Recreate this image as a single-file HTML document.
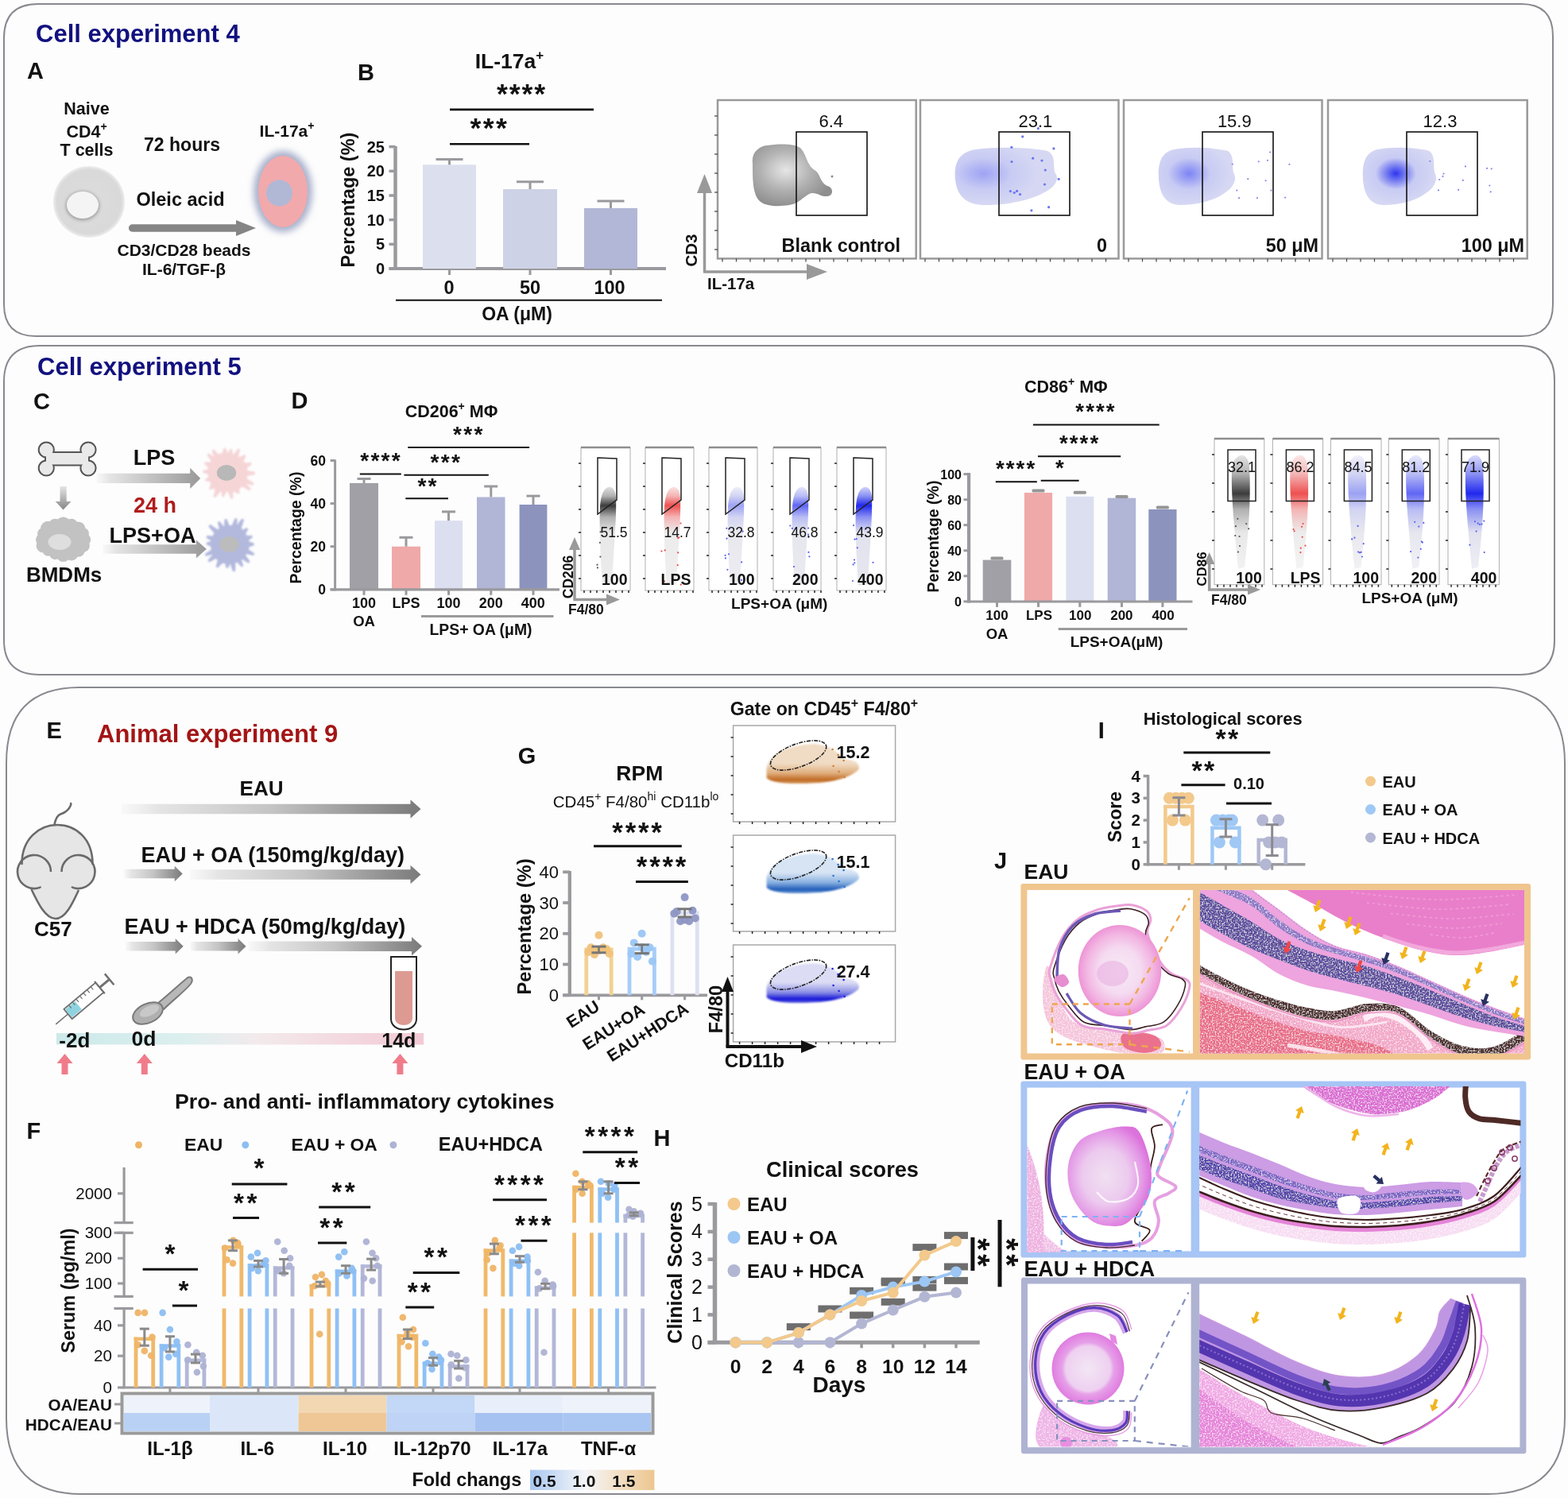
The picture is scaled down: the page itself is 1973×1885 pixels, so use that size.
<!DOCTYPE html>
<html><head><meta charset="utf-8"><title>Figure</title>
<style>
html,body{margin:0;padding:0;background:#fdfdfd;}
svg{display:block;font-family:"Liberation Sans",Arial,sans-serif;}
</style></head><body>
<svg xmlns="http://www.w3.org/2000/svg" width="1973" height="1885" viewBox="0 0 1973 1885">
<defs>
<radialGradient id="gcell" cx="0.5" cy="0.5" r="0.5"><stop offset="0" stop-color="#dddddd"/><stop offset="0.9" stop-color="#d9d9d9"/><stop offset="1" stop-color="#dadada" stop-opacity="0.45"/></radialGradient>
<filter id="blur2" x="-30%" y="-30%" width="160%" height="160%"><feGaussianBlur stdDeviation="2"/></filter>
<filter id="blur4" x="-40%" y="-40%" width="180%" height="180%"><feGaussianBlur stdDeviation="4"/></filter>
<filter id="blur1" x="-30%" y="-30%" width="160%" height="160%"><feGaussianBlur stdDeviation="1"/></filter>
<radialGradient id="fgray" cx="0.42" cy="0.42" r="0.6"><stop offset="0" stop-color="#e6e6e6"/><stop offset="0.55" stop-color="#b0b0b0"/><stop offset="1" stop-color="#8e8e8e"/></radialGradient>
<radialGradient id="fblue1" cx="0.28" cy="0.45" r="0.55"><stop offset="0" stop-color="#9ea4f4"/><stop offset="0.5" stop-color="#c8cbf3"/><stop offset="1" stop-color="#d6d8f3"/></radialGradient>
<radialGradient id="fblue2" cx="0.4" cy="0.45" r="0.55"><stop offset="0" stop-color="#7c84f4"/><stop offset="0.5" stop-color="#c8cbf3"/><stop offset="1" stop-color="#d6d8f3"/></radialGradient>
<radialGradient id="fblue3" cx="0.45" cy="0.45" r="0.55"><stop offset="0" stop-color="#2e36ee"/><stop offset="0.5" stop-color="#c8cbf3"/><stop offset="1" stop-color="#d6d8f3"/></radialGradient>
<linearGradient id="gdown" x1="0" y1="612" x2="0" y2="642" gradientUnits="userSpaceOnUse"><stop offset="0" stop-color="#e4e4e4"/><stop offset="1" stop-color="#858585"/></linearGradient>
<linearGradient id="garr1" x1="121.6" y1="0" x2="252.2" y2="0" gradientUnits="userSpaceOnUse"><stop offset="0" stop-color="#e6e6e6" stop-opacity="0.2"/><stop offset="0.12" stop-color="#e2e2e2" stop-opacity="0.9"/><stop offset="0.5" stop-color="#c4c4c4"/><stop offset="1" stop-color="#999999"/></linearGradient>
<linearGradient id="garr2" x1="129.3" y1="0" x2="259.9" y2="0" gradientUnits="userSpaceOnUse"><stop offset="0" stop-color="#e6e6e6" stop-opacity="0.2"/><stop offset="0.12" stop-color="#e2e2e2" stop-opacity="0.9"/><stop offset="0.5" stop-color="#c4c4c4"/><stop offset="1" stop-color="#999999"/></linearGradient>
<linearGradient id="g206_0" x1="0" y1="611" x2="0" y2="743" gradientUnits="userSpaceOnUse"><stop offset="0" stop-color="#b0b0b0" stop-opacity="0.3"/><stop offset="0.1" stop-color="#b0b0b0"/><stop offset="0.19" stop-color="#3c3c3c"/><stop offset="0.3" stop-color="#b0b0b0"/><stop offset="0.45" stop-color="#e8e8e8"/><stop offset="1" stop-color="#e8e8e8" stop-opacity="0.8"/></linearGradient>
<linearGradient id="g206_1" x1="0" y1="611" x2="0" y2="743" gradientUnits="userSpaceOnUse"><stop offset="0" stop-color="#f4b4b4" stop-opacity="0.3"/><stop offset="0.1" stop-color="#f4b4b4"/><stop offset="0.19" stop-color="#ee5050"/><stop offset="0.3" stop-color="#f4b4b4"/><stop offset="0.45" stop-color="#ececec"/><stop offset="1" stop-color="#ececec" stop-opacity="0.8"/></linearGradient>
<linearGradient id="g206_2" x1="0" y1="611" x2="0" y2="743" gradientUnits="userSpaceOnUse"><stop offset="0" stop-color="#d2d4f2" stop-opacity="0.3"/><stop offset="0.1" stop-color="#d2d4f2"/><stop offset="0.19" stop-color="#9ca2f4"/><stop offset="0.3" stop-color="#d2d4f2"/><stop offset="0.45" stop-color="#e8e8ee"/><stop offset="1" stop-color="#e8e8ee" stop-opacity="0.8"/></linearGradient>
<linearGradient id="g206_3" x1="0" y1="611" x2="0" y2="743" gradientUnits="userSpaceOnUse"><stop offset="0" stop-color="#b8bcf4" stop-opacity="0.3"/><stop offset="0.1" stop-color="#b8bcf4"/><stop offset="0.19" stop-color="#6066f4"/><stop offset="0.3" stop-color="#b8bcf4"/><stop offset="0.45" stop-color="#e6e6ee"/><stop offset="1" stop-color="#e6e6ee" stop-opacity="0.8"/></linearGradient>
<linearGradient id="g206_4" x1="0" y1="611" x2="0" y2="743" gradientUnits="userSpaceOnUse"><stop offset="0" stop-color="#8a90f2" stop-opacity="0.3"/><stop offset="0.1" stop-color="#8a90f2"/><stop offset="0.19" stop-color="#2028ee"/><stop offset="0.3" stop-color="#8a90f2"/><stop offset="0.45" stop-color="#e2e2ee"/><stop offset="1" stop-color="#e2e2ee" stop-opacity="0.8"/></linearGradient>
<linearGradient id="g86_0" x1="0" y1="572" x2="0" y2="735.7" gradientUnits="userSpaceOnUse"><stop offset="0" stop-color="#b0b0b0" stop-opacity="0.3"/><stop offset="0.15" stop-color="#b0b0b0"/><stop offset="0.3" stop-color="#3c3c3c"/><stop offset="0.42" stop-color="#b0b0b0"/><stop offset="0.6" stop-color="#e8e8e8"/><stop offset="1" stop-color="#e8e8e8" stop-opacity="0.4"/></linearGradient>
<linearGradient id="g86_1" x1="0" y1="572" x2="0" y2="735.7" gradientUnits="userSpaceOnUse"><stop offset="0" stop-color="#f4b4b4" stop-opacity="0.3"/><stop offset="0.15" stop-color="#f4b4b4"/><stop offset="0.3" stop-color="#ee5050"/><stop offset="0.42" stop-color="#f4b4b4"/><stop offset="0.6" stop-color="#ececec"/><stop offset="1" stop-color="#ececec" stop-opacity="0.4"/></linearGradient>
<linearGradient id="g86_2" x1="0" y1="572" x2="0" y2="735.7" gradientUnits="userSpaceOnUse"><stop offset="0" stop-color="#d2d4f2" stop-opacity="0.3"/><stop offset="0.15" stop-color="#d2d4f2"/><stop offset="0.3" stop-color="#9ca2f4"/><stop offset="0.42" stop-color="#d2d4f2"/><stop offset="0.6" stop-color="#e8e8ee"/><stop offset="1" stop-color="#e8e8ee" stop-opacity="0.4"/></linearGradient>
<linearGradient id="g86_3" x1="0" y1="572" x2="0" y2="735.7" gradientUnits="userSpaceOnUse"><stop offset="0" stop-color="#b8bcf4" stop-opacity="0.3"/><stop offset="0.15" stop-color="#b8bcf4"/><stop offset="0.3" stop-color="#6066f4"/><stop offset="0.42" stop-color="#b8bcf4"/><stop offset="0.6" stop-color="#e6e6ee"/><stop offset="1" stop-color="#e6e6ee" stop-opacity="0.4"/></linearGradient>
<linearGradient id="g86_4" x1="0" y1="572" x2="0" y2="735.7" gradientUnits="userSpaceOnUse"><stop offset="0" stop-color="#8a90f2" stop-opacity="0.3"/><stop offset="0.15" stop-color="#8a90f2"/><stop offset="0.3" stop-color="#2028ee"/><stop offset="0.42" stop-color="#8a90f2"/><stop offset="0.6" stop-color="#e2e2ee"/><stop offset="1" stop-color="#e2e2ee" stop-opacity="0.4"/></linearGradient>
<linearGradient id="gE1" x1="153" y1="0" x2="529.5" y2="0" gradientUnits="userSpaceOnUse"><stop offset="0" stop-color="#e6e6e6" stop-opacity="0.2"/><stop offset="0.12" stop-color="#e2e2e2" stop-opacity="0.9"/><stop offset="0.5" stop-color="#c4c4c4"/><stop offset="1" stop-color="#7a7a7a"/></linearGradient>
<linearGradient id="gE2a" x1="156" y1="0" x2="229.7" y2="0" gradientUnits="userSpaceOnUse"><stop offset="0" stop-color="#e6e6e6" stop-opacity="0.2"/><stop offset="0.12" stop-color="#e2e2e2" stop-opacity="0.9"/><stop offset="0.5" stop-color="#c4c4c4"/><stop offset="1" stop-color="#7a7a7a"/></linearGradient>
<linearGradient id="gE2b" x1="239.5" y1="0" x2="529.5" y2="0" gradientUnits="userSpaceOnUse"><stop offset="0" stop-color="#e6e6e6" stop-opacity="0.2"/><stop offset="0.12" stop-color="#e2e2e2" stop-opacity="0.9"/><stop offset="0.5" stop-color="#c4c4c4"/><stop offset="1" stop-color="#7a7a7a"/></linearGradient>
<linearGradient id="gE3a" x1="158" y1="0" x2="230.7" y2="0" gradientUnits="userSpaceOnUse"><stop offset="0" stop-color="#e6e6e6" stop-opacity="0.2"/><stop offset="0.12" stop-color="#e2e2e2" stop-opacity="0.9"/><stop offset="0.5" stop-color="#c4c4c4"/><stop offset="1" stop-color="#7a7a7a"/></linearGradient>
<linearGradient id="gE3b" x1="239.5" y1="0" x2="309.5" y2="0" gradientUnits="userSpaceOnUse"><stop offset="0" stop-color="#e6e6e6" stop-opacity="0.2"/><stop offset="0.12" stop-color="#e2e2e2" stop-opacity="0.9"/><stop offset="0.5" stop-color="#c4c4c4"/><stop offset="1" stop-color="#7a7a7a"/></linearGradient>
<linearGradient id="gE3c" x1="312.8" y1="0" x2="531" y2="0" gradientUnits="userSpaceOnUse"><stop offset="0" stop-color="#e6e6e6" stop-opacity="0.2"/><stop offset="0.12" stop-color="#e2e2e2" stop-opacity="0.9"/><stop offset="0.5" stop-color="#c4c4c4"/><stop offset="1" stop-color="#7a7a7a"/></linearGradient>
<linearGradient id="gtl" x1="71" y1="0" x2="533" y2="0" gradientUnits="userSpaceOnUse"><stop offset="0" stop-color="#cde9ea"/><stop offset="0.35" stop-color="#dcefef"/><stop offset="0.55" stop-color="#f3eaec"/><stop offset="1" stop-color="#f3c9d4"/></linearGradient>
<linearGradient id="gfold" x1="667" y1="0" x2="823" y2="0" gradientUnits="userSpaceOnUse"><stop offset="0" stop-color="#a9c8f1"/><stop offset="0.45" stop-color="#f6f6f8"/><stop offset="1" stop-color="#edc68f"/></linearGradient>
<linearGradient id="gG0" x1="0" y1="933" x2="0" y2="988" gradientUnits="userSpaceOnUse"><stop offset="0" stop-color="#f0dcc4"/><stop offset="0.5" stop-color="#f0dcc4"/><stop offset="0.72" stop-color="#e0b080"/><stop offset="0.88" stop-color="#c06a20"/><stop offset="1" stop-color="#e0b080"/></linearGradient>
<linearGradient id="gG1" x1="0" y1="1071" x2="0" y2="1126" gradientUnits="userSpaceOnUse"><stop offset="0" stop-color="#d6e4f4"/><stop offset="0.5" stop-color="#d6e4f4"/><stop offset="0.72" stop-color="#88b0e0"/><stop offset="0.88" stop-color="#1e5cb8"/><stop offset="1" stop-color="#88b0e0"/></linearGradient>
<linearGradient id="gG2" x1="0" y1="1209" x2="0" y2="1264" gradientUnits="userSpaceOnUse"><stop offset="0" stop-color="#dcdcf4"/><stop offset="0.5" stop-color="#dcdcf4"/><stop offset="0.72" stop-color="#8c90e4"/><stop offset="0.88" stop-color="#1010d8"/><stop offset="1" stop-color="#8c90e4"/></linearGradient>
<filter id="spW" x="0" y="0" width="100%" height="100%"><feTurbulence type="fractalNoise" baseFrequency="0.55" numOctaves="1" seed="4" result="n"/><feColorMatrix in="n" type="matrix" values="0 0 0 0 1  0 0 0 0 1  0 0 0 0 1  0 0 0 -2.6 1.38" result="w"/><feComposite in="w" in2="SourceGraphic" operator="in" result="wm"/><feMerge><feMergeNode in="SourceGraphic"/><feMergeNode in="wm"/></feMerge></filter>
<filter id="spD" x="0" y="0" width="100%" height="100%"><feTurbulence type="fractalNoise" baseFrequency="0.5" numOctaves="1" seed="9" result="n"/><feColorMatrix in="n" type="matrix" values="0 0 0 0 0.35  0 0 0 0 0.25  0 0 0 0 0.6  0 0 0 -7 3.5" result="w"/><feComposite in="w" in2="SourceGraphic" operator="in" result="wm"/><feMerge><feMergeNode in="SourceGraphic"/><feMergeNode in="wm"/></feMerge></filter>
<radialGradient id="glens1" cx="0.5" cy="0.5" r="0.5"><stop offset="0" stop-color="#f7e9f5"/><stop offset="0.5" stop-color="#f5dbf1"/><stop offset="0.8" stop-color="#f2b6e2"/><stop offset="1" stop-color="#ee94d6"/></radialGradient>
<radialGradient id="glens2" cx="0.45" cy="0.5" r="0.55"><stop offset="0" stop-color="#f0e0f2"/><stop offset="0.5" stop-color="#eccaee"/><stop offset="0.8" stop-color="#e49ae6"/><stop offset="1" stop-color="#dc72dc"/></radialGradient>
<radialGradient id="glens3" cx="0.5" cy="0.5" r="0.5"><stop offset="0" stop-color="#f3e6f5"/><stop offset="0.62" stop-color="#eed0f0"/><stop offset="0.72" stop-color="#e6a0e8"/><stop offset="1" stop-color="#e07ce0"/></radialGradient>
</defs>
<rect x="0" y="0" width="1973" height="1885" fill="#fdfdfd"/>
<path d="M48,5 H1914 Q1954,5 1954,45 V383 Q1954,423 1914,423 H45 Q5,423 5,383 V48 Q5,5 48,5 Z" fill="none" stroke="#88898f" stroke-width="2" />
<path d="M50,435 H1913 Q1956,435 1956,478 V806 Q1956,849 1913,849 H50 Q5,849 5,806 V480 Q5,435 50,435 Z" fill="none" stroke="#88898f" stroke-width="2" />
<path d="M100,865 H1874 Q1969,865 1969,960 V1783 Q1969,1880 1872,1880 H103 Q8,1880 8,1785 V960 Q8,865 100,865 Z" fill="none" stroke="#88898f" stroke-width="2" />
<text x="45.0" y="52.5" font-size="31" text-anchor="start" fill="#12117f" style="font-weight:bold;" >Cell experiment 4</text>
<text x="47.0" y="471.5" font-size="31" text-anchor="start" fill="#12117f" style="font-weight:bold;" >Cell experiment 5</text>
<text x="122.0" y="934.0" font-size="31" text-anchor="start" fill="#a31515" style="font-weight:bold;" >Animal experiment 9</text>
<text x="34.0" y="99.0" font-size="29" text-anchor="start" fill="#111" style="font-weight:bold;" >A</text>
<text x="109.0" y="144.0" font-size="21.5" text-anchor="middle" fill="#111" style="font-weight:bold;" >Naive</text>
<text x="109" y="172.5" font-size="21.5" text-anchor="middle" style="font-weight:bold" fill="#111">CD4<tspan dy="-9" font-size="14">+</tspan></text>
<text x="109.0" y="196.0" font-size="21.5" text-anchor="middle" fill="#111" style="font-weight:bold;" >T cells</text>
<circle cx="112.0" cy="254.0" r="45.0" fill="url(#gcell)" />
<ellipse cx="104.0" cy="259.0" rx="21.0" ry="18.0" fill="#9a9a9a" filter="url(#blur2)"/>
<ellipse cx="104.0" cy="258.0" rx="20.0" ry="17.0" fill="#f4f4f4" />
<text x="229.0" y="190.0" font-size="23" text-anchor="middle" fill="#111" style="font-weight:bold;" >72 hours</text>
<text x="227.0" y="259.0" font-size="23.5" text-anchor="middle" fill="#111" style="font-weight:bold;" >Oleic acid</text>
<line x1="166.5" y1="287.0" x2="300.0" y2="287.0" stroke="#858585" stroke-width="9.3" stroke-linecap="round"/>
<path d="M297,277 L322,287 L297,297 Z" fill="#858585" stroke="none" stroke-width="1" />
<text x="231.5" y="321.5" font-size="21" text-anchor="middle" fill="#111" style="font-weight:bold;" >CD3/CD28 beads</text>
<text x="231.5" y="346.0" font-size="21" text-anchor="middle" fill="#111" style="font-weight:bold;" >IL-6/TGF-β</text>
<text x="361" y="172" font-size="21" text-anchor="middle" fill="#111" style="font-weight:bold">IL-17a<tspan dy="-9" font-size="14">+</tspan></text>
<ellipse cx="356.0" cy="241.0" rx="37.0" ry="51.0" fill="#a8b0cb" filter="url(#blur4)"/>
<ellipse cx="356.0" cy="241.0" rx="31.0" ry="45.0" fill="#f2a9ac" />
<circle cx="351.5" cy="243.0" r="16.5" fill="#b0b8d6" />
<text x="450.0" y="100.8" font-size="29" text-anchor="start" fill="#111" style="font-weight:bold;" >B</text>
<text x="641" y="86" font-size="26.5" text-anchor="middle" fill="#111" style="font-weight:bold">IL-17a<tspan dy="-11" font-size="17">+</tspan></text>
<line x1="497.5" y1="184.0" x2="497.5" y2="340.0" stroke="#9a9a9e" stroke-width="4.5" />
<line x1="489.5" y1="338.0" x2="838.0" y2="338.0" stroke="#9a9a9e" stroke-width="3.8" />
<line x1="489.5" y1="338.0" x2="497.5" y2="338.0" stroke="#9a9a9e" stroke-width="3.5" />
<text x="484.0" y="345.0" font-size="20" text-anchor="end" fill="#111" style="font-weight:bold;" >0</text>
<line x1="489.5" y1="307.3" x2="497.5" y2="307.3" stroke="#9a9a9e" stroke-width="3.5" />
<text x="484.0" y="314.3" font-size="20" text-anchor="end" fill="#111" style="font-weight:bold;" >5</text>
<line x1="489.5" y1="276.6" x2="497.5" y2="276.6" stroke="#9a9a9e" stroke-width="3.5" />
<text x="484.0" y="283.6" font-size="20" text-anchor="end" fill="#111" style="font-weight:bold;" >10</text>
<line x1="489.5" y1="246.0" x2="497.5" y2="246.0" stroke="#9a9a9e" stroke-width="3.5" />
<text x="484.0" y="253.0" font-size="20" text-anchor="end" fill="#111" style="font-weight:bold;" >15</text>
<line x1="489.5" y1="215.3" x2="497.5" y2="215.3" stroke="#9a9a9e" stroke-width="3.5" />
<text x="484.0" y="222.3" font-size="20" text-anchor="end" fill="#111" style="font-weight:bold;" >20</text>
<line x1="489.5" y1="184.6" x2="497.5" y2="184.6" stroke="#9a9a9e" stroke-width="3.5" />
<text x="484.0" y="191.6" font-size="20" text-anchor="end" fill="#111" style="font-weight:bold;" >25</text>
<rect x="532.0" y="207.3" width="67.0" height="130.7" fill="#dcdfee" stroke="none" stroke-width="1" />
<line x1="565.5" y1="200.6" x2="565.5" y2="207.3" stroke="#9a9a9e" stroke-width="3" />
<line x1="548.5" y1="200.6" x2="582.5" y2="200.6" stroke="#9a9a9e" stroke-width="3" />
<line x1="565.5" y1="338.0" x2="565.5" y2="346.0" stroke="#9a9a9e" stroke-width="3" />
<rect x="633.0" y="238.0" width="68.0" height="100.0" fill="#ced2e6" stroke="none" stroke-width="1" />
<line x1="667.0" y1="228.8" x2="667.0" y2="238.0" stroke="#9a9a9e" stroke-width="3" />
<line x1="650.0" y1="228.8" x2="684.0" y2="228.8" stroke="#9a9a9e" stroke-width="3" />
<line x1="667.0" y1="338.0" x2="667.0" y2="346.0" stroke="#9a9a9e" stroke-width="3" />
<rect x="735.0" y="261.9" width="67.0" height="76.1" fill="#b2b7d7" stroke="none" stroke-width="1" />
<line x1="768.5" y1="253.0" x2="768.5" y2="261.9" stroke="#9a9a9e" stroke-width="3" />
<line x1="751.5" y1="253.0" x2="785.5" y2="253.0" stroke="#9a9a9e" stroke-width="3" />
<line x1="768.5" y1="338.0" x2="768.5" y2="346.0" stroke="#9a9a9e" stroke-width="3" />
<text x="565.0" y="369.6" font-size="23.5" text-anchor="middle" fill="#111" style="font-weight:bold;" >0</text>
<text x="667.0" y="369.6" font-size="23.5" text-anchor="middle" fill="#111" style="font-weight:bold;" >50</text>
<text x="767.0" y="369.6" font-size="23.5" text-anchor="middle" fill="#111" style="font-weight:bold;" >100</text>
<line x1="498.0" y1="377.7" x2="833.0" y2="377.7" stroke="#111" stroke-width="2" />
<text x="650.5" y="403.0" font-size="23" text-anchor="middle" fill="#111" style="font-weight:bold;" >OA (μM)</text>
<text transform="translate(446,251.5) rotate(-90)" font-size="23.5" text-anchor="middle" fill="#111" style="font-weight:bold">Percentage (%)</text>
<text x="656.5" y="130.2" font-size="35.7" text-anchor="middle" fill="#111" style="font-weight:bold;letter-spacing:1.92px">****</text>
<line x1="566.0" y1="137.9" x2="747.0" y2="137.9" stroke="#111" stroke-width="2.6" />
<text x="615.9" y="173.2" font-size="35.7" text-anchor="middle" fill="#111" style="font-weight:bold;letter-spacing:2.42px">***</text>
<line x1="566.0" y1="181.3" x2="666.0" y2="181.3" stroke="#111" stroke-width="2.6" />
<rect x="903.0" y="126.0" width="249.7" height="199.4" fill="#ffffff" stroke="#9a9a9a" stroke-width="2.5" />
<path d="M947,206 C945,192 955,184 965,183 C978,181 998,180 1007,186 C1015,194 1015,208 1025,214 C1033,219 1031,229 1041,234 C1049,236 1049,246 1041,247 C1033,248 1029,242 1021,243 C1011,246 1007,256 993,258 C981,260 965,260 957,254 C947,246 947,226 947,206 Z" fill="url(#fgray)" stroke="none" stroke-width="1" />
<circle cx="1047.0" cy="222.0" r="1.5" fill="#8c8c8c" />
<rect x="1002.0" y="166.0" width="89.0" height="105.0" fill="none" stroke="#111" stroke-width="1.6" />
<text x="1045.8" y="160.0" font-size="22" text-anchor="middle" fill="#111" style="" >6.4</text>
<text x="1133.0" y="317.0" font-size="23.4" text-anchor="end" fill="#111" style="font-weight:bold;" >Blank control</text>
<line x1="909.0" y1="325.4" x2="909.0" y2="329.4" stroke="#444" stroke-width="1.2" />
<line x1="926.5" y1="325.4" x2="926.5" y2="329.4" stroke="#444" stroke-width="1.2" />
<line x1="944.0" y1="325.4" x2="944.0" y2="329.4" stroke="#444" stroke-width="1.2" />
<line x1="961.5" y1="325.4" x2="961.5" y2="329.4" stroke="#444" stroke-width="1.2" />
<line x1="979.0" y1="325.4" x2="979.0" y2="329.4" stroke="#444" stroke-width="1.2" />
<line x1="996.5" y1="325.4" x2="996.5" y2="329.4" stroke="#444" stroke-width="1.2" />
<line x1="1014.0" y1="325.4" x2="1014.0" y2="329.4" stroke="#444" stroke-width="1.2" />
<line x1="1031.5" y1="325.4" x2="1031.5" y2="329.4" stroke="#444" stroke-width="1.2" />
<line x1="1049.0" y1="325.4" x2="1049.0" y2="329.4" stroke="#444" stroke-width="1.2" />
<line x1="1066.5" y1="325.4" x2="1066.5" y2="329.4" stroke="#444" stroke-width="1.2" />
<line x1="1084.0" y1="325.4" x2="1084.0" y2="329.4" stroke="#444" stroke-width="1.2" />
<line x1="1101.5" y1="325.4" x2="1101.5" y2="329.4" stroke="#444" stroke-width="1.2" />
<line x1="1119.0" y1="325.4" x2="1119.0" y2="329.4" stroke="#444" stroke-width="1.2" />
<line x1="1136.5" y1="325.4" x2="1136.5" y2="329.4" stroke="#444" stroke-width="1.2" />
<rect x="1158.0" y="126.0" width="249.5" height="199.4" fill="#ffffff" stroke="#9a9a9a" stroke-width="2.5" />
<path d="M1202.0,226 C1200.0,206 1206.0,191 1228.0,188 C1258.0,184 1298.0,186 1318.0,190 C1330.0,196 1324.0,210 1328.0,218 C1334.0,226 1326.0,236 1316.0,241 C1298.0,252 1268.0,258 1238.0,258 C1218.0,258 1204.0,248 1202.0,226 Z" fill="url(#fblue1)" stroke="none" stroke-width="1" />
<circle cx="1273.0" cy="203.5" r="1.6" fill="#6c74ee" />
<circle cx="1276.3" cy="242.5" r="1.6" fill="#6c74ee" />
<circle cx="1306.3" cy="161.7" r="1.6" fill="#6c74ee" />
<circle cx="1271.4" cy="240.6" r="1.6" fill="#6c74ee" />
<circle cx="1279.6" cy="240.4" r="1.6" fill="#6c74ee" />
<circle cx="1315.3" cy="214.0" r="1.6" fill="#6c74ee" />
<circle cx="1332.2" cy="225.3" r="1.6" fill="#6c74ee" />
<circle cx="1311.0" cy="202.0" r="1.6" fill="#6c74ee" />
<circle cx="1286.7" cy="171.9" r="1.6" fill="#6c74ee" />
<circle cx="1299.7" cy="199.2" r="1.6" fill="#6c74ee" />
<circle cx="1325.9" cy="186.9" r="1.6" fill="#6c74ee" />
<circle cx="1297.9" cy="264.8" r="1.6" fill="#6c74ee" />
<circle cx="1314.5" cy="232.0" r="1.6" fill="#6c74ee" />
<circle cx="1319.6" cy="260.7" r="1.6" fill="#6c74ee" />
<circle cx="1283.5" cy="244.6" r="1.6" fill="#6c74ee" />
<circle cx="1272.9" cy="185.3" r="1.6" fill="#6c74ee" />
<rect x="1257.0" y="166.0" width="89.0" height="105.0" fill="none" stroke="#111" stroke-width="1.6" />
<text x="1302.9" y="160.0" font-size="22" text-anchor="middle" fill="#111" style="" >23.1</text>
<text x="1393.0" y="317.0" font-size="23.4" text-anchor="end" fill="#111" style="font-weight:bold;" >0</text>
<line x1="1164.0" y1="325.4" x2="1164.0" y2="329.4" stroke="#444" stroke-width="1.2" />
<line x1="1181.5" y1="325.4" x2="1181.5" y2="329.4" stroke="#444" stroke-width="1.2" />
<line x1="1199.0" y1="325.4" x2="1199.0" y2="329.4" stroke="#444" stroke-width="1.2" />
<line x1="1216.5" y1="325.4" x2="1216.5" y2="329.4" stroke="#444" stroke-width="1.2" />
<line x1="1234.0" y1="325.4" x2="1234.0" y2="329.4" stroke="#444" stroke-width="1.2" />
<line x1="1251.5" y1="325.4" x2="1251.5" y2="329.4" stroke="#444" stroke-width="1.2" />
<line x1="1269.0" y1="325.4" x2="1269.0" y2="329.4" stroke="#444" stroke-width="1.2" />
<line x1="1286.5" y1="325.4" x2="1286.5" y2="329.4" stroke="#444" stroke-width="1.2" />
<line x1="1304.0" y1="325.4" x2="1304.0" y2="329.4" stroke="#444" stroke-width="1.2" />
<line x1="1321.5" y1="325.4" x2="1321.5" y2="329.4" stroke="#444" stroke-width="1.2" />
<line x1="1339.0" y1="325.4" x2="1339.0" y2="329.4" stroke="#444" stroke-width="1.2" />
<line x1="1356.5" y1="325.4" x2="1356.5" y2="329.4" stroke="#444" stroke-width="1.2" />
<line x1="1374.0" y1="325.4" x2="1374.0" y2="329.4" stroke="#444" stroke-width="1.2" />
<line x1="1391.5" y1="325.4" x2="1391.5" y2="329.4" stroke="#444" stroke-width="1.2" />
<rect x="1414.0" y="126.0" width="249.5" height="199.4" fill="#ffffff" stroke="#9a9a9a" stroke-width="2.5" />
<path d="M1458.0,226 C1456.5,206 1461.0,191 1477.5,188 C1500.0,184 1530.0,186 1545.0,190 C1554.0,196 1549.5,210 1552.5,218 C1557.0,226 1551.0,236 1543.5,241 C1530.0,252 1507.5,258 1485.0,258 C1470.0,258 1459.5,248 1458.0,226 Z" fill="url(#fblue2)" stroke="none" stroke-width="1" />
<circle cx="1583.8" cy="203.3" r="1.1" fill="#8088ee" />
<circle cx="1595.0" cy="201.8" r="1.1" fill="#8088ee" />
<circle cx="1581.9" cy="249.1" r="1.1" fill="#8088ee" />
<circle cx="1550.8" cy="206.6" r="1.1" fill="#8088ee" />
<circle cx="1598.1" cy="191.5" r="1.1" fill="#8088ee" />
<circle cx="1556.3" cy="239.6" r="1.1" fill="#8088ee" />
<circle cx="1622.4" cy="206.8" r="1.1" fill="#8088ee" />
<circle cx="1559.1" cy="249.2" r="1.1" fill="#8088ee" />
<circle cx="1570.3" cy="225.2" r="1.1" fill="#8088ee" />
<circle cx="1592.6" cy="227.3" r="1.1" fill="#8088ee" />
<circle cx="1617.2" cy="248.6" r="1.1" fill="#8088ee" />
<circle cx="1599.5" cy="239.6" r="1.1" fill="#8088ee" />
<rect x="1513.0" y="166.0" width="89.0" height="105.0" fill="none" stroke="#111" stroke-width="1.6" />
<text x="1553.3" y="160.0" font-size="22" text-anchor="middle" fill="#111" style="" >15.9</text>
<text x="1659.0" y="317.0" font-size="23.4" text-anchor="end" fill="#111" style="font-weight:bold;" >50 μM</text>
<line x1="1420.0" y1="325.4" x2="1420.0" y2="329.4" stroke="#444" stroke-width="1.2" />
<line x1="1437.5" y1="325.4" x2="1437.5" y2="329.4" stroke="#444" stroke-width="1.2" />
<line x1="1455.0" y1="325.4" x2="1455.0" y2="329.4" stroke="#444" stroke-width="1.2" />
<line x1="1472.5" y1="325.4" x2="1472.5" y2="329.4" stroke="#444" stroke-width="1.2" />
<line x1="1490.0" y1="325.4" x2="1490.0" y2="329.4" stroke="#444" stroke-width="1.2" />
<line x1="1507.5" y1="325.4" x2="1507.5" y2="329.4" stroke="#444" stroke-width="1.2" />
<line x1="1525.0" y1="325.4" x2="1525.0" y2="329.4" stroke="#444" stroke-width="1.2" />
<line x1="1542.5" y1="325.4" x2="1542.5" y2="329.4" stroke="#444" stroke-width="1.2" />
<line x1="1560.0" y1="325.4" x2="1560.0" y2="329.4" stroke="#444" stroke-width="1.2" />
<line x1="1577.5" y1="325.4" x2="1577.5" y2="329.4" stroke="#444" stroke-width="1.2" />
<line x1="1595.0" y1="325.4" x2="1595.0" y2="329.4" stroke="#444" stroke-width="1.2" />
<line x1="1612.5" y1="325.4" x2="1612.5" y2="329.4" stroke="#444" stroke-width="1.2" />
<line x1="1630.0" y1="325.4" x2="1630.0" y2="329.4" stroke="#444" stroke-width="1.2" />
<line x1="1647.5" y1="325.4" x2="1647.5" y2="329.4" stroke="#444" stroke-width="1.2" />
<rect x="1671.0" y="126.0" width="250.7" height="199.4" fill="#ffffff" stroke="#9a9a9a" stroke-width="2.5" />
<path d="M1715.0,226 C1713.5625,206 1717.875,191 1733.6875,188 C1755.25,184 1784.0,186 1798.375,190 C1807.0,196 1802.6875,210 1805.5625,218 C1809.875,226 1804.125,236 1796.9375,241 C1784.0,252 1762.4375,258 1740.875,258 C1726.5,258 1716.4375,248 1715.0,226 Z" fill="url(#fblue3)" stroke="none" stroke-width="1" />
<circle cx="1816.5" cy="218.6" r="1.1" fill="#8088ee" />
<circle cx="1810.0" cy="239.4" r="1.1" fill="#8088ee" />
<circle cx="1815.5" cy="221.9" r="1.1" fill="#8088ee" />
<circle cx="1871.1" cy="211.8" r="1.1" fill="#8088ee" />
<circle cx="1874.4" cy="233.5" r="1.1" fill="#8088ee" />
<circle cx="1840.8" cy="226.9" r="1.1" fill="#8088ee" />
<circle cx="1843.9" cy="209.4" r="1.1" fill="#8088ee" />
<circle cx="1876.7" cy="212.3" r="1.1" fill="#8088ee" />
<circle cx="1875.7" cy="241.4" r="1.1" fill="#8088ee" />
<circle cx="1799.3" cy="202.8" r="1.1" fill="#8088ee" />
<circle cx="1835.2" cy="238.9" r="1.1" fill="#8088ee" />
<circle cx="1811.2" cy="226.0" r="1.1" fill="#8088ee" />
<rect x="1770.0" y="166.0" width="89.0" height="105.0" fill="none" stroke="#111" stroke-width="1.6" />
<text x="1812.0" y="160.0" font-size="22" text-anchor="middle" fill="#111" style="" >12.3</text>
<text x="1918.0" y="317.0" font-size="23.4" text-anchor="end" fill="#111" style="font-weight:bold;" >100 μM</text>
<line x1="1677.0" y1="325.4" x2="1677.0" y2="329.4" stroke="#444" stroke-width="1.2" />
<line x1="1694.5" y1="325.4" x2="1694.5" y2="329.4" stroke="#444" stroke-width="1.2" />
<line x1="1712.0" y1="325.4" x2="1712.0" y2="329.4" stroke="#444" stroke-width="1.2" />
<line x1="1729.5" y1="325.4" x2="1729.5" y2="329.4" stroke="#444" stroke-width="1.2" />
<line x1="1747.0" y1="325.4" x2="1747.0" y2="329.4" stroke="#444" stroke-width="1.2" />
<line x1="1764.5" y1="325.4" x2="1764.5" y2="329.4" stroke="#444" stroke-width="1.2" />
<line x1="1782.0" y1="325.4" x2="1782.0" y2="329.4" stroke="#444" stroke-width="1.2" />
<line x1="1799.5" y1="325.4" x2="1799.5" y2="329.4" stroke="#444" stroke-width="1.2" />
<line x1="1817.0" y1="325.4" x2="1817.0" y2="329.4" stroke="#444" stroke-width="1.2" />
<line x1="1834.5" y1="325.4" x2="1834.5" y2="329.4" stroke="#444" stroke-width="1.2" />
<line x1="1852.0" y1="325.4" x2="1852.0" y2="329.4" stroke="#444" stroke-width="1.2" />
<line x1="1869.5" y1="325.4" x2="1869.5" y2="329.4" stroke="#444" stroke-width="1.2" />
<line x1="1887.0" y1="325.4" x2="1887.0" y2="329.4" stroke="#444" stroke-width="1.2" />
<line x1="1904.5" y1="325.4" x2="1904.5" y2="329.4" stroke="#444" stroke-width="1.2" />
<line x1="899.0" y1="146.0" x2="903.0" y2="146.0" stroke="#444" stroke-width="1.2" />
<line x1="899.0" y1="170.0" x2="903.0" y2="170.0" stroke="#444" stroke-width="1.2" />
<line x1="899.0" y1="194.0" x2="903.0" y2="194.0" stroke="#444" stroke-width="1.2" />
<line x1="899.0" y1="218.0" x2="903.0" y2="218.0" stroke="#444" stroke-width="1.2" />
<line x1="899.0" y1="242.0" x2="903.0" y2="242.0" stroke="#444" stroke-width="1.2" />
<line x1="899.0" y1="266.0" x2="903.0" y2="266.0" stroke="#444" stroke-width="1.2" />
<line x1="899.0" y1="290.0" x2="903.0" y2="290.0" stroke="#444" stroke-width="1.2" />
<line x1="899.0" y1="314.0" x2="903.0" y2="314.0" stroke="#444" stroke-width="1.2" />
<line x1="886.5" y1="342.0" x2="886.5" y2="240.0" stroke="#999" stroke-width="3.5" />
<path d="M877,243 L886.5,219 L896,243 Z" fill="#999" stroke="none" stroke-width="1" />
<line x1="885.0" y1="342.0" x2="1018.0" y2="342.0" stroke="#999" stroke-width="3.5" />
<path d="M1015,332 L1041,342 L1015,352 Z" fill="#999" stroke="none" stroke-width="1" />
<text x="890.0" y="364.0" font-size="20.5" text-anchor="start" fill="#111" style="font-weight:bold;" >IL-17a</text>
<text transform="translate(877,315) rotate(-90)" font-size="20.5" text-anchor="middle" fill="#111" style="font-weight:bold">CD3</text>
<text x="42.0" y="515.0" font-size="29" text-anchor="start" fill="#111" style="font-weight:bold;" >C</text>
<circle cx="58.3" cy="566.0" r="8.6" fill="#555" stroke="#555" stroke-width="4"/>
<circle cx="58.3" cy="589.0" r="8.6" fill="#555" stroke="#555" stroke-width="4"/>
<circle cx="111.0" cy="566.0" r="8.6" fill="#555" stroke="#555" stroke-width="4"/>
<circle cx="111.0" cy="589.0" r="8.6" fill="#555" stroke="#555" stroke-width="4"/>
<rect x="58.0" y="570.0" width="53.0" height="14.5" fill="#555" stroke="#555" stroke-width="4" />
<circle cx="58.3" cy="566.0" r="8.6" fill="#e9e9e9" />
<circle cx="58.3" cy="589.0" r="8.6" fill="#e9e9e9" />
<circle cx="111.0" cy="566.0" r="8.6" fill="#e9e9e9" />
<circle cx="111.0" cy="589.0" r="8.6" fill="#e9e9e9" />
<rect x="58.0" y="570.0" width="53.0" height="14.5" fill="#e9e9e9" stroke="none" stroke-width="1" />
<path d="M75.5,612 H83.7 V631 H89.6 L79.6,641.6 L69.7,631 H75.5 Z" fill="url(#gdown)" stroke="none" stroke-width="1" />
<circle cx="106.6" cy="679.0" r="7.6" fill="#c2c2c2" />
<circle cx="104.5" cy="686.5" r="8.4" fill="#c2c2c2" />
<circle cx="98.7" cy="692.8" r="7.9" fill="#c2c2c2" />
<circle cx="89.9" cy="697.0" r="8.5" fill="#c2c2c2" />
<circle cx="79.6" cy="698.5" r="8.6" fill="#c2c2c2" />
<circle cx="69.3" cy="697.0" r="7.2" fill="#c2c2c2" />
<circle cx="60.5" cy="692.8" r="7.0" fill="#c2c2c2" />
<circle cx="54.7" cy="686.5" r="9.1" fill="#c2c2c2" />
<circle cx="52.6" cy="679.0" r="7.6" fill="#c2c2c2" />
<circle cx="54.7" cy="671.5" r="7.6" fill="#c2c2c2" />
<circle cx="60.5" cy="665.2" r="9.5" fill="#c2c2c2" />
<circle cx="69.3" cy="661.0" r="8.2" fill="#c2c2c2" />
<circle cx="79.6" cy="659.5" r="9.1" fill="#c2c2c2" />
<circle cx="89.9" cy="661.0" r="8.2" fill="#c2c2c2" />
<circle cx="98.7" cy="665.2" r="8.6" fill="#c2c2c2" />
<circle cx="104.5" cy="671.5" r="7.4" fill="#c2c2c2" />
<ellipse cx="79.6" cy="679.0" rx="30.0" ry="22.0" fill="#c2c2c2" />
<ellipse cx="75.0" cy="682.0" rx="14.5" ry="10.0" fill="#dedede" />
<text x="80.6" y="731.6" font-size="26" text-anchor="middle" fill="#111" style="font-weight:bold;" >BMDMs</text>
<text x="194.0" y="585.0" font-size="27" text-anchor="middle" fill="#111" style="font-weight:bold;" >LPS</text>
<path d="M121.6,595.8 H239.2 V588.8 L252.2,601.9 L239.2,615.0 V608.0 H121.6 Z" fill="url(#garr1)" stroke="none" stroke-width="1" />
<text x="195.0" y="645.0" font-size="27" text-anchor="middle" fill="#b01c1c" style="font-weight:bold;" >24 h</text>
<text x="192.0" y="683.0" font-size="27" text-anchor="middle" fill="#111" style="font-weight:bold;" >LPS+OA</text>
<path d="M129.3,685.15 H246.89999999999998 V679.4 L259.9,690.9 L246.89999999999998,702.4 V696.65 H129.3 Z" fill="url(#garr2)" stroke="none" stroke-width="1" />
<path d="M310.8,592.7 L320.2,594.6 L320.2,596.5 L310.7,598.2 L309.8,602.4 L318.6,608.1 L317.8,609.9 L307.6,607.4 L307.0,607.1 L315.0,615.1 L313.9,616.6 L303.9,611.4 L300.5,615.7 L300.8,620.2 L299.4,621.0 L295.7,618.4 L292.8,617.8 L292.6,626.7 L290.9,627.0 L287.6,618.7 L284.3,618.2 L281.3,624.6 L279.7,624.3 L279.3,617.2 L276.5,618.5 L270.8,625.4 L269.1,624.5 L271.6,615.9 L269.6,613.9 L264.9,615.6 L263.8,614.4 L265.8,609.9 L264.8,605.1 L259.4,605.0 L258.9,603.5 L263.1,600.2 L262.4,596.4 L256.0,594.3 L256.1,592.6 L262.6,591.2 L262.0,587.4 L257.8,583.4 L258.4,581.9 L264.2,582.3 L266.6,580.2 L261.3,572.6 L262.5,571.3 L270.3,576.3 L270.1,575.2 L267.3,567.3 L268.9,566.3 L274.8,572.2 L280.5,570.3 L281.8,564.7 L283.5,564.5 L286.0,569.7 L287.1,571.4 L289.8,565.8 L291.4,566.0 L292.2,572.2 L294.3,572.6 L299.8,565.3 L301.4,566.1 L299.0,574.9 L301.8,575.9 L307.6,573.0 L308.8,574.2 L305.6,579.9 L308.2,583.3 L315.3,582.5 L316.0,584.1 L310.2,588.4 Z" fill="#f6d5d7" stroke="#f6d5d7" stroke-width="1.5" stroke-linejoin="round" filter="url(#blur1)"/>
<ellipse cx="285.0" cy="595.0" rx="12.2" ry="10.0" fill="#b8b8b8" />
<path d="M313.4,682.2 L318.9,684.0 L318.9,685.7 L313.4,687.5 L311.7,691.6 L319.4,696.7 L318.7,698.3 L309.8,696.3 L308.2,699.0 L313.8,706.5 L312.5,707.8 L304.7,702.8 L303.0,704.0 L305.4,711.8 L303.9,712.6 L298.5,706.5 L295.6,708.5 L295.3,718.2 L293.5,718.4 L290.4,709.2 L289.1,708.7 L286.6,714.1 L285.0,713.9 L283.9,708.1 L279.3,708.2 L273.9,713.7 L272.4,712.8 L274.5,705.4 L272.2,701.8 L263.4,706.5 L262.2,705.0 L269.0,697.6 L268.7,696.8 L259.3,699.0 L258.5,697.3 L266.7,691.9 L265.4,686.9 L260.4,684.9 L260.5,683.3 L265.6,681.6 L266.3,680.1 L260.3,676.3 L260.8,674.7 L267.9,675.2 L270.4,671.0 L263.2,662.2 L264.5,660.8 L273.9,667.2 L276.7,665.5 L274.6,657.6 L276.1,656.8 L281.3,663.2 L282.9,662.7 L283.1,654.1 L284.8,653.8 L288.0,661.8 L292.3,661.7 L296.1,652.9 L297.9,653.3 L297.4,662.9 L298.2,662.0 L304.5,653.5 L306.2,654.3 L303.0,664.5 L304.8,667.6 L310.4,664.9 L311.5,666.0 L308.3,671.3 L310.4,674.8 L316.6,674.5 L317.1,676.0 L312.1,679.6 Z" fill="#b3b9dd" stroke="#b3b9dd" stroke-width="1.5" stroke-linejoin="round" filter="url(#blur1)"/>
<ellipse cx="288.5" cy="685.0" rx="12.2" ry="10.0" fill="#bcbcbc" />
<text x="366.6" y="513.5" font-size="29" text-anchor="start" fill="#111" style="font-weight:bold;" >D</text>
<text x="568" y="524.5" font-size="21.5" text-anchor="middle" fill="#111" style="font-weight:bold">CD206<tspan dy="-9" font-size="14">+</tspan><tspan dy="9"> MΦ</tspan></text>
<line x1="421.6" y1="578.5" x2="421.6" y2="743.3" stroke="#9a9a9e" stroke-width="3" />
<line x1="415.6" y1="741.8" x2="421.6" y2="741.8" stroke="#9a9a9e" stroke-width="3" />
<text x="410.0" y="748.3" font-size="17.5" text-anchor="end" fill="#111" style="font-weight:bold;" >0</text>
<line x1="415.6" y1="687.7" x2="421.6" y2="687.7" stroke="#9a9a9e" stroke-width="3" />
<text x="410.0" y="694.2" font-size="17.5" text-anchor="end" fill="#111" style="font-weight:bold;" >20</text>
<line x1="415.6" y1="633.6" x2="421.6" y2="633.6" stroke="#9a9a9e" stroke-width="3" />
<text x="410.0" y="640.1" font-size="17.5" text-anchor="end" fill="#111" style="font-weight:bold;" >40</text>
<line x1="415.6" y1="579.5" x2="421.6" y2="579.5" stroke="#9a9a9e" stroke-width="3" />
<text x="410.0" y="586.0" font-size="17.5" text-anchor="end" fill="#111" style="font-weight:bold;" >60</text>
<rect x="440.0" y="607.9" width="36.0" height="133.9" fill="#a0a0a6" stroke="none" stroke-width="1" />
<line x1="458.0" y1="602.5" x2="458.0" y2="607.9" stroke="#9a9a9e" stroke-width="3" />
<line x1="449.5" y1="602.5" x2="466.5" y2="602.5" stroke="#9a9a9e" stroke-width="3" />
<line x1="458.0" y1="741.8" x2="458.0" y2="748.8" stroke="#9a9a9e" stroke-width="3" />
<rect x="493.0" y="687.7" width="36.0" height="54.1" fill="#f0a9a9" stroke="none" stroke-width="1" />
<line x1="511.0" y1="676.3" x2="511.0" y2="687.7" stroke="#9a9a9e" stroke-width="3" />
<line x1="502.5" y1="676.3" x2="519.5" y2="676.3" stroke="#9a9a9e" stroke-width="3" />
<line x1="511.0" y1="741.8" x2="511.0" y2="748.8" stroke="#9a9a9e" stroke-width="3" />
<rect x="547.0" y="655.2" width="35.0" height="86.6" fill="#dcdff0" stroke="none" stroke-width="1" />
<line x1="564.5" y1="643.9" x2="564.5" y2="655.2" stroke="#9a9a9e" stroke-width="3" />
<line x1="556.0" y1="643.9" x2="573.0" y2="643.9" stroke="#9a9a9e" stroke-width="3" />
<line x1="564.5" y1="741.8" x2="564.5" y2="748.8" stroke="#9a9a9e" stroke-width="3" />
<rect x="600.0" y="625.5" width="35.5" height="116.3" fill="#b1b5d6" stroke="none" stroke-width="1" />
<line x1="617.8" y1="612.0" x2="617.8" y2="625.5" stroke="#9a9a9e" stroke-width="3" />
<line x1="609.2" y1="612.0" x2="626.2" y2="612.0" stroke="#9a9a9e" stroke-width="3" />
<line x1="617.8" y1="741.8" x2="617.8" y2="748.8" stroke="#9a9a9e" stroke-width="3" />
<rect x="653.6" y="635.0" width="34.8" height="106.8" fill="#8c93bd" stroke="none" stroke-width="1" />
<line x1="671.0" y1="624.1" x2="671.0" y2="635.0" stroke="#9a9a9e" stroke-width="3" />
<line x1="662.5" y1="624.1" x2="679.5" y2="624.1" stroke="#9a9a9e" stroke-width="3" />
<line x1="671.0" y1="741.8" x2="671.0" y2="748.8" stroke="#9a9a9e" stroke-width="3" />
<line x1="415.6" y1="741.8" x2="704.0" y2="741.8" stroke="#9a9a9e" stroke-width="3.2" />
<text x="458.0" y="765.3" font-size="18" text-anchor="middle" fill="#111" style="font-weight:bold;" >100</text>
<text x="511.0" y="765.3" font-size="18" text-anchor="middle" fill="#111" style="font-weight:bold;" >LPS</text>
<text x="564.5" y="765.3" font-size="18" text-anchor="middle" fill="#111" style="font-weight:bold;" >100</text>
<text x="617.7" y="765.3" font-size="18" text-anchor="middle" fill="#111" style="font-weight:bold;" >200</text>
<text x="670.8" y="765.3" font-size="18" text-anchor="middle" fill="#111" style="font-weight:bold;" >400</text>
<text x="458.0" y="788.4" font-size="18.5" text-anchor="middle" fill="#111" style="font-weight:bold;" >OA</text>
<line x1="530.0" y1="775.6" x2="696.5" y2="775.6" stroke="#9a9a9a" stroke-width="3" />
<text x="605.0" y="799.4" font-size="19.4" text-anchor="middle" fill="#111" style="font-weight:bold;" >LPS+ OA (μM)</text>
<text transform="translate(379,664) rotate(-90)" font-size="19.5" text-anchor="middle" fill="#111" style="font-weight:bold">Percentage (%)</text>
<text x="479.6" y="589.0" font-size="28.1" text-anchor="middle" fill="#111" style="font-weight:bold;letter-spacing:2.27px">****</text>
<line x1="452.8" y1="596.6" x2="504.8" y2="596.6" stroke="#111" stroke-width="2" />
<text x="589.9" y="556.0" font-size="28.1" text-anchor="middle" fill="#111" style="font-weight:bold;letter-spacing:2.27px">***</text>
<line x1="513.3" y1="563.0" x2="666.1" y2="563.0" stroke="#111" stroke-width="2" />
<text x="561.4" y="590.9" font-size="28.1" text-anchor="middle" fill="#111" style="font-weight:bold;letter-spacing:2.27px">***</text>
<line x1="508.4" y1="597.8" x2="614.8" y2="597.8" stroke="#111" stroke-width="2" />
<text x="538.6" y="620.5" font-size="28.1" text-anchor="middle" fill="#111" style="font-weight:bold;letter-spacing:2.27px">**</text>
<line x1="510.3" y1="627.2" x2="564.0" y2="627.2" stroke="#111" stroke-width="2" />
<rect x="731.0" y="563.0" width="62.0" height="180.0" fill="#ffffff" stroke="#b0b0b0" stroke-width="1" />
<line x1="731.0" y1="563.0" x2="793.0" y2="563.0" stroke="#8e8e8e" stroke-width="2.5" />
<path d="M762,615 C767,610 774,613 775,625 C776,648 773,683 770,735 L758,737 C755,693 754,658 755,638 C756,625 758,619 762,615 Z" fill="url(#g206_0)" stroke="none" stroke-width="1" />
<circle cx="751.9" cy="714.4" r="1.1" fill="#555555" />
<circle cx="755.4" cy="700.6" r="1.1" fill="#555555" />
<circle cx="751.5" cy="710.7" r="1.1" fill="#555555" />
<circle cx="754.9" cy="682.8" r="1.1" fill="#555555" />
<circle cx="755.6" cy="669.3" r="1.1" fill="#555555" />
<path d="M752,576 L776,577 L776,629 L752,647 Z" fill="none" stroke="#222" stroke-width="1.5" />
<text x="789.5" y="675.6" font-size="17.5" text-anchor="end" fill="#111" style="" >51.5</text>
<text x="789.5" y="735.9" font-size="19.5" text-anchor="end" fill="#111" style="font-weight:bold;" >100</text>
<line x1="728.0" y1="583.0" x2="731.0" y2="583.0" stroke="#222" stroke-width="1.5" />
<line x1="728.0" y1="612.0" x2="731.0" y2="612.0" stroke="#222" stroke-width="1.5" />
<line x1="728.0" y1="641.0" x2="731.0" y2="641.0" stroke="#222" stroke-width="1.5" />
<line x1="728.0" y1="670.0" x2="731.0" y2="670.0" stroke="#222" stroke-width="1.5" />
<line x1="728.0" y1="699.0" x2="731.0" y2="699.0" stroke="#222" stroke-width="1.5" />
<line x1="728.0" y1="728.0" x2="731.0" y2="728.0" stroke="#222" stroke-width="1.5" />
<line x1="735.0" y1="743.0" x2="735.0" y2="746.0" stroke="#222" stroke-width="1.5" />
<line x1="743.0" y1="743.0" x2="743.0" y2="746.0" stroke="#222" stroke-width="1.5" />
<line x1="751.0" y1="743.0" x2="751.0" y2="746.0" stroke="#222" stroke-width="1.5" />
<line x1="759.0" y1="743.0" x2="759.0" y2="746.0" stroke="#222" stroke-width="1.5" />
<line x1="767.0" y1="743.0" x2="767.0" y2="746.0" stroke="#222" stroke-width="1.5" />
<line x1="775.0" y1="743.0" x2="775.0" y2="746.0" stroke="#222" stroke-width="1.5" />
<line x1="783.0" y1="743.0" x2="783.0" y2="746.0" stroke="#222" stroke-width="1.5" />
<line x1="791.0" y1="743.0" x2="791.0" y2="746.0" stroke="#222" stroke-width="1.5" />
<rect x="812.0" y="563.0" width="61.0" height="180.0" fill="#ffffff" stroke="#b0b0b0" stroke-width="1" />
<line x1="812.0" y1="563.0" x2="873.0" y2="563.0" stroke="#8e8e8e" stroke-width="2.5" />
<path d="M843,615 C848,610 855,613 856,625 C857,648 854,683 851,735 L839,737 C836,693 835,658 836,638 C837,625 839,619 843,615 Z" fill="url(#g206_1)" stroke="none" stroke-width="1" />
<circle cx="853.2" cy="695.4" r="1.1" fill="#ee4a4a" />
<circle cx="836.0" cy="731.4" r="1.1" fill="#ee4a4a" />
<circle cx="856.7" cy="735.7" r="1.1" fill="#ee4a4a" />
<circle cx="832.4" cy="693.6" r="1.1" fill="#ee4a4a" />
<circle cx="853.1" cy="677.1" r="1.1" fill="#ee4a4a" />
<circle cx="836.7" cy="692.4" r="1.1" fill="#ee4a4a" />
<circle cx="852.7" cy="711.2" r="1.1" fill="#ee4a4a" />
<circle cx="854.4" cy="676.3" r="1.1" fill="#ee4a4a" />
<circle cx="856.5" cy="658.5" r="1.1" fill="#ee4a4a" />
<path d="M833,576 L857,577 L857,629 L833,647 Z" fill="none" stroke="#222" stroke-width="1.5" />
<text x="869.5" y="675.6" font-size="17.5" text-anchor="end" fill="#111" style="" >14.7</text>
<text x="869.5" y="735.9" font-size="19.5" text-anchor="end" fill="#111" style="font-weight:bold;" >LPS</text>
<line x1="809.0" y1="583.0" x2="812.0" y2="583.0" stroke="#222" stroke-width="1.5" />
<line x1="809.0" y1="612.0" x2="812.0" y2="612.0" stroke="#222" stroke-width="1.5" />
<line x1="809.0" y1="641.0" x2="812.0" y2="641.0" stroke="#222" stroke-width="1.5" />
<line x1="809.0" y1="670.0" x2="812.0" y2="670.0" stroke="#222" stroke-width="1.5" />
<line x1="809.0" y1="699.0" x2="812.0" y2="699.0" stroke="#222" stroke-width="1.5" />
<line x1="809.0" y1="728.0" x2="812.0" y2="728.0" stroke="#222" stroke-width="1.5" />
<line x1="816.0" y1="743.0" x2="816.0" y2="746.0" stroke="#222" stroke-width="1.5" />
<line x1="824.0" y1="743.0" x2="824.0" y2="746.0" stroke="#222" stroke-width="1.5" />
<line x1="832.0" y1="743.0" x2="832.0" y2="746.0" stroke="#222" stroke-width="1.5" />
<line x1="840.0" y1="743.0" x2="840.0" y2="746.0" stroke="#222" stroke-width="1.5" />
<line x1="848.0" y1="743.0" x2="848.0" y2="746.0" stroke="#222" stroke-width="1.5" />
<line x1="856.0" y1="743.0" x2="856.0" y2="746.0" stroke="#222" stroke-width="1.5" />
<line x1="864.0" y1="743.0" x2="864.0" y2="746.0" stroke="#222" stroke-width="1.5" />
<line x1="872.0" y1="743.0" x2="872.0" y2="746.0" stroke="#222" stroke-width="1.5" />
<rect x="892.0" y="563.0" width="61.0" height="180.0" fill="#ffffff" stroke="#b0b0b0" stroke-width="1" />
<line x1="892.0" y1="563.0" x2="953.0" y2="563.0" stroke="#8e8e8e" stroke-width="2.5" />
<path d="M923,615 C928,610 935,613 936,625 C937,648 934,683 931,735 L919,737 C916,693 915,658 916,638 C917,625 919,619 923,615 Z" fill="url(#g206_2)" stroke="none" stroke-width="1" />
<circle cx="912.9" cy="702.4" r="1.1" fill="#5860f0" />
<circle cx="933.1" cy="707.4" r="1.1" fill="#5860f0" />
<circle cx="915.4" cy="716.8" r="1.1" fill="#5860f0" />
<circle cx="914.3" cy="664.8" r="1.1" fill="#5860f0" />
<circle cx="933.1" cy="729.9" r="1.1" fill="#5860f0" />
<circle cx="917.0" cy="697.3" r="1.1" fill="#5860f0" />
<circle cx="914.5" cy="677.7" r="1.1" fill="#5860f0" />
<circle cx="912.6" cy="698.8" r="1.1" fill="#5860f0" />
<circle cx="934.6" cy="668.7" r="1.1" fill="#5860f0" />
<path d="M913,576 L937,577 L937,629 L913,647 Z" fill="none" stroke="#222" stroke-width="1.5" />
<text x="949.5" y="675.6" font-size="17.5" text-anchor="end" fill="#111" style="" >32.8</text>
<text x="949.5" y="735.9" font-size="19.5" text-anchor="end" fill="#111" style="font-weight:bold;" >100</text>
<line x1="889.0" y1="583.0" x2="892.0" y2="583.0" stroke="#222" stroke-width="1.5" />
<line x1="889.0" y1="612.0" x2="892.0" y2="612.0" stroke="#222" stroke-width="1.5" />
<line x1="889.0" y1="641.0" x2="892.0" y2="641.0" stroke="#222" stroke-width="1.5" />
<line x1="889.0" y1="670.0" x2="892.0" y2="670.0" stroke="#222" stroke-width="1.5" />
<line x1="889.0" y1="699.0" x2="892.0" y2="699.0" stroke="#222" stroke-width="1.5" />
<line x1="889.0" y1="728.0" x2="892.0" y2="728.0" stroke="#222" stroke-width="1.5" />
<line x1="896.0" y1="743.0" x2="896.0" y2="746.0" stroke="#222" stroke-width="1.5" />
<line x1="904.0" y1="743.0" x2="904.0" y2="746.0" stroke="#222" stroke-width="1.5" />
<line x1="912.0" y1="743.0" x2="912.0" y2="746.0" stroke="#222" stroke-width="1.5" />
<line x1="920.0" y1="743.0" x2="920.0" y2="746.0" stroke="#222" stroke-width="1.5" />
<line x1="928.0" y1="743.0" x2="928.0" y2="746.0" stroke="#222" stroke-width="1.5" />
<line x1="936.0" y1="743.0" x2="936.0" y2="746.0" stroke="#222" stroke-width="1.5" />
<line x1="944.0" y1="743.0" x2="944.0" y2="746.0" stroke="#222" stroke-width="1.5" />
<line x1="952.0" y1="743.0" x2="952.0" y2="746.0" stroke="#222" stroke-width="1.5" />
<rect x="973.0" y="563.0" width="60.0" height="180.0" fill="#ffffff" stroke="#b0b0b0" stroke-width="1" />
<line x1="973.0" y1="563.0" x2="1033.0" y2="563.0" stroke="#8e8e8e" stroke-width="2.5" />
<path d="M1004,615 C1009,610 1016,613 1017,625 C1018,648 1015,683 1012,735 L1000,737 C997,693 996,658 997,638 C998,625 1000,619 1004,615 Z" fill="url(#g206_3)" stroke="none" stroke-width="1" />
<circle cx="998.9" cy="713.1" r="1.1" fill="#5860f0" />
<circle cx="1017.4" cy="694.9" r="1.1" fill="#5860f0" />
<circle cx="1017.1" cy="664.6" r="1.1" fill="#5860f0" />
<circle cx="994.3" cy="661.5" r="1.1" fill="#5860f0" />
<circle cx="1017.1" cy="672.7" r="1.1" fill="#5860f0" />
<circle cx="1017.4" cy="676.1" r="1.1" fill="#5860f0" />
<circle cx="996.9" cy="664.9" r="1.1" fill="#5860f0" />
<circle cx="1014.3" cy="724.1" r="1.1" fill="#5860f0" />
<circle cx="1018.4" cy="700.3" r="1.1" fill="#5860f0" />
<path d="M994,576 L1018,577 L1018,629 L994,647 Z" fill="none" stroke="#222" stroke-width="1.5" />
<text x="1029.5" y="675.6" font-size="17.5" text-anchor="end" fill="#111" style="" >46.8</text>
<text x="1029.5" y="735.9" font-size="19.5" text-anchor="end" fill="#111" style="font-weight:bold;" >200</text>
<line x1="970.0" y1="583.0" x2="973.0" y2="583.0" stroke="#222" stroke-width="1.5" />
<line x1="970.0" y1="612.0" x2="973.0" y2="612.0" stroke="#222" stroke-width="1.5" />
<line x1="970.0" y1="641.0" x2="973.0" y2="641.0" stroke="#222" stroke-width="1.5" />
<line x1="970.0" y1="670.0" x2="973.0" y2="670.0" stroke="#222" stroke-width="1.5" />
<line x1="970.0" y1="699.0" x2="973.0" y2="699.0" stroke="#222" stroke-width="1.5" />
<line x1="970.0" y1="728.0" x2="973.0" y2="728.0" stroke="#222" stroke-width="1.5" />
<line x1="977.0" y1="743.0" x2="977.0" y2="746.0" stroke="#222" stroke-width="1.5" />
<line x1="985.0" y1="743.0" x2="985.0" y2="746.0" stroke="#222" stroke-width="1.5" />
<line x1="993.0" y1="743.0" x2="993.0" y2="746.0" stroke="#222" stroke-width="1.5" />
<line x1="1001.0" y1="743.0" x2="1001.0" y2="746.0" stroke="#222" stroke-width="1.5" />
<line x1="1009.0" y1="743.0" x2="1009.0" y2="746.0" stroke="#222" stroke-width="1.5" />
<line x1="1017.0" y1="743.0" x2="1017.0" y2="746.0" stroke="#222" stroke-width="1.5" />
<line x1="1025.0" y1="743.0" x2="1025.0" y2="746.0" stroke="#222" stroke-width="1.5" />
<line x1="1033.0" y1="743.0" x2="1033.0" y2="746.0" stroke="#222" stroke-width="1.5" />
<rect x="1053.0" y="563.0" width="62.0" height="180.0" fill="#ffffff" stroke="#b0b0b0" stroke-width="1" />
<line x1="1053.0" y1="563.0" x2="1115.0" y2="563.0" stroke="#8e8e8e" stroke-width="2.5" />
<path d="M1084,615 C1089,610 1096,613 1097,625 C1098,648 1095,683 1092,735 L1080,737 C1077,693 1076,658 1077,638 C1078,625 1080,619 1084,615 Z" fill="url(#g206_4)" stroke="none" stroke-width="1" />
<circle cx="1078.8" cy="689.3" r="1.1" fill="#5860f0" />
<circle cx="1073.0" cy="731.0" r="1.1" fill="#5860f0" />
<circle cx="1073.6" cy="710.4" r="1.1" fill="#5860f0" />
<circle cx="1075.0" cy="704.5" r="1.1" fill="#5860f0" />
<circle cx="1075.3" cy="708.3" r="1.1" fill="#5860f0" />
<circle cx="1075.5" cy="678.7" r="1.1" fill="#5860f0" />
<circle cx="1074.1" cy="661.1" r="1.1" fill="#5860f0" />
<circle cx="1077.7" cy="678.2" r="1.1" fill="#5860f0" />
<circle cx="1098.5" cy="707.8" r="1.1" fill="#5860f0" />
<path d="M1074,576 L1098,577 L1098,629 L1074,647 Z" fill="none" stroke="#222" stroke-width="1.5" />
<text x="1111.5" y="675.6" font-size="17.5" text-anchor="end" fill="#111" style="" >43.9</text>
<text x="1111.5" y="735.9" font-size="19.5" text-anchor="end" fill="#111" style="font-weight:bold;" >400</text>
<line x1="1050.0" y1="583.0" x2="1053.0" y2="583.0" stroke="#222" stroke-width="1.5" />
<line x1="1050.0" y1="612.0" x2="1053.0" y2="612.0" stroke="#222" stroke-width="1.5" />
<line x1="1050.0" y1="641.0" x2="1053.0" y2="641.0" stroke="#222" stroke-width="1.5" />
<line x1="1050.0" y1="670.0" x2="1053.0" y2="670.0" stroke="#222" stroke-width="1.5" />
<line x1="1050.0" y1="699.0" x2="1053.0" y2="699.0" stroke="#222" stroke-width="1.5" />
<line x1="1050.0" y1="728.0" x2="1053.0" y2="728.0" stroke="#222" stroke-width="1.5" />
<line x1="1057.0" y1="743.0" x2="1057.0" y2="746.0" stroke="#222" stroke-width="1.5" />
<line x1="1065.0" y1="743.0" x2="1065.0" y2="746.0" stroke="#222" stroke-width="1.5" />
<line x1="1073.0" y1="743.0" x2="1073.0" y2="746.0" stroke="#222" stroke-width="1.5" />
<line x1="1081.0" y1="743.0" x2="1081.0" y2="746.0" stroke="#222" stroke-width="1.5" />
<line x1="1089.0" y1="743.0" x2="1089.0" y2="746.0" stroke="#222" stroke-width="1.5" />
<line x1="1097.0" y1="743.0" x2="1097.0" y2="746.0" stroke="#222" stroke-width="1.5" />
<line x1="1105.0" y1="743.0" x2="1105.0" y2="746.0" stroke="#222" stroke-width="1.5" />
<line x1="1113.0" y1="743.0" x2="1113.0" y2="746.0" stroke="#222" stroke-width="1.5" />
<line x1="723.0" y1="754.5" x2="723.0" y2="690.0" stroke="#9a9a9a" stroke-width="3.5" />
<path d="M716,692 L723,676 L730,692 Z" fill="#9a9a9a" stroke="none" stroke-width="1" />
<line x1="721.5" y1="754.5" x2="765.0" y2="754.5" stroke="#9a9a9a" stroke-width="3.5" />
<path d="M763,747.5 L780,754.5 L763,761.5 Z" fill="#9a9a9a" stroke="none" stroke-width="1" />
<text transform="translate(721,726) rotate(-90)" font-size="17.5" text-anchor="middle" fill="#111" style="font-weight:bold">CD206</text>
<text x="715.0" y="773.0" font-size="17.5" text-anchor="start" fill="#111" style="font-weight:bold;" >F4/80</text>
<text x="980.7" y="766.0" font-size="19" text-anchor="middle" fill="#111" style="font-weight:bold;" >LPS+OA (μM)</text>
<text x="1341.4" y="494" font-size="21.5" text-anchor="middle" fill="#111" style="font-weight:bold">CD86<tspan dy="-9" font-size="14">+</tspan><tspan dy="9"> MΦ</tspan></text>
<line x1="1219.1" y1="595.0" x2="1219.1" y2="758.4" stroke="#9a9a9e" stroke-width="4.2" />
<line x1="1212.5" y1="756.9" x2="1218.5" y2="756.9" stroke="#9a9a9e" stroke-width="3" />
<text x="1210.0" y="762.9" font-size="16" text-anchor="end" fill="#111" style="font-weight:bold;" >0</text>
<line x1="1212.5" y1="724.8" x2="1218.5" y2="724.8" stroke="#9a9a9e" stroke-width="3" />
<text x="1210.0" y="730.8" font-size="16" text-anchor="end" fill="#111" style="font-weight:bold;" >20</text>
<line x1="1212.5" y1="692.8" x2="1218.5" y2="692.8" stroke="#9a9a9e" stroke-width="3" />
<text x="1210.0" y="698.8" font-size="16" text-anchor="end" fill="#111" style="font-weight:bold;" >40</text>
<line x1="1212.5" y1="660.7" x2="1218.5" y2="660.7" stroke="#9a9a9e" stroke-width="3" />
<text x="1210.0" y="666.7" font-size="16" text-anchor="end" fill="#111" style="font-weight:bold;" >60</text>
<line x1="1212.5" y1="628.7" x2="1218.5" y2="628.7" stroke="#9a9a9e" stroke-width="3" />
<text x="1210.0" y="634.7" font-size="16" text-anchor="end" fill="#111" style="font-weight:bold;" >80</text>
<line x1="1212.5" y1="596.6" x2="1218.5" y2="596.6" stroke="#9a9a9e" stroke-width="3" />
<text x="1210.0" y="602.6" font-size="16" text-anchor="end" fill="#111" style="font-weight:bold;" >100</text>
<rect x="1236.7" y="704.6" width="35.6" height="52.3" fill="#a0a0a6" stroke="none" stroke-width="1" />
<rect x="1246.5" y="700.4" width="16.0" height="4.0" fill="#969696" stroke="none" stroke-width="1" rx="1.5"/>
<line x1="1254.5" y1="756.9" x2="1254.5" y2="763.9" stroke="#9a9a9e" stroke-width="3" />
<rect x="1288.9" y="620.0" width="35.2" height="136.9" fill="#f0a9a9" stroke="none" stroke-width="1" />
<rect x="1298.5" y="615.6" width="16.0" height="4.0" fill="#969696" stroke="none" stroke-width="1" rx="1.5"/>
<line x1="1306.5" y1="756.9" x2="1306.5" y2="763.9" stroke="#9a9a9e" stroke-width="3" />
<rect x="1341.4" y="624.8" width="34.9" height="132.1" fill="#dcdff0" stroke="none" stroke-width="1" />
<rect x="1350.8" y="617.8" width="16.0" height="4.0" fill="#969696" stroke="none" stroke-width="1" rx="1.5"/>
<line x1="1358.8" y1="756.9" x2="1358.8" y2="763.9" stroke="#9a9a9e" stroke-width="3" />
<rect x="1393.7" y="626.7" width="35.5" height="130.2" fill="#b1b5d6" stroke="none" stroke-width="1" />
<rect x="1403.5" y="623.0" width="16.0" height="4.0" fill="#969696" stroke="none" stroke-width="1" rx="1.5"/>
<line x1="1411.5" y1="756.9" x2="1411.5" y2="763.9" stroke="#9a9a9e" stroke-width="3" />
<rect x="1445.3" y="641.0" width="35.2" height="115.9" fill="#8c93bd" stroke="none" stroke-width="1" />
<rect x="1454.9" y="636.6" width="16.0" height="4.0" fill="#969696" stroke="none" stroke-width="1" rx="1.5"/>
<line x1="1462.9" y1="756.9" x2="1462.9" y2="763.9" stroke="#9a9a9e" stroke-width="3" />
<line x1="1217.0" y1="756.9" x2="1500.5" y2="756.9" stroke="#9a9a9e" stroke-width="3" />
<text x="1254.5" y="780.2" font-size="17" text-anchor="middle" fill="#111" style="font-weight:bold;" >100</text>
<text x="1307.5" y="780.2" font-size="17" text-anchor="middle" fill="#111" style="font-weight:bold;" >LPS</text>
<text x="1359.3" y="780.2" font-size="17" text-anchor="middle" fill="#111" style="font-weight:bold;" >100</text>
<text x="1411.4" y="780.2" font-size="17" text-anchor="middle" fill="#111" style="font-weight:bold;" >200</text>
<text x="1463.6" y="780.2" font-size="17" text-anchor="middle" fill="#111" style="font-weight:bold;" >400</text>
<text x="1254.5" y="804.4" font-size="18.5" text-anchor="middle" fill="#111" style="font-weight:bold;" >OA</text>
<line x1="1331.7" y1="791.6" x2="1494.0" y2="791.6" stroke="#9a9a9a" stroke-width="3" />
<text x="1405.0" y="814.0" font-size="19" text-anchor="middle" fill="#111" style="font-weight:bold;" >LPS+OA(μM)</text>
<text transform="translate(1181,675) rotate(-90)" font-size="19.5" text-anchor="middle" fill="#111" style="font-weight:bold">Percentage (%)</text>
<text x="1379.0" y="527.2" font-size="27.6" text-anchor="middle" fill="#111" style="font-weight:bold;letter-spacing:2.08px">****</text>
<line x1="1299.9" y1="534.6" x2="1458.7" y2="534.6" stroke="#111" stroke-width="2" />
<text x="1358.6" y="567.0" font-size="27.6" text-anchor="middle" fill="#111" style="font-weight:bold;letter-spacing:2.08px">****</text>
<line x1="1306.0" y1="574.3" x2="1410.2" y2="574.3" stroke="#111" stroke-width="2" />
<text x="1278.6" y="598.7" font-size="27.6" text-anchor="middle" fill="#111" style="font-weight:bold;letter-spacing:2.08px">****</text>
<line x1="1252.8" y1="606.3" x2="1304.8" y2="606.3" stroke="#111" stroke-width="2" />
<text x="1334.5" y="598.4" font-size="27.6" text-anchor="middle" fill="#111" style="font-weight:bold;letter-spacing:2.08px">*</text>
<line x1="1309.7" y1="604.7" x2="1357.6" y2="604.7" stroke="#111" stroke-width="2" />
<rect x="1528.0" y="552.0" width="62.8" height="183.7" fill="#ffffff" stroke="#b0b0b0" stroke-width="1" />
<line x1="1528.0" y1="552.0" x2="1590.8" y2="552.0" stroke="#8e8e8e" stroke-width="2.5" />
<path d="M1556,576 C1562,570 1570,572 1572,586 C1574,622 1572,662 1566,713.7 L1558,715.7 C1553,662 1549,622 1550,592 C1551,582 1553,578 1556,576 Z" fill="url(#g86_0)" stroke="none" stroke-width="1" />
<circle cx="1554.9" cy="662.2" r="1.1" fill="#555555" />
<circle cx="1568.2" cy="659.1" r="1.1" fill="#555555" />
<circle cx="1571.2" cy="665.3" r="1.1" fill="#555555" />
<circle cx="1554.2" cy="674.0" r="1.1" fill="#555555" />
<circle cx="1557.3" cy="652.8" r="1.1" fill="#555555" />
<circle cx="1559.6" cy="675.0" r="1.1" fill="#555555" />
<circle cx="1557.9" cy="694.6" r="1.1" fill="#555555" />
<circle cx="1560.0" cy="687.0" r="1.1" fill="#555555" />
<rect x="1545.0" y="566.0" width="35.0" height="64.5" fill="none" stroke="#222" stroke-width="1.5" />
<text x="1562.5" y="594.0" font-size="18" text-anchor="middle" fill="#111" style="" >32.1</text>
<text x="1587.8" y="733.5" font-size="19.5" text-anchor="end" fill="#111" style="font-weight:bold;" >100</text>
<line x1="1525.0" y1="572.0" x2="1528.0" y2="572.0" stroke="#222" stroke-width="1.5" />
<line x1="1525.0" y1="608.0" x2="1528.0" y2="608.0" stroke="#222" stroke-width="1.5" />
<line x1="1525.0" y1="644.0" x2="1528.0" y2="644.0" stroke="#222" stroke-width="1.5" />
<line x1="1525.0" y1="680.0" x2="1528.0" y2="680.0" stroke="#222" stroke-width="1.5" />
<line x1="1525.0" y1="716.0" x2="1528.0" y2="716.0" stroke="#222" stroke-width="1.5" />
<line x1="1532.0" y1="735.7" x2="1532.0" y2="738.7" stroke="#222" stroke-width="1.5" />
<line x1="1540.0" y1="735.7" x2="1540.0" y2="738.7" stroke="#222" stroke-width="1.5" />
<line x1="1548.0" y1="735.7" x2="1548.0" y2="738.7" stroke="#222" stroke-width="1.5" />
<line x1="1556.0" y1="735.7" x2="1556.0" y2="738.7" stroke="#222" stroke-width="1.5" />
<line x1="1564.0" y1="735.7" x2="1564.0" y2="738.7" stroke="#222" stroke-width="1.5" />
<line x1="1572.0" y1="735.7" x2="1572.0" y2="738.7" stroke="#222" stroke-width="1.5" />
<line x1="1580.0" y1="735.7" x2="1580.0" y2="738.7" stroke="#222" stroke-width="1.5" />
<line x1="1588.0" y1="735.7" x2="1588.0" y2="738.7" stroke="#222" stroke-width="1.5" />
<rect x="1601.4" y="552.0" width="63.2" height="183.7" fill="#ffffff" stroke="#b0b0b0" stroke-width="1" />
<line x1="1601.4" y1="552.0" x2="1664.6" y2="552.0" stroke="#8e8e8e" stroke-width="2.5" />
<path d="M1629.4,576 C1635.4,570 1643.4,572 1645.4,586 C1647.4,622 1645.4,662 1639.4,713.7 L1631.4,715.7 C1626.4,662 1622.4,622 1623.4,592 C1624.4,582 1626.4,578 1629.4,576 Z" fill="url(#g86_1)" stroke="none" stroke-width="1" />
<circle cx="1628.7" cy="668.3" r="1.1" fill="#ee4a4a" />
<circle cx="1627.5" cy="666.1" r="1.1" fill="#ee4a4a" />
<circle cx="1642.5" cy="686.7" r="1.1" fill="#ee4a4a" />
<circle cx="1636.8" cy="689.7" r="1.1" fill="#ee4a4a" />
<circle cx="1636.4" cy="695.2" r="1.1" fill="#ee4a4a" />
<circle cx="1639.6" cy="659.0" r="1.1" fill="#ee4a4a" />
<circle cx="1638.7" cy="675.8" r="1.1" fill="#ee4a4a" />
<circle cx="1638.1" cy="662.8" r="1.1" fill="#ee4a4a" />
<rect x="1618.4" y="566.0" width="35.0" height="64.5" fill="none" stroke="#222" stroke-width="1.5" />
<text x="1635.9" y="594.0" font-size="18" text-anchor="middle" fill="#111" style="" >86.2</text>
<text x="1661.6" y="733.5" font-size="19.5" text-anchor="end" fill="#111" style="font-weight:bold;" >LPS</text>
<line x1="1598.4" y1="572.0" x2="1601.4" y2="572.0" stroke="#222" stroke-width="1.5" />
<line x1="1598.4" y1="608.0" x2="1601.4" y2="608.0" stroke="#222" stroke-width="1.5" />
<line x1="1598.4" y1="644.0" x2="1601.4" y2="644.0" stroke="#222" stroke-width="1.5" />
<line x1="1598.4" y1="680.0" x2="1601.4" y2="680.0" stroke="#222" stroke-width="1.5" />
<line x1="1598.4" y1="716.0" x2="1601.4" y2="716.0" stroke="#222" stroke-width="1.5" />
<line x1="1605.4" y1="735.7" x2="1605.4" y2="738.7" stroke="#222" stroke-width="1.5" />
<line x1="1613.4" y1="735.7" x2="1613.4" y2="738.7" stroke="#222" stroke-width="1.5" />
<line x1="1621.4" y1="735.7" x2="1621.4" y2="738.7" stroke="#222" stroke-width="1.5" />
<line x1="1629.4" y1="735.7" x2="1629.4" y2="738.7" stroke="#222" stroke-width="1.5" />
<line x1="1637.4" y1="735.7" x2="1637.4" y2="738.7" stroke="#222" stroke-width="1.5" />
<line x1="1645.4" y1="735.7" x2="1645.4" y2="738.7" stroke="#222" stroke-width="1.5" />
<line x1="1653.4" y1="735.7" x2="1653.4" y2="738.7" stroke="#222" stroke-width="1.5" />
<line x1="1661.4" y1="735.7" x2="1661.4" y2="738.7" stroke="#222" stroke-width="1.5" />
<rect x="1674.4" y="552.0" width="63.6" height="183.7" fill="#ffffff" stroke="#b0b0b0" stroke-width="1" />
<line x1="1674.4" y1="552.0" x2="1738.0" y2="552.0" stroke="#8e8e8e" stroke-width="2.5" />
<path d="M1702.4,576 C1708.4,570 1716.4,572 1718.4,586 C1720.4,622 1718.4,662 1712.4,713.7 L1704.4,715.7 C1699.4,662 1695.4,622 1696.4,592 C1697.4,582 1699.4,578 1702.4,576 Z" fill="url(#g86_2)" stroke="none" stroke-width="1" />
<circle cx="1715.7" cy="684.2" r="1.1" fill="#5860f0" />
<circle cx="1708.6" cy="661.9" r="1.1" fill="#5860f0" />
<circle cx="1713.9" cy="700.5" r="1.1" fill="#5860f0" />
<circle cx="1709.0" cy="694.5" r="1.1" fill="#5860f0" />
<circle cx="1701.1" cy="678.4" r="1.1" fill="#5860f0" />
<circle cx="1704.4" cy="676.7" r="1.1" fill="#5860f0" />
<circle cx="1712.6" cy="694.8" r="1.1" fill="#5860f0" />
<circle cx="1710.9" cy="695.4" r="1.1" fill="#5860f0" />
<rect x="1691.4" y="566.0" width="35.0" height="64.5" fill="none" stroke="#222" stroke-width="1.5" />
<text x="1708.9" y="594.0" font-size="18" text-anchor="middle" fill="#111" style="" >84.5</text>
<text x="1735.0" y="733.5" font-size="19.5" text-anchor="end" fill="#111" style="font-weight:bold;" >100</text>
<line x1="1671.4" y1="572.0" x2="1674.4" y2="572.0" stroke="#222" stroke-width="1.5" />
<line x1="1671.4" y1="608.0" x2="1674.4" y2="608.0" stroke="#222" stroke-width="1.5" />
<line x1="1671.4" y1="644.0" x2="1674.4" y2="644.0" stroke="#222" stroke-width="1.5" />
<line x1="1671.4" y1="680.0" x2="1674.4" y2="680.0" stroke="#222" stroke-width="1.5" />
<line x1="1671.4" y1="716.0" x2="1674.4" y2="716.0" stroke="#222" stroke-width="1.5" />
<line x1="1678.4" y1="735.7" x2="1678.4" y2="738.7" stroke="#222" stroke-width="1.5" />
<line x1="1686.4" y1="735.7" x2="1686.4" y2="738.7" stroke="#222" stroke-width="1.5" />
<line x1="1694.4" y1="735.7" x2="1694.4" y2="738.7" stroke="#222" stroke-width="1.5" />
<line x1="1702.4" y1="735.7" x2="1702.4" y2="738.7" stroke="#222" stroke-width="1.5" />
<line x1="1710.4" y1="735.7" x2="1710.4" y2="738.7" stroke="#222" stroke-width="1.5" />
<line x1="1718.4" y1="735.7" x2="1718.4" y2="738.7" stroke="#222" stroke-width="1.5" />
<line x1="1726.4" y1="735.7" x2="1726.4" y2="738.7" stroke="#222" stroke-width="1.5" />
<line x1="1734.4" y1="735.7" x2="1734.4" y2="738.7" stroke="#222" stroke-width="1.5" />
<rect x="1747.3" y="552.0" width="63.7" height="183.7" fill="#ffffff" stroke="#b0b0b0" stroke-width="1" />
<line x1="1747.3" y1="552.0" x2="1811.0" y2="552.0" stroke="#8e8e8e" stroke-width="2.5" />
<path d="M1775.3,576 C1781.3,570 1789.3,572 1791.3,586 C1793.3,622 1791.3,662 1785.3,713.7 L1777.3,715.7 C1772.3,662 1768.3,622 1769.3,592 C1770.3,582 1772.3,578 1775.3,576 Z" fill="url(#g86_3)" stroke="none" stroke-width="1" />
<circle cx="1775.1" cy="694.1" r="1.1" fill="#5860f0" />
<circle cx="1785.3" cy="662.6" r="1.1" fill="#5860f0" />
<circle cx="1788.9" cy="681.7" r="1.1" fill="#5860f0" />
<circle cx="1789.9" cy="682.6" r="1.1" fill="#5860f0" />
<circle cx="1787.8" cy="690.8" r="1.1" fill="#5860f0" />
<circle cx="1780.2" cy="656.8" r="1.1" fill="#5860f0" />
<circle cx="1791.3" cy="657.9" r="1.1" fill="#5860f0" />
<circle cx="1784.4" cy="701.6" r="1.1" fill="#5860f0" />
<rect x="1764.3" y="566.0" width="35.0" height="64.5" fill="none" stroke="#222" stroke-width="1.5" />
<text x="1781.8" y="594.0" font-size="18" text-anchor="middle" fill="#111" style="" >81.2</text>
<text x="1808.0" y="733.5" font-size="19.5" text-anchor="end" fill="#111" style="font-weight:bold;" >200</text>
<line x1="1744.3" y1="572.0" x2="1747.3" y2="572.0" stroke="#222" stroke-width="1.5" />
<line x1="1744.3" y1="608.0" x2="1747.3" y2="608.0" stroke="#222" stroke-width="1.5" />
<line x1="1744.3" y1="644.0" x2="1747.3" y2="644.0" stroke="#222" stroke-width="1.5" />
<line x1="1744.3" y1="680.0" x2="1747.3" y2="680.0" stroke="#222" stroke-width="1.5" />
<line x1="1744.3" y1="716.0" x2="1747.3" y2="716.0" stroke="#222" stroke-width="1.5" />
<line x1="1751.3" y1="735.7" x2="1751.3" y2="738.7" stroke="#222" stroke-width="1.5" />
<line x1="1759.3" y1="735.7" x2="1759.3" y2="738.7" stroke="#222" stroke-width="1.5" />
<line x1="1767.3" y1="735.7" x2="1767.3" y2="738.7" stroke="#222" stroke-width="1.5" />
<line x1="1775.3" y1="735.7" x2="1775.3" y2="738.7" stroke="#222" stroke-width="1.5" />
<line x1="1783.3" y1="735.7" x2="1783.3" y2="738.7" stroke="#222" stroke-width="1.5" />
<line x1="1791.3" y1="735.7" x2="1791.3" y2="738.7" stroke="#222" stroke-width="1.5" />
<line x1="1799.3" y1="735.7" x2="1799.3" y2="738.7" stroke="#222" stroke-width="1.5" />
<line x1="1807.3" y1="735.7" x2="1807.3" y2="738.7" stroke="#222" stroke-width="1.5" />
<rect x="1822.0" y="552.0" width="64.4" height="183.7" fill="#ffffff" stroke="#b0b0b0" stroke-width="1" />
<line x1="1822.0" y1="552.0" x2="1886.4" y2="552.0" stroke="#8e8e8e" stroke-width="2.5" />
<path d="M1850,576 C1856,570 1864,572 1866,586 C1868,622 1866,662 1860,713.7 L1852,715.7 C1847,662 1843,622 1844,592 C1845,582 1847,578 1850,576 Z" fill="url(#g86_4)" stroke="none" stroke-width="1" />
<circle cx="1855.9" cy="656.3" r="1.1" fill="#5860f0" />
<circle cx="1859.7" cy="658.6" r="1.1" fill="#5860f0" />
<circle cx="1857.6" cy="668.6" r="1.1" fill="#5860f0" />
<circle cx="1861.9" cy="659.9" r="1.1" fill="#5860f0" />
<circle cx="1867.3" cy="655.6" r="1.1" fill="#5860f0" />
<circle cx="1849.4" cy="685.7" r="1.1" fill="#5860f0" />
<circle cx="1867.7" cy="695.1" r="1.1" fill="#5860f0" />
<circle cx="1864.5" cy="659.6" r="1.1" fill="#5860f0" />
<rect x="1839.0" y="566.0" width="35.0" height="64.5" fill="none" stroke="#222" stroke-width="1.5" />
<text x="1856.5" y="594.0" font-size="18" text-anchor="middle" fill="#111" style="" >71.9</text>
<text x="1883.4" y="733.5" font-size="19.5" text-anchor="end" fill="#111" style="font-weight:bold;" >400</text>
<line x1="1819.0" y1="572.0" x2="1822.0" y2="572.0" stroke="#222" stroke-width="1.5" />
<line x1="1819.0" y1="608.0" x2="1822.0" y2="608.0" stroke="#222" stroke-width="1.5" />
<line x1="1819.0" y1="644.0" x2="1822.0" y2="644.0" stroke="#222" stroke-width="1.5" />
<line x1="1819.0" y1="680.0" x2="1822.0" y2="680.0" stroke="#222" stroke-width="1.5" />
<line x1="1819.0" y1="716.0" x2="1822.0" y2="716.0" stroke="#222" stroke-width="1.5" />
<line x1="1826.0" y1="735.7" x2="1826.0" y2="738.7" stroke="#222" stroke-width="1.5" />
<line x1="1834.0" y1="735.7" x2="1834.0" y2="738.7" stroke="#222" stroke-width="1.5" />
<line x1="1842.0" y1="735.7" x2="1842.0" y2="738.7" stroke="#222" stroke-width="1.5" />
<line x1="1850.0" y1="735.7" x2="1850.0" y2="738.7" stroke="#222" stroke-width="1.5" />
<line x1="1858.0" y1="735.7" x2="1858.0" y2="738.7" stroke="#222" stroke-width="1.5" />
<line x1="1866.0" y1="735.7" x2="1866.0" y2="738.7" stroke="#222" stroke-width="1.5" />
<line x1="1874.0" y1="735.7" x2="1874.0" y2="738.7" stroke="#222" stroke-width="1.5" />
<line x1="1882.0" y1="735.7" x2="1882.0" y2="738.7" stroke="#222" stroke-width="1.5" />
<line x1="1521.7" y1="742.0" x2="1521.7" y2="708.0" stroke="#9a9a9a" stroke-width="3.5" />
<path d="M1515,710 L1521.7,695 L1528.4,710 Z" fill="#9a9a9a" stroke="none" stroke-width="1" />
<line x1="1520.0" y1="742.0" x2="1572.0" y2="742.0" stroke="#9a9a9a" stroke-width="3.5" />
<path d="M1570,735.5 L1586,742 L1570,748.5 Z" fill="#9a9a9a" stroke="none" stroke-width="1" />
<text transform="translate(1518,716) rotate(-90)" font-size="17" text-anchor="middle" fill="#111" style="font-weight:bold">CD86</text>
<text x="1524.0" y="761.0" font-size="17.5" text-anchor="start" fill="#111" style="font-weight:bold;" >F4/80</text>
<text x="1774.0" y="759.0" font-size="19" text-anchor="middle" fill="#111" style="font-weight:bold;" >LPS+OA (μM)</text>
<text x="58.6" y="929.0" font-size="29" text-anchor="start" fill="#111" style="font-weight:bold;" >E</text>
<text x="329.0" y="1000.8" font-size="26" text-anchor="middle" fill="#111" style="font-weight:bold;" >EAU</text>
<path d="M153,1011.75 H516.5 V1006.25 L529.5,1018 L516.5,1029.75 V1024.25 H153 Z" fill="url(#gE1)" stroke="none" stroke-width="1" />
<text x="177.6" y="1084.8" font-size="27" text-anchor="start" fill="#111" style="font-weight:bold;" >EAU + OA (150mg/kg/day)</text>
<path d="M156,1093.75 H219.7 V1089.75 L229.7,1099.5 L219.7,1109.25 V1105.25 H156 Z" fill="url(#gE2a)" stroke="none" stroke-width="1" />
<path d="M239.5,1094.25 H516.5 V1088.75 L529.5,1100.5 L516.5,1112.25 V1106.75 H239.5 Z" fill="url(#gE2b)" stroke="none" stroke-width="1" />
<text x="156.4" y="1175.4" font-size="27" text-anchor="start" fill="#111" style="font-weight:bold;" >EAU + HDCA (50mg/kg/day)</text>
<path d="M158,1184.95 H220.7 V1180.95 L230.7,1190.7 L220.7,1200.45 V1196.45 H158 Z" fill="url(#gE3a)" stroke="none" stroke-width="1" />
<path d="M239.5,1184.95 H299.5 V1180.95 L309.5,1190.7 L299.5,1200.45 V1196.45 H239.5 Z" fill="url(#gE3b)" stroke="none" stroke-width="1" />
<path d="M312.8,1184.45 H518 V1178.95 L531,1190.7 L518,1202.45 V1196.95 H312.8 Z" fill="url(#gE3c)" stroke="none" stroke-width="1" />
<path d="M68.3,1038 C70,1030 72,1026 76,1024.5 C81,1023 84,1021 87,1017 C89,1014 89.5,1012 89.2,1011" fill="none" stroke="#6a6a6a" stroke-width="2.6" stroke-linecap="round"/>
<path d="M27.5,1088 C27,1055 50,1038 72,1038 C95,1038 117,1055 116.5,1088 L98.5,1120 C91,1135 82,1156 70,1156 C58,1156 48,1135 40,1119 Z" fill="#e6e6e6" stroke="none" stroke-width="1" />
<circle cx="43.0" cy="1097.0" r="21.0" fill="#e6e6e6" />
<circle cx="98.5" cy="1097.0" r="21.0" fill="#e6e6e6" />
<path d="M27.5,1088 C27,1055 50,1038 72,1038 C95,1038 117,1055 116.5,1088" fill="none" stroke="#6a6a6a" stroke-width="2.6" />
<path d="M64,1097 A21,21 0 1 0 50.5,1116.6 L51,1117.5" fill="none" stroke="#6a6a6a" stroke-width="2.6" />
<path d="M77.5,1097 A21,21 0 1 1 91,1116.6 L90.5,1117.5" fill="none" stroke="#6a6a6a" stroke-width="2.6" />
<path d="M39.5,1119 C47,1135 57,1156 70,1156 C83,1156 92,1135 99,1120" fill="none" stroke="#6a6a6a" stroke-width="2.6" />
<text x="66.8" y="1177.7" font-size="26" text-anchor="middle" fill="#111" style="font-weight:bold;" >C57</text>
<rect x="71.0" y="1300.0" width="462.0" height="14.5" fill="url(#gtl)" stroke="none" stroke-width="1" />
<text x="74.3" y="1317.8" font-size="26" text-anchor="start" fill="#111" style="font-weight:bold;" >-2d</text>
<text x="165.5" y="1316.0" font-size="26.5" text-anchor="start" fill="#111" style="font-weight:bold;" >0d</text>
<text x="501.8" y="1318.0" font-size="25" text-anchor="middle" fill="#111" style="font-weight:bold;" >14d</text>
<path d="M71.5,1338 L81.5,1326 L91.5,1338 L85.5,1338 L85.5,1352 L77.5,1352 L77.5,1338 Z" fill="#f07c8a" stroke="none" stroke-width="1" />
<path d="M171.8,1338 L181.8,1326 L191.8,1338 L185.8,1338 L185.8,1352 L177.8,1352 L177.8,1338 Z" fill="#f07c8a" stroke="none" stroke-width="1" />
<path d="M493.4,1338 L503.4,1326 L513.4,1338 L507.4,1338 L507.4,1352 L499.4,1352 L499.4,1338 Z" fill="#f07c8a" stroke="none" stroke-width="1" />
<g transform="translate(107,1258) rotate(-40)"><rect x="-28" y="-8" width="52" height="16" fill="#ffffff" stroke="#707070" stroke-width="1.8"/><rect x="-27" y="-6.5" width="16" height="13" fill="#8fd3e0"/><line x1="24" y1="0" x2="40" y2="0" stroke="#707070" stroke-width="3"/><line x1="40" y1="-9" x2="40" y2="9" stroke="#707070" stroke-width="2.5"/><line x1="24" y1="-10" x2="24" y2="10" stroke="#707070" stroke-width="2"/><line x1="-28" y1="0" x2="-48" y2="0" stroke="#707070" stroke-width="1.5"/><path d="M-20,-8 V-3 M-14,-8 V-3 M-8,-8 V-3 M-2,-8 V-3 M4,-8 V-3 M10,-8 V-3 M16,-8 V-3" stroke="#707070" stroke-width="1.2"/></g>
<path d="M199,1262 C214,1250 224,1240 234,1232 C240,1226 244,1232 240,1238 C232,1248 218,1258 206,1270 Z" fill="#b8b8b8" stroke="#7a7a7a" stroke-width="2" />
<ellipse cx="186.0" cy="1275.0" rx="20.0" ry="12.0" fill="#b0b0b0" stroke="#7a7a7a" stroke-width="2" transform="rotate(-25 186 1275)"/>
<ellipse cx="188.0" cy="1272.0" rx="13.0" ry="6.0" fill="#c8c8c8" transform="rotate(-25 188 1272)"/>
<path d="M492,1204 V1282 C492,1300 524,1300 524,1282 V1204 Z" fill="#ffffff" stroke="#222" stroke-width="2" />
<path d="M497,1222 V1281 C497,1293 519,1293 519,1281 V1222 Z" fill="#dd9a92" stroke="none" stroke-width="1" />
<text x="220.0" y="1395.0" font-size="26.7" text-anchor="start" fill="#111" style="font-weight:bold;" >Pro- and anti- inflammatory cytokines</text>
<text x="33.4" y="1433.4" font-size="29" text-anchor="start" fill="#111" style="font-weight:bold;" >F</text>
<circle cx="174.5" cy="1440.7" r="4.5" fill="#efb466" />
<circle cx="308.8" cy="1440.7" r="4.5" fill="#8cbef2" />
<circle cx="494.9" cy="1440.7" r="4.5" fill="#aeb2d4" />
<text x="232.0" y="1448.4" font-size="22.8" text-anchor="start" fill="#111" style="font-weight:bold;" >EAU</text>
<text x="366.5" y="1448.4" font-size="22.8" text-anchor="start" fill="#111" style="font-weight:bold;" >EAU + OA</text>
<text x="551.8" y="1448.4" font-size="23.5" text-anchor="start" fill="#111" style="font-weight:bold;" >EAU+HDCA</text>
<line x1="156.1" y1="1469.0" x2="156.1" y2="1538.6" stroke="#9a9a9e" stroke-width="3.2" />
<line x1="156.1" y1="1551.3" x2="156.1" y2="1631.4" stroke="#9a9a9e" stroke-width="3.2" />
<line x1="156.1" y1="1646.5" x2="156.1" y2="1746.0" stroke="#9a9a9e" stroke-width="3.2" />
<line x1="143.5" y1="1538.6" x2="167.7" y2="1538.6" stroke="#9a9a9e" stroke-width="3.2" />
<line x1="143.5" y1="1551.3" x2="167.7" y2="1551.3" stroke="#9a9a9e" stroke-width="3.2" />
<line x1="143.5" y1="1631.4" x2="167.7" y2="1631.4" stroke="#9a9a9e" stroke-width="3.2" />
<line x1="143.5" y1="1646.5" x2="167.7" y2="1646.5" stroke="#9a9a9e" stroke-width="3.2" />
<line x1="148.0" y1="1501.8" x2="156.1" y2="1501.8" stroke="#9a9a9e" stroke-width="3.2" />
<text x="141.0" y="1508.8" font-size="20.6" text-anchor="end" fill="#111" style="" >2000</text>
<line x1="148.0" y1="1551.3" x2="156.1" y2="1551.3" stroke="#9a9a9e" stroke-width="3.2" />
<text x="141.0" y="1558.3" font-size="20.6" text-anchor="end" fill="#111" style="" >300</text>
<line x1="148.0" y1="1583.3" x2="156.1" y2="1583.3" stroke="#9a9a9e" stroke-width="3.2" />
<text x="141.0" y="1590.3" font-size="20.6" text-anchor="end" fill="#111" style="" >200</text>
<line x1="148.0" y1="1615.0" x2="156.1" y2="1615.0" stroke="#9a9a9e" stroke-width="3.2" />
<text x="141.0" y="1622.0" font-size="20.6" text-anchor="end" fill="#111" style="" >100</text>
<line x1="148.0" y1="1667.8" x2="156.1" y2="1667.8" stroke="#9a9a9e" stroke-width="3.2" />
<text x="141.0" y="1674.8" font-size="20.6" text-anchor="end" fill="#111" style="" >40</text>
<line x1="148.0" y1="1706.2" x2="156.1" y2="1706.2" stroke="#9a9a9e" stroke-width="3.2" />
<text x="141.0" y="1713.2" font-size="20.6" text-anchor="end" fill="#111" style="" >20</text>
<line x1="148.0" y1="1746.0" x2="156.1" y2="1746.0" stroke="#9a9a9e" stroke-width="3.2" />
<text x="141.0" y="1753.0" font-size="20.6" text-anchor="end" fill="#111" style="" >0</text>
<line x1="154.6" y1="1746.0" x2="825.5" y2="1746.0" stroke="#9a9a9e" stroke-width="3.2" />
<text transform="translate(94,1624) rotate(-90)" font-size="23.4" text-anchor="middle" fill="#111" style="font-weight:bold">Serum (pg/ml)</text>
<line x1="171.0" y1="1682.6" x2="171.0" y2="1746.0" stroke="#f0b96a" stroke-width="4.8" />
<line x1="192.7" y1="1682.6" x2="192.7" y2="1746.0" stroke="#f0b96a" stroke-width="4.8" />
<line x1="168.6" y1="1684.8" x2="195.1" y2="1684.8" stroke="#f0b96a" stroke-width="4.4" />
<circle cx="173.6" cy="1651.9" r="4.3" fill="#efb466" opacity="0.95"/>
<circle cx="182.0" cy="1651.9" r="4.3" fill="#efb466" opacity="0.95"/>
<circle cx="191.5" cy="1682.6" r="4.3" fill="#efb466" opacity="0.95"/>
<circle cx="173.7" cy="1692.2" r="4.3" fill="#efb466" opacity="0.95"/>
<circle cx="181.8" cy="1699.9" r="4.3" fill="#efb466" opacity="0.95"/>
<circle cx="190.1" cy="1705.7" r="4.3" fill="#efb466" opacity="0.95"/>
<line x1="181.8" y1="1672.1" x2="181.8" y2="1693.2" stroke="#8a8a8a" stroke-width="3" />
<line x1="175.8" y1="1672.1" x2="187.8" y2="1672.1" stroke="#8a8a8a" stroke-width="3" />
<line x1="175.8" y1="1693.2" x2="187.8" y2="1693.2" stroke="#8a8a8a" stroke-width="3" />
<line x1="203.1" y1="1691.3" x2="203.1" y2="1746.0" stroke="#8fc1f5" stroke-width="4.8" />
<line x1="224.8" y1="1691.3" x2="224.8" y2="1746.0" stroke="#8fc1f5" stroke-width="4.8" />
<line x1="200.7" y1="1693.5" x2="227.2" y2="1693.5" stroke="#8fc1f5" stroke-width="4.4" />
<circle cx="204.6" cy="1651.9" r="4.3" fill="#8cbef2" opacity="0.95"/>
<circle cx="213.9" cy="1673.0" r="4.3" fill="#8cbef2" opacity="0.95"/>
<circle cx="222.4" cy="1688.4" r="4.3" fill="#8cbef2" opacity="0.95"/>
<circle cx="207.1" cy="1696.1" r="4.3" fill="#8cbef2" opacity="0.95"/>
<circle cx="212.3" cy="1707.6" r="4.3" fill="#8cbef2" opacity="0.95"/>
<circle cx="221.1" cy="1703.8" r="4.3" fill="#8cbef2" opacity="0.95"/>
<line x1="213.9" y1="1681.7" x2="213.9" y2="1700.9" stroke="#8a8a8a" stroke-width="3" />
<line x1="207.9" y1="1681.7" x2="219.9" y2="1681.7" stroke="#8a8a8a" stroke-width="3" />
<line x1="207.9" y1="1700.9" x2="219.9" y2="1700.9" stroke="#8a8a8a" stroke-width="3" />
<line x1="235.2" y1="1709.5" x2="235.2" y2="1746.0" stroke="#b3b7d8" stroke-width="4.8" />
<line x1="256.9" y1="1709.5" x2="256.9" y2="1746.0" stroke="#b3b7d8" stroke-width="4.8" />
<line x1="232.8" y1="1711.7" x2="259.2" y2="1711.7" stroke="#b3b7d8" stroke-width="4.4" />
<circle cx="236.4" cy="1692.2" r="4.3" fill="#aeb2d4" opacity="0.95"/>
<circle cx="247.2" cy="1701.8" r="4.3" fill="#aeb2d4" opacity="0.95"/>
<circle cx="254.8" cy="1705.7" r="4.3" fill="#aeb2d4" opacity="0.95"/>
<circle cx="236.2" cy="1711.4" r="4.3" fill="#aeb2d4" opacity="0.95"/>
<circle cx="247.9" cy="1726.8" r="4.3" fill="#aeb2d4" opacity="0.95"/>
<circle cx="255.9" cy="1719.1" r="4.3" fill="#aeb2d4" opacity="0.95"/>
<line x1="246.0" y1="1704.1" x2="246.0" y2="1714.9" stroke="#8a8a8a" stroke-width="3" />
<line x1="240.0" y1="1704.1" x2="252.0" y2="1704.1" stroke="#8a8a8a" stroke-width="3" />
<line x1="240.0" y1="1714.9" x2="252.0" y2="1714.9" stroke="#8a8a8a" stroke-width="3" />
<line x1="213.9" y1="1746.0" x2="213.9" y2="1752.0" stroke="#9a9a9e" stroke-width="3" />
<line x1="282.0" y1="1567.3" x2="282.0" y2="1631.4" stroke="#f0b96a" stroke-width="4.8" />
<line x1="303.8" y1="1567.3" x2="303.8" y2="1631.4" stroke="#f0b96a" stroke-width="4.8" />
<line x1="279.6" y1="1569.5" x2="306.1" y2="1569.5" stroke="#f0b96a" stroke-width="4.4" />
<line x1="282.0" y1="1646.5" x2="282.0" y2="1746.0" stroke="#f0b96a" stroke-width="4.8" />
<line x1="303.8" y1="1646.5" x2="303.8" y2="1746.0" stroke="#f0b96a" stroke-width="4.8" />
<circle cx="285.5" cy="1585.3" r="4.3" fill="#efb466" opacity="0.95"/>
<circle cx="293.4" cy="1560.9" r="4.3" fill="#efb466" opacity="0.95"/>
<circle cx="299.5" cy="1565.7" r="4.3" fill="#efb466" opacity="0.95"/>
<circle cx="283.0" cy="1570.5" r="4.3" fill="#efb466" opacity="0.95"/>
<circle cx="293.0" cy="1589.6" r="4.3" fill="#efb466" opacity="0.95"/>
<circle cx="299.1" cy="1564.1" r="4.3" fill="#efb466" opacity="0.95"/>
<line x1="292.9" y1="1560.9" x2="292.9" y2="1573.7" stroke="#8a8a8a" stroke-width="3" />
<line x1="286.9" y1="1560.9" x2="298.9" y2="1560.9" stroke="#8a8a8a" stroke-width="3" />
<line x1="286.9" y1="1573.7" x2="298.9" y2="1573.7" stroke="#8a8a8a" stroke-width="3" />
<line x1="314.1" y1="1590.2" x2="314.1" y2="1631.4" stroke="#8fc1f5" stroke-width="4.8" />
<line x1="335.9" y1="1590.2" x2="335.9" y2="1631.4" stroke="#8fc1f5" stroke-width="4.8" />
<line x1="311.8" y1="1592.4" x2="338.2" y2="1592.4" stroke="#8fc1f5" stroke-width="4.4" />
<line x1="314.1" y1="1646.5" x2="314.1" y2="1746.0" stroke="#8fc1f5" stroke-width="4.8" />
<line x1="335.9" y1="1646.5" x2="335.9" y2="1746.0" stroke="#8fc1f5" stroke-width="4.8" />
<circle cx="315.8" cy="1581.6" r="4.3" fill="#8cbef2" opacity="0.95"/>
<circle cx="324.0" cy="1576.8" r="4.3" fill="#8cbef2" opacity="0.95"/>
<circle cx="331.1" cy="1591.2" r="4.3" fill="#8cbef2" opacity="0.95"/>
<circle cx="316.9" cy="1595.9" r="4.3" fill="#8cbef2" opacity="0.95"/>
<circle cx="324.8" cy="1599.1" r="4.3" fill="#8cbef2" opacity="0.95"/>
<circle cx="334.4" cy="1586.4" r="4.3" fill="#8cbef2" opacity="0.95"/>
<line x1="325.0" y1="1586.4" x2="325.0" y2="1594.0" stroke="#8a8a8a" stroke-width="3" />
<line x1="319.0" y1="1586.4" x2="331.0" y2="1586.4" stroke="#8a8a8a" stroke-width="3" />
<line x1="319.0" y1="1594.0" x2="331.0" y2="1594.0" stroke="#8a8a8a" stroke-width="3" />
<line x1="346.2" y1="1593.4" x2="346.2" y2="1631.4" stroke="#b3b7d8" stroke-width="4.8" />
<line x1="368.0" y1="1593.4" x2="368.0" y2="1631.4" stroke="#b3b7d8" stroke-width="4.8" />
<line x1="343.9" y1="1595.6" x2="370.4" y2="1595.6" stroke="#b3b7d8" stroke-width="4.4" />
<line x1="346.2" y1="1646.5" x2="346.2" y2="1746.0" stroke="#b3b7d8" stroke-width="4.8" />
<line x1="368.0" y1="1646.5" x2="368.0" y2="1746.0" stroke="#b3b7d8" stroke-width="4.8" />
<circle cx="349.2" cy="1562.5" r="4.3" fill="#aeb2d4" opacity="0.95"/>
<circle cx="357.7" cy="1573.7" r="4.3" fill="#aeb2d4" opacity="0.95"/>
<circle cx="365.1" cy="1583.2" r="4.3" fill="#aeb2d4" opacity="0.95"/>
<circle cx="349.7" cy="1599.1" r="4.3" fill="#aeb2d4" opacity="0.95"/>
<circle cx="356.9" cy="1602.3" r="4.3" fill="#aeb2d4" opacity="0.95"/>
<circle cx="364.2" cy="1592.7" r="4.3" fill="#aeb2d4" opacity="0.95"/>
<line x1="357.1" y1="1584.5" x2="357.1" y2="1602.3" stroke="#8a8a8a" stroke-width="3" />
<line x1="351.1" y1="1584.5" x2="363.1" y2="1584.5" stroke="#8a8a8a" stroke-width="3" />
<line x1="351.1" y1="1602.3" x2="363.1" y2="1602.3" stroke="#8a8a8a" stroke-width="3" />
<line x1="325.0" y1="1746.0" x2="325.0" y2="1752.0" stroke="#9a9a9e" stroke-width="3" />
<line x1="392.0" y1="1616.0" x2="392.0" y2="1631.4" stroke="#f0b96a" stroke-width="4.8" />
<line x1="413.8" y1="1616.0" x2="413.8" y2="1631.4" stroke="#f0b96a" stroke-width="4.8" />
<line x1="389.6" y1="1618.2" x2="416.1" y2="1618.2" stroke="#f0b96a" stroke-width="4.4" />
<line x1="392.0" y1="1646.5" x2="392.0" y2="1746.0" stroke="#f0b96a" stroke-width="4.8" />
<line x1="413.8" y1="1646.5" x2="413.8" y2="1746.0" stroke="#f0b96a" stroke-width="4.8" />
<circle cx="396.9" cy="1607.0" r="4.3" fill="#efb466" opacity="0.95"/>
<circle cx="404.9" cy="1603.9" r="4.3" fill="#efb466" opacity="0.95"/>
<circle cx="412.3" cy="1615.0" r="4.3" fill="#efb466" opacity="0.95"/>
<circle cx="395.7" cy="1618.2" r="4.3" fill="#efb466" opacity="0.95"/>
<circle cx="402.2" cy="1678.8" r="4.3" fill="#efb466" opacity="0.95"/>
<circle cx="409.8" cy="1611.8" r="4.3" fill="#efb466" opacity="0.95"/>
<line x1="402.9" y1="1613.1" x2="402.9" y2="1618.8" stroke="#8a8a8a" stroke-width="3" />
<line x1="396.9" y1="1613.1" x2="408.9" y2="1613.1" stroke="#8a8a8a" stroke-width="3" />
<line x1="396.9" y1="1618.8" x2="408.9" y2="1618.8" stroke="#8a8a8a" stroke-width="3" />
<line x1="424.1" y1="1597.5" x2="424.1" y2="1631.4" stroke="#8fc1f5" stroke-width="4.8" />
<line x1="445.9" y1="1597.5" x2="445.9" y2="1631.4" stroke="#8fc1f5" stroke-width="4.8" />
<line x1="421.8" y1="1599.7" x2="448.2" y2="1599.7" stroke="#8fc1f5" stroke-width="4.4" />
<line x1="424.1" y1="1646.5" x2="424.1" y2="1746.0" stroke="#8fc1f5" stroke-width="4.8" />
<line x1="445.9" y1="1646.5" x2="445.9" y2="1746.0" stroke="#8fc1f5" stroke-width="4.8" />
<circle cx="426.2" cy="1581.6" r="4.3" fill="#8cbef2" opacity="0.95"/>
<circle cx="433.3" cy="1575.2" r="4.3" fill="#8cbef2" opacity="0.95"/>
<circle cx="444.1" cy="1599.1" r="4.3" fill="#8cbef2" opacity="0.95"/>
<circle cx="426.6" cy="1602.3" r="4.3" fill="#8cbef2" opacity="0.95"/>
<circle cx="436.4" cy="1605.5" r="4.3" fill="#8cbef2" opacity="0.95"/>
<circle cx="442.5" cy="1595.9" r="4.3" fill="#8cbef2" opacity="0.95"/>
<line x1="435.0" y1="1592.7" x2="435.0" y2="1602.3" stroke="#8a8a8a" stroke-width="3" />
<line x1="429.0" y1="1592.7" x2="441.0" y2="1592.7" stroke="#8a8a8a" stroke-width="3" />
<line x1="429.0" y1="1602.3" x2="441.0" y2="1602.3" stroke="#8a8a8a" stroke-width="3" />
<line x1="456.2" y1="1591.2" x2="456.2" y2="1631.4" stroke="#b3b7d8" stroke-width="4.8" />
<line x1="478.0" y1="1591.2" x2="478.0" y2="1631.4" stroke="#b3b7d8" stroke-width="4.8" />
<line x1="453.9" y1="1593.4" x2="480.4" y2="1593.4" stroke="#b3b7d8" stroke-width="4.4" />
<line x1="456.2" y1="1646.5" x2="456.2" y2="1746.0" stroke="#b3b7d8" stroke-width="4.8" />
<line x1="478.0" y1="1646.5" x2="478.0" y2="1746.0" stroke="#b3b7d8" stroke-width="4.8" />
<circle cx="460.9" cy="1562.5" r="4.3" fill="#aeb2d4" opacity="0.95"/>
<circle cx="468.5" cy="1576.8" r="4.3" fill="#aeb2d4" opacity="0.95"/>
<circle cx="473.1" cy="1583.2" r="4.3" fill="#aeb2d4" opacity="0.95"/>
<circle cx="457.9" cy="1608.6" r="4.3" fill="#aeb2d4" opacity="0.95"/>
<circle cx="468.7" cy="1611.8" r="4.3" fill="#aeb2d4" opacity="0.95"/>
<circle cx="475.0" cy="1592.7" r="4.3" fill="#aeb2d4" opacity="0.95"/>
<line x1="467.1" y1="1584.2" x2="467.1" y2="1598.1" stroke="#8a8a8a" stroke-width="3" />
<line x1="461.1" y1="1584.2" x2="473.1" y2="1584.2" stroke="#8a8a8a" stroke-width="3" />
<line x1="461.1" y1="1598.1" x2="473.1" y2="1598.1" stroke="#8a8a8a" stroke-width="3" />
<line x1="435.0" y1="1746.0" x2="435.0" y2="1752.0" stroke="#9a9a9e" stroke-width="3" />
<line x1="502.0" y1="1678.8" x2="502.0" y2="1746.0" stroke="#f0b96a" stroke-width="4.8" />
<line x1="523.8" y1="1678.8" x2="523.8" y2="1746.0" stroke="#f0b96a" stroke-width="4.8" />
<line x1="499.6" y1="1681.0" x2="526.1" y2="1681.0" stroke="#f0b96a" stroke-width="4.4" />
<circle cx="506.8" cy="1657.7" r="4.3" fill="#efb466" opacity="0.95"/>
<circle cx="512.5" cy="1676.9" r="4.3" fill="#efb466" opacity="0.95"/>
<circle cx="519.2" cy="1682.6" r="4.3" fill="#efb466" opacity="0.95"/>
<circle cx="505.4" cy="1688.4" r="4.3" fill="#efb466" opacity="0.95"/>
<circle cx="514.0" cy="1694.2" r="4.3" fill="#efb466" opacity="0.95"/>
<circle cx="520.0" cy="1673.0" r="4.3" fill="#efb466" opacity="0.95"/>
<line x1="512.9" y1="1673.0" x2="512.9" y2="1684.6" stroke="#8a8a8a" stroke-width="3" />
<line x1="506.9" y1="1673.0" x2="518.9" y2="1673.0" stroke="#8a8a8a" stroke-width="3" />
<line x1="506.9" y1="1684.6" x2="518.9" y2="1684.6" stroke="#8a8a8a" stroke-width="3" />
<line x1="534.1" y1="1713.4" x2="534.1" y2="1746.0" stroke="#8fc1f5" stroke-width="4.8" />
<line x1="555.9" y1="1713.4" x2="555.9" y2="1746.0" stroke="#8fc1f5" stroke-width="4.8" />
<line x1="531.8" y1="1715.6" x2="558.2" y2="1715.6" stroke="#8fc1f5" stroke-width="4.4" />
<circle cx="535.3" cy="1690.3" r="4.3" fill="#8cbef2" opacity="0.95"/>
<circle cx="544.3" cy="1703.8" r="4.3" fill="#8cbef2" opacity="0.95"/>
<circle cx="554.9" cy="1711.4" r="4.3" fill="#8cbef2" opacity="0.95"/>
<circle cx="538.0" cy="1715.3" r="4.3" fill="#8cbef2" opacity="0.95"/>
<circle cx="543.5" cy="1723.0" r="4.3" fill="#8cbef2" opacity="0.95"/>
<circle cx="552.0" cy="1707.6" r="4.3" fill="#8cbef2" opacity="0.95"/>
<line x1="545.0" y1="1708.6" x2="545.0" y2="1718.2" stroke="#8a8a8a" stroke-width="3" />
<line x1="539.0" y1="1708.6" x2="551.0" y2="1708.6" stroke="#8a8a8a" stroke-width="3" />
<line x1="539.0" y1="1718.2" x2="551.0" y2="1718.2" stroke="#8a8a8a" stroke-width="3" />
<line x1="566.2" y1="1717.2" x2="566.2" y2="1746.0" stroke="#b3b7d8" stroke-width="4.8" />
<line x1="588.0" y1="1717.2" x2="588.0" y2="1746.0" stroke="#b3b7d8" stroke-width="4.8" />
<line x1="563.9" y1="1719.4" x2="590.4" y2="1719.4" stroke="#b3b7d8" stroke-width="4.4" />
<circle cx="567.5" cy="1703.8" r="4.3" fill="#aeb2d4" opacity="0.95"/>
<circle cx="575.3" cy="1705.7" r="4.3" fill="#aeb2d4" opacity="0.95"/>
<circle cx="586.3" cy="1711.4" r="4.3" fill="#aeb2d4" opacity="0.95"/>
<circle cx="567.8" cy="1717.2" r="4.3" fill="#aeb2d4" opacity="0.95"/>
<circle cx="577.3" cy="1734.5" r="4.3" fill="#aeb2d4" opacity="0.95"/>
<circle cx="584.9" cy="1721.0" r="4.3" fill="#aeb2d4" opacity="0.95"/>
<line x1="577.1" y1="1712.4" x2="577.1" y2="1722.0" stroke="#8a8a8a" stroke-width="3" />
<line x1="571.1" y1="1712.4" x2="583.1" y2="1712.4" stroke="#8a8a8a" stroke-width="3" />
<line x1="571.1" y1="1722.0" x2="583.1" y2="1722.0" stroke="#8a8a8a" stroke-width="3" />
<line x1="545.0" y1="1746.0" x2="545.0" y2="1752.0" stroke="#9a9a9e" stroke-width="3" />
<line x1="611.0" y1="1571.4" x2="611.0" y2="1631.4" stroke="#f0b96a" stroke-width="4.8" />
<line x1="632.8" y1="1571.4" x2="632.8" y2="1631.4" stroke="#f0b96a" stroke-width="4.8" />
<line x1="608.6" y1="1573.6" x2="635.1" y2="1573.6" stroke="#f0b96a" stroke-width="4.4" />
<line x1="611.0" y1="1646.5" x2="611.0" y2="1746.0" stroke="#f0b96a" stroke-width="4.8" />
<line x1="632.8" y1="1646.5" x2="632.8" y2="1746.0" stroke="#f0b96a" stroke-width="4.8" />
<circle cx="612.7" cy="1585.3" r="4.3" fill="#efb466" opacity="0.95"/>
<circle cx="622.8" cy="1560.9" r="4.3" fill="#efb466" opacity="0.95"/>
<circle cx="628.4" cy="1570.5" r="4.3" fill="#efb466" opacity="0.95"/>
<circle cx="614.5" cy="1576.8" r="4.3" fill="#efb466" opacity="0.95"/>
<circle cx="620.4" cy="1595.9" r="4.3" fill="#efb466" opacity="0.95"/>
<circle cx="629.6" cy="1567.3" r="4.3" fill="#efb466" opacity="0.95"/>
<line x1="621.9" y1="1565.1" x2="621.9" y2="1577.8" stroke="#8a8a8a" stroke-width="3" />
<line x1="615.9" y1="1565.1" x2="627.9" y2="1565.1" stroke="#8a8a8a" stroke-width="3" />
<line x1="615.9" y1="1577.8" x2="627.9" y2="1577.8" stroke="#8a8a8a" stroke-width="3" />
<line x1="643.1" y1="1584.5" x2="643.1" y2="1631.4" stroke="#8fc1f5" stroke-width="4.8" />
<line x1="664.9" y1="1584.5" x2="664.9" y2="1631.4" stroke="#8fc1f5" stroke-width="4.8" />
<line x1="640.8" y1="1586.7" x2="667.2" y2="1586.7" stroke="#8fc1f5" stroke-width="4.4" />
<line x1="643.1" y1="1646.5" x2="643.1" y2="1746.0" stroke="#8fc1f5" stroke-width="4.8" />
<line x1="664.9" y1="1646.5" x2="664.9" y2="1746.0" stroke="#8fc1f5" stroke-width="4.8" />
<circle cx="644.9" cy="1573.7" r="4.3" fill="#8cbef2" opacity="0.95"/>
<circle cx="653.1" cy="1568.9" r="4.3" fill="#8cbef2" opacity="0.95"/>
<circle cx="663.9" cy="1586.4" r="4.3" fill="#8cbef2" opacity="0.95"/>
<circle cx="647.2" cy="1589.6" r="4.3" fill="#8cbef2" opacity="0.95"/>
<circle cx="653.2" cy="1592.7" r="4.3" fill="#8cbef2" opacity="0.95"/>
<circle cx="663.5" cy="1581.6" r="4.3" fill="#8cbef2" opacity="0.95"/>
<line x1="654.0" y1="1580.7" x2="654.0" y2="1588.3" stroke="#8a8a8a" stroke-width="3" />
<line x1="648.0" y1="1580.7" x2="660.0" y2="1580.7" stroke="#8a8a8a" stroke-width="3" />
<line x1="648.0" y1="1588.3" x2="660.0" y2="1588.3" stroke="#8a8a8a" stroke-width="3" />
<line x1="675.2" y1="1618.5" x2="675.2" y2="1631.4" stroke="#b3b7d8" stroke-width="4.8" />
<line x1="697.0" y1="1618.5" x2="697.0" y2="1631.4" stroke="#b3b7d8" stroke-width="4.8" />
<line x1="672.9" y1="1620.7" x2="699.4" y2="1620.7" stroke="#b3b7d8" stroke-width="4.4" />
<line x1="675.2" y1="1646.5" x2="675.2" y2="1746.0" stroke="#b3b7d8" stroke-width="4.8" />
<line x1="697.0" y1="1646.5" x2="697.0" y2="1746.0" stroke="#b3b7d8" stroke-width="4.8" />
<circle cx="676.9" cy="1600.7" r="4.3" fill="#aeb2d4" opacity="0.95"/>
<circle cx="685.7" cy="1611.8" r="4.3" fill="#aeb2d4" opacity="0.95"/>
<circle cx="695.5" cy="1616.6" r="4.3" fill="#aeb2d4" opacity="0.95"/>
<circle cx="678.7" cy="1621.4" r="4.3" fill="#aeb2d4" opacity="0.95"/>
<circle cx="684.5" cy="1701.8" r="4.3" fill="#aeb2d4" opacity="0.95"/>
<circle cx="696.1" cy="1618.2" r="4.3" fill="#aeb2d4" opacity="0.95"/>
<line x1="686.1" y1="1615.3" x2="686.1" y2="1621.7" stroke="#8a8a8a" stroke-width="3" />
<line x1="680.1" y1="1615.3" x2="692.1" y2="1615.3" stroke="#8a8a8a" stroke-width="3" />
<line x1="680.1" y1="1621.7" x2="692.1" y2="1621.7" stroke="#8a8a8a" stroke-width="3" />
<line x1="654.0" y1="1746.0" x2="654.0" y2="1752.0" stroke="#9a9a9e" stroke-width="3" />
<line x1="722.6" y1="1491.8" x2="722.6" y2="1538.6" stroke="#f0b96a" stroke-width="4.8" />
<line x1="744.4" y1="1491.8" x2="744.4" y2="1538.6" stroke="#f0b96a" stroke-width="4.8" />
<line x1="720.2" y1="1494.0" x2="746.8" y2="1494.0" stroke="#f0b96a" stroke-width="4.4" />
<line x1="722.6" y1="1551.3" x2="722.6" y2="1631.4" stroke="#f0b96a" stroke-width="4.8" />
<line x1="744.4" y1="1551.3" x2="744.4" y2="1631.4" stroke="#f0b96a" stroke-width="4.8" />
<line x1="722.6" y1="1646.5" x2="722.6" y2="1746.0" stroke="#f0b96a" stroke-width="4.8" />
<line x1="744.4" y1="1646.5" x2="744.4" y2="1746.0" stroke="#f0b96a" stroke-width="4.8" />
<circle cx="724.4" cy="1476.8" r="4.3" fill="#efb466" opacity="0.95"/>
<circle cx="732.5" cy="1486.8" r="4.3" fill="#efb466" opacity="0.95"/>
<circle cx="742.6" cy="1491.8" r="4.3" fill="#efb466" opacity="0.95"/>
<circle cx="724.8" cy="1496.8" r="4.3" fill="#efb466" opacity="0.95"/>
<circle cx="732.7" cy="1501.8" r="4.3" fill="#efb466" opacity="0.95"/>
<circle cx="739.8" cy="1489.3" r="4.3" fill="#efb466" opacity="0.95"/>
<line x1="733.5" y1="1486.8" x2="733.5" y2="1496.8" stroke="#8a8a8a" stroke-width="3" />
<line x1="727.5" y1="1486.8" x2="739.5" y2="1486.8" stroke="#8a8a8a" stroke-width="3" />
<line x1="727.5" y1="1496.8" x2="739.5" y2="1496.8" stroke="#8a8a8a" stroke-width="3" />
<line x1="754.8" y1="1494.3" x2="754.8" y2="1538.6" stroke="#8fc1f5" stroke-width="4.8" />
<line x1="776.5" y1="1494.3" x2="776.5" y2="1538.6" stroke="#8fc1f5" stroke-width="4.8" />
<line x1="752.4" y1="1496.5" x2="778.9" y2="1496.5" stroke="#8fc1f5" stroke-width="4.4" />
<line x1="754.8" y1="1551.3" x2="754.8" y2="1631.4" stroke="#8fc1f5" stroke-width="4.8" />
<line x1="776.5" y1="1551.3" x2="776.5" y2="1631.4" stroke="#8fc1f5" stroke-width="4.8" />
<line x1="754.8" y1="1646.5" x2="754.8" y2="1746.0" stroke="#8fc1f5" stroke-width="4.8" />
<line x1="776.5" y1="1646.5" x2="776.5" y2="1746.0" stroke="#8fc1f5" stroke-width="4.8" />
<circle cx="756.0" cy="1486.8" r="4.3" fill="#8cbef2" opacity="0.95"/>
<circle cx="765.9" cy="1489.3" r="4.3" fill="#8cbef2" opacity="0.95"/>
<circle cx="772.6" cy="1496.8" r="4.3" fill="#8cbef2" opacity="0.95"/>
<circle cx="758.0" cy="1501.8" r="4.3" fill="#8cbef2" opacity="0.95"/>
<circle cx="765.1" cy="1506.8" r="4.3" fill="#8cbef2" opacity="0.95"/>
<circle cx="773.4" cy="1491.8" r="4.3" fill="#8cbef2" opacity="0.95"/>
<line x1="765.6" y1="1486.8" x2="765.6" y2="1501.8" stroke="#8a8a8a" stroke-width="3" />
<line x1="759.6" y1="1486.8" x2="771.6" y2="1486.8" stroke="#8a8a8a" stroke-width="3" />
<line x1="759.6" y1="1501.8" x2="771.6" y2="1501.8" stroke="#8a8a8a" stroke-width="3" />
<line x1="786.9" y1="1527.8" x2="786.9" y2="1538.6" stroke="#b3b7d8" stroke-width="4.8" />
<line x1="808.6" y1="1527.8" x2="808.6" y2="1538.6" stroke="#b3b7d8" stroke-width="4.8" />
<line x1="784.5" y1="1530.0" x2="811.0" y2="1530.0" stroke="#b3b7d8" stroke-width="4.4" />
<line x1="786.9" y1="1551.3" x2="786.9" y2="1631.4" stroke="#b3b7d8" stroke-width="4.8" />
<line x1="808.6" y1="1551.3" x2="808.6" y2="1631.4" stroke="#b3b7d8" stroke-width="4.8" />
<line x1="786.9" y1="1646.5" x2="786.9" y2="1746.0" stroke="#b3b7d8" stroke-width="4.8" />
<line x1="808.6" y1="1646.5" x2="808.6" y2="1746.0" stroke="#b3b7d8" stroke-width="4.8" />
<circle cx="791.5" cy="1521.8" r="4.3" fill="#aeb2d4" opacity="0.95"/>
<circle cx="797.6" cy="1524.3" r="4.3" fill="#aeb2d4" opacity="0.95"/>
<circle cx="806.0" cy="1526.8" r="4.3" fill="#aeb2d4" opacity="0.95"/>
<circle cx="791.2" cy="1529.3" r="4.3" fill="#aeb2d4" opacity="0.95"/>
<circle cx="796.4" cy="1530.8" r="4.3" fill="#aeb2d4" opacity="0.95"/>
<circle cx="804.3" cy="1527.8" r="4.3" fill="#aeb2d4" opacity="0.95"/>
<line x1="797.7" y1="1525.8" x2="797.7" y2="1529.8" stroke="#8a8a8a" stroke-width="3" />
<line x1="791.7" y1="1525.8" x2="803.7" y2="1525.8" stroke="#8a8a8a" stroke-width="3" />
<line x1="791.7" y1="1529.8" x2="803.7" y2="1529.8" stroke="#8a8a8a" stroke-width="3" />
<line x1="765.6" y1="1746.0" x2="765.6" y2="1752.0" stroke="#9a9a9e" stroke-width="3" />
<text x="215.6" y="1589.0" font-size="33.2" text-anchor="middle" fill="#111" style="font-weight:bold;letter-spacing:3.47px">*</text>
<line x1="179.6" y1="1597.2" x2="249.0" y2="1597.2" stroke="#111" stroke-width="3" />
<text x="232.7" y="1635.2" font-size="33.2" text-anchor="middle" fill="#111" style="font-weight:bold;letter-spacing:3.47px">*</text>
<line x1="216.9" y1="1643.0" x2="248.0" y2="1643.0" stroke="#111" stroke-width="3" />
<text x="327.7" y="1481.2" font-size="33.2" text-anchor="middle" fill="#111" style="font-weight:bold;letter-spacing:3.47px">*</text>
<line x1="291.7" y1="1489.9" x2="361.4" y2="1489.9" stroke="#111" stroke-width="3" />
<text x="310.5" y="1524.6" font-size="33.2" text-anchor="middle" fill="#111" style="font-weight:bold;letter-spacing:3.47px">**</text>
<line x1="293.0" y1="1532.6" x2="326.0" y2="1532.6" stroke="#111" stroke-width="3" />
<text x="433.7" y="1511.2" font-size="33.2" text-anchor="middle" fill="#111" style="font-weight:bold;letter-spacing:3.47px">**</text>
<line x1="401.2" y1="1519.0" x2="466.2" y2="1519.0" stroke="#111" stroke-width="3" />
<text x="418.7" y="1555.6" font-size="33.2" text-anchor="middle" fill="#111" style="font-weight:bold;letter-spacing:3.47px">**</text>
<line x1="400.0" y1="1563.9" x2="436.3" y2="1563.9" stroke="#111" stroke-width="3" />
<text x="550.0" y="1593.3" font-size="33.2" text-anchor="middle" fill="#111" style="font-weight:bold;letter-spacing:3.47px">**</text>
<line x1="519.7" y1="1601.5" x2="578.3" y2="1601.5" stroke="#111" stroke-width="3" />
<text x="529.1" y="1636.9" font-size="33.2" text-anchor="middle" fill="#111" style="font-weight:bold;letter-spacing:3.47px">**</text>
<line x1="510.3" y1="1645.0" x2="546.2" y2="1645.0" stroke="#111" stroke-width="3" />
<text x="654.7" y="1501.8" font-size="33.2" text-anchor="middle" fill="#111" style="font-weight:bold;letter-spacing:3.47px">****</text>
<line x1="620.2" y1="1509.8" x2="688.0" y2="1509.8" stroke="#111" stroke-width="3" />
<text x="672.6" y="1553.0" font-size="33.2" text-anchor="middle" fill="#111" style="font-weight:bold;letter-spacing:3.47px">***</text>
<line x1="655.5" y1="1561.3" x2="688.5" y2="1561.3" stroke="#111" stroke-width="3" />
<text x="768.6" y="1441.2" font-size="33.2" text-anchor="middle" fill="#111" style="font-weight:bold;letter-spacing:3.47px">****</text>
<line x1="733.3" y1="1449.8" x2="802.2" y2="1449.8" stroke="#111" stroke-width="3" />
<text x="790.2" y="1479.6" font-size="33.2" text-anchor="middle" fill="#111" style="font-weight:bold;letter-spacing:3.47px">**</text>
<line x1="773.0" y1="1488.5" x2="805.0" y2="1488.5" stroke="#111" stroke-width="3" />
<rect x="156.0" y="1756.0" width="108.0" height="22.0" fill="#eef2fb" stroke="none" stroke-width="1" />
<rect x="156.0" y="1778.0" width="108.0" height="23.0" fill="#b9d1f5" stroke="none" stroke-width="1" />
<rect x="264.0" y="1756.0" width="111.5" height="22.0" fill="#dbe7f9" stroke="none" stroke-width="1" />
<rect x="264.0" y="1778.0" width="111.5" height="23.0" fill="#dbe7f9" stroke="none" stroke-width="1" />
<rect x="375.5" y="1756.0" width="110.8" height="22.0" fill="#f2d7b2" stroke="none" stroke-width="1" />
<rect x="375.5" y="1778.0" width="110.8" height="23.0" fill="#efc796" stroke="none" stroke-width="1" />
<rect x="486.3" y="1756.0" width="111.2" height="22.0" fill="#c3d7f6" stroke="none" stroke-width="1" />
<rect x="486.3" y="1778.0" width="111.2" height="23.0" fill="#bed3f5" stroke="none" stroke-width="1" />
<rect x="597.5" y="1756.0" width="111.2" height="22.0" fill="#e9effa" stroke="none" stroke-width="1" />
<rect x="597.5" y="1778.0" width="111.2" height="23.0" fill="#a6c2f1" stroke="none" stroke-width="1" />
<rect x="708.7" y="1756.0" width="110.3" height="22.0" fill="#eef3fb" stroke="none" stroke-width="1" />
<rect x="708.7" y="1778.0" width="110.3" height="23.0" fill="#a9c5f2" stroke="none" stroke-width="1" />
<rect x="153.5" y="1753.5" width="668.0" height="50.0" fill="none" stroke="#9a9a9a" stroke-width="4" />
<line x1="144.0" y1="1767.0" x2="152.0" y2="1767.0" stroke="#9a9a9e" stroke-width="3" />
<line x1="144.0" y1="1791.0" x2="152.0" y2="1791.0" stroke="#9a9a9e" stroke-width="3" />
<text x="141.0" y="1774.5" font-size="20.7" text-anchor="end" fill="#111" style="font-weight:bold;" >OA/EAU</text>
<text x="141.0" y="1799.5" font-size="20.7" text-anchor="end" fill="#111" style="font-weight:bold;" >HDCA/EAU</text>
<text x="213.9" y="1831.0" font-size="24" text-anchor="middle" fill="#111" style="font-weight:bold;" >IL-1β</text>
<text x="323.8" y="1831.0" font-size="24" text-anchor="middle" fill="#111" style="font-weight:bold;" >IL-6</text>
<text x="434.0" y="1831.0" font-size="24" text-anchor="middle" fill="#111" style="font-weight:bold;" >IL-10</text>
<text x="544.0" y="1831.0" font-size="24" text-anchor="middle" fill="#111" style="font-weight:bold;" >IL-12p70</text>
<text x="654.4" y="1831.0" font-size="24" text-anchor="middle" fill="#111" style="font-weight:bold;" >IL-17a</text>
<text x="765.6" y="1831.0" font-size="24" text-anchor="middle" fill="#111" style="font-weight:bold;" >TNF-α</text>
<text x="518.4" y="1869.7" font-size="23.4" text-anchor="start" fill="#111" style="font-weight:bold;" >Fold changs</text>
<rect x="667.0" y="1849.6" width="156.4" height="25.4" fill="url(#gfold)" stroke="none" stroke-width="1" />
<text x="685.0" y="1871.0" font-size="21" text-anchor="middle" fill="#111" style="font-weight:bold;" >0.5</text>
<text x="734.8" y="1871.0" font-size="21" text-anchor="middle" fill="#111" style="font-weight:bold;" >1.0</text>
<text x="784.9" y="1871.0" font-size="21" text-anchor="middle" fill="#111" style="font-weight:bold;" >1.5</text>
<text x="651.8" y="961.0" font-size="29" text-anchor="start" fill="#111" style="font-weight:bold;" >G</text>
<text x="918.7" y="900" font-size="23.2" fill="#111" style="font-weight:bold">Gate on CD45<tspan dy="-10" font-size="16">+</tspan><tspan dy="10"> F4/80</tspan><tspan dy="-10" font-size="16">+</tspan></text>
<text x="804.8" y="982.0" font-size="26.5" text-anchor="middle" fill="#111" style="font-weight:bold;" >RPM</text>
<text x="695.8" y="1015.6" font-size="20.5" fill="#111">CD45<tspan dy="-9" font-size="14">+</tspan><tspan dy="9"> F4/80</tspan><tspan dy="-9" font-size="14">hi</tspan><tspan dy="9"> CD11b</tspan><tspan dy="-9" font-size="14">lo</tspan></text>
<text x="803.0" y="1058.6" font-size="34.9" text-anchor="middle" fill="#111" style="font-weight:bold;letter-spacing:2.74px">****</text>
<line x1="747.0" y1="1064.7" x2="857.8" y2="1064.7" stroke="#111" stroke-width="3" />
<text x="833.5" y="1102.0" font-size="34.9" text-anchor="middle" fill="#111" style="font-weight:bold;letter-spacing:2.74px">****</text>
<line x1="800.0" y1="1109.6" x2="865.8" y2="1109.6" stroke="#111" stroke-width="3" />
<line x1="716.8" y1="1096.0" x2="716.8" y2="1253.8" stroke="#9a9a9e" stroke-width="4.3" />
<line x1="708.2" y1="1252.3" x2="716.8" y2="1252.3" stroke="#9a9a9e" stroke-width="3.8" />
<text x="703.0" y="1259.8" font-size="22" text-anchor="end" fill="#111" style="" >0</text>
<line x1="708.2" y1="1213.5" x2="716.8" y2="1213.5" stroke="#9a9a9e" stroke-width="3.8" />
<text x="703.0" y="1221.0" font-size="22" text-anchor="end" fill="#111" style="" >10</text>
<line x1="708.2" y1="1174.8" x2="716.8" y2="1174.8" stroke="#9a9a9e" stroke-width="3.8" />
<text x="703.0" y="1182.3" font-size="22" text-anchor="end" fill="#111" style="" >20</text>
<line x1="708.2" y1="1136.0" x2="716.8" y2="1136.0" stroke="#9a9a9e" stroke-width="3.8" />
<text x="703.0" y="1143.5" font-size="22" text-anchor="end" fill="#111" style="" >30</text>
<line x1="708.2" y1="1097.3" x2="716.8" y2="1097.3" stroke="#9a9a9e" stroke-width="3.8" />
<text x="703.0" y="1104.8" font-size="22" text-anchor="end" fill="#111" style="" >40</text>
<line x1="708.2" y1="1252.3" x2="890.0" y2="1252.3" stroke="#9a9a9e" stroke-width="3.8" />
<path d="M737.8,1252.3 V1195.0 H769.2 V1252.3" fill="none" stroke="#f3d192" stroke-width="4.8" />
<circle cx="753.5" cy="1176.7" r="5.0" fill="#f0c27a" opacity="0.95"/>
<circle cx="743.6" cy="1192.2" r="5.0" fill="#f0c27a" opacity="0.95"/>
<circle cx="763.4" cy="1194.2" r="5.0" fill="#f0c27a" opacity="0.95"/>
<circle cx="740.3" cy="1198.0" r="5.0" fill="#f0c27a" opacity="0.95"/>
<circle cx="766.7" cy="1200.0" r="5.0" fill="#f0c27a" opacity="0.95"/>
<circle cx="748.0" cy="1201.1" r="5.0" fill="#f0c27a" opacity="0.95"/>
<circle cx="759.0" cy="1192.2" r="5.0" fill="#f0c27a" opacity="0.95"/>
<circle cx="753.5" cy="1196.1" r="5.0" fill="#f0c27a" opacity="0.95"/>
<line x1="744.5" y1="1191.1" x2="762.5" y2="1191.1" stroke="#777" stroke-width="3" />
<line x1="753.5" y1="1191.1" x2="753.5" y2="1198.8" stroke="#777" stroke-width="2.5" />
<line x1="744.5" y1="1198.8" x2="762.5" y2="1198.8" stroke="#777" stroke-width="3" />
<line x1="753.5" y1="1252.3" x2="753.5" y2="1258.3" stroke="#9a9a9e" stroke-width="3" />
<path d="M792.0,1252.3 V1194.2 H823.4 V1252.3" fill="none" stroke="#a6cdf8" stroke-width="4.8" />
<circle cx="807.7" cy="1174.8" r="5.0" fill="#9ac6f6" opacity="0.95"/>
<circle cx="797.8" cy="1186.4" r="5.0" fill="#9ac6f6" opacity="0.95"/>
<circle cx="817.6" cy="1192.2" r="5.0" fill="#9ac6f6" opacity="0.95"/>
<circle cx="794.5" cy="1200.0" r="5.0" fill="#9ac6f6" opacity="0.95"/>
<circle cx="820.9" cy="1209.7" r="5.0" fill="#9ac6f6" opacity="0.95"/>
<circle cx="802.2" cy="1203.9" r="5.0" fill="#9ac6f6" opacity="0.95"/>
<circle cx="813.2" cy="1198.0" r="5.0" fill="#9ac6f6" opacity="0.95"/>
<circle cx="807.7" cy="1192.2" r="5.0" fill="#9ac6f6" opacity="0.95"/>
<line x1="798.7" y1="1188.8" x2="816.7" y2="1188.8" stroke="#777" stroke-width="3" />
<line x1="807.7" y1="1188.8" x2="807.7" y2="1199.6" stroke="#777" stroke-width="2.5" />
<line x1="798.7" y1="1199.6" x2="816.7" y2="1199.6" stroke="#777" stroke-width="3" />
<line x1="807.7" y1="1252.3" x2="807.7" y2="1258.3" stroke="#9a9a9e" stroke-width="3" />
<path d="M845.9,1252.3 V1148.8 H877.3 V1252.3" fill="none" stroke="#dde0f1" stroke-width="4.8" />
<circle cx="861.6" cy="1129.1" r="5.0" fill="#8e96c4" opacity="0.95"/>
<circle cx="851.7" cy="1146.9" r="5.0" fill="#8e96c4" opacity="0.95"/>
<circle cx="871.5" cy="1145.7" r="5.0" fill="#8e96c4" opacity="0.95"/>
<circle cx="848.4" cy="1149.6" r="5.0" fill="#8e96c4" opacity="0.95"/>
<circle cx="874.8" cy="1155.4" r="5.0" fill="#8e96c4" opacity="0.95"/>
<circle cx="856.1" cy="1159.3" r="5.0" fill="#8e96c4" opacity="0.95"/>
<circle cx="867.1" cy="1159.3" r="5.0" fill="#8e96c4" opacity="0.95"/>
<circle cx="861.6" cy="1157.4" r="5.0" fill="#8e96c4" opacity="0.95"/>
<line x1="852.6" y1="1143.8" x2="870.6" y2="1143.8" stroke="#777" stroke-width="3" />
<line x1="861.6" y1="1143.8" x2="861.6" y2="1153.9" stroke="#777" stroke-width="2.5" />
<line x1="852.6" y1="1153.9" x2="870.6" y2="1153.9" stroke="#777" stroke-width="3" />
<line x1="861.6" y1="1252.3" x2="861.6" y2="1258.3" stroke="#9a9a9e" stroke-width="3" />
<text transform="translate(756,1270) rotate(-33)" font-size="21" text-anchor="end" fill="#111" style="font-weight:bold">EAU</text>
<text transform="translate(813,1274) rotate(-33)" font-size="21" text-anchor="end" fill="#111" style="font-weight:bold">EAU+OA</text>
<text transform="translate(868,1273) rotate(-33)" font-size="21" text-anchor="end" fill="#111" style="font-weight:bold">EAU+HDCA</text>
<text transform="translate(667.5,1166) rotate(-90)" font-size="23.7" text-anchor="middle" fill="#111" style="font-weight:bold">Percentage (%)</text>
<rect x="922.6" y="913.0" width="204.0" height="121.0" fill="#ffffff" stroke="#a8a8a8" stroke-width="1.5" />
<path d="M964.6,973 C962.6,953 982.6,941 1012.6,937 C1037.6,933 1052.6,945 1062.6,955 C1072.6,957 1082.6,958 1080.6,968 C1072.6,977 1052.6,983 1032.6,985 C1002.6,987 972.6,987 964.6,979 Z" fill="url(#gG0)" stroke="none" stroke-width="1" filter="url(#blur1)"/>
<ellipse cx="1004.6" cy="950.5" rx="37.0" ry="14.5" fill="none" stroke="#222" stroke-width="1.6" stroke-dasharray="5,1.5,1.5,1.5" transform="rotate(-20 1004.6 950.5)"/>
<text x="1073.6" y="954.0" font-size="21.5" text-anchor="middle" fill="#111" style="font-weight:bold;" >15.2</text>
<line x1="919.6" y1="928.0" x2="922.6" y2="928.0" stroke="#222" stroke-width="1.5" />
<line x1="919.6" y1="952.0" x2="922.6" y2="952.0" stroke="#222" stroke-width="1.5" />
<line x1="919.6" y1="976.0" x2="922.6" y2="976.0" stroke="#222" stroke-width="1.5" />
<line x1="919.6" y1="1000.0" x2="922.6" y2="1000.0" stroke="#222" stroke-width="1.5" />
<line x1="919.6" y1="1024.0" x2="922.6" y2="1024.0" stroke="#222" stroke-width="1.5" />
<line x1="930.6" y1="1034.0" x2="930.6" y2="1037.0" stroke="#222" stroke-width="1.5" />
<line x1="946.6" y1="1034.0" x2="946.6" y2="1037.0" stroke="#222" stroke-width="1.5" />
<line x1="962.6" y1="1034.0" x2="962.6" y2="1037.0" stroke="#222" stroke-width="1.5" />
<line x1="978.6" y1="1034.0" x2="978.6" y2="1037.0" stroke="#222" stroke-width="1.5" />
<line x1="994.6" y1="1034.0" x2="994.6" y2="1037.0" stroke="#222" stroke-width="1.5" />
<line x1="1010.6" y1="1034.0" x2="1010.6" y2="1037.0" stroke="#222" stroke-width="1.5" />
<line x1="1026.6" y1="1034.0" x2="1026.6" y2="1037.0" stroke="#222" stroke-width="1.5" />
<line x1="1042.6" y1="1034.0" x2="1042.6" y2="1037.0" stroke="#222" stroke-width="1.5" />
<line x1="1058.6" y1="1034.0" x2="1058.6" y2="1037.0" stroke="#222" stroke-width="1.5" />
<line x1="1074.6" y1="1034.0" x2="1074.6" y2="1037.0" stroke="#222" stroke-width="1.5" />
<line x1="1090.6" y1="1034.0" x2="1090.6" y2="1037.0" stroke="#222" stroke-width="1.5" />
<line x1="1106.6" y1="1034.0" x2="1106.6" y2="1037.0" stroke="#222" stroke-width="1.5" />
<circle cx="1047.6" cy="943.0" r="1.3" fill="#d08040" />
<circle cx="1054.6" cy="950.0" r="1.3" fill="#d08040" />
<circle cx="1061.6" cy="957.0" r="1.3" fill="#d08040" />
<circle cx="1048.6" cy="964.0" r="1.3" fill="#d08040" />
<circle cx="1055.6" cy="971.0" r="1.3" fill="#d08040" />
<circle cx="1062.6" cy="978.0" r="1.3" fill="#d08040" />
<rect x="922.6" y="1051.0" width="204.0" height="121.0" fill="#ffffff" stroke="#a8a8a8" stroke-width="1.5" />
<path d="M964.6,1111 C962.6,1091 982.6,1079 1012.6,1075 C1037.6,1071 1052.6,1083 1062.6,1093 C1072.6,1095 1082.6,1096 1080.6,1106 C1072.6,1115 1052.6,1121 1032.6,1123 C1002.6,1125 972.6,1125 964.6,1117 Z" fill="url(#gG1)" stroke="none" stroke-width="1" filter="url(#blur1)"/>
<ellipse cx="1004.6" cy="1088.5" rx="37.0" ry="14.5" fill="none" stroke="#222" stroke-width="1.6" stroke-dasharray="5,1.5,1.5,1.5" transform="rotate(-20 1004.6 1088.5)"/>
<text x="1073.6" y="1092.0" font-size="21.5" text-anchor="middle" fill="#111" style="font-weight:bold;" >15.1</text>
<line x1="919.6" y1="1066.0" x2="922.6" y2="1066.0" stroke="#222" stroke-width="1.5" />
<line x1="919.6" y1="1090.0" x2="922.6" y2="1090.0" stroke="#222" stroke-width="1.5" />
<line x1="919.6" y1="1114.0" x2="922.6" y2="1114.0" stroke="#222" stroke-width="1.5" />
<line x1="919.6" y1="1138.0" x2="922.6" y2="1138.0" stroke="#222" stroke-width="1.5" />
<line x1="919.6" y1="1162.0" x2="922.6" y2="1162.0" stroke="#222" stroke-width="1.5" />
<line x1="930.6" y1="1172.0" x2="930.6" y2="1175.0" stroke="#222" stroke-width="1.5" />
<line x1="946.6" y1="1172.0" x2="946.6" y2="1175.0" stroke="#222" stroke-width="1.5" />
<line x1="962.6" y1="1172.0" x2="962.6" y2="1175.0" stroke="#222" stroke-width="1.5" />
<line x1="978.6" y1="1172.0" x2="978.6" y2="1175.0" stroke="#222" stroke-width="1.5" />
<line x1="994.6" y1="1172.0" x2="994.6" y2="1175.0" stroke="#222" stroke-width="1.5" />
<line x1="1010.6" y1="1172.0" x2="1010.6" y2="1175.0" stroke="#222" stroke-width="1.5" />
<line x1="1026.6" y1="1172.0" x2="1026.6" y2="1175.0" stroke="#222" stroke-width="1.5" />
<line x1="1042.6" y1="1172.0" x2="1042.6" y2="1175.0" stroke="#222" stroke-width="1.5" />
<line x1="1058.6" y1="1172.0" x2="1058.6" y2="1175.0" stroke="#222" stroke-width="1.5" />
<line x1="1074.6" y1="1172.0" x2="1074.6" y2="1175.0" stroke="#222" stroke-width="1.5" />
<line x1="1090.6" y1="1172.0" x2="1090.6" y2="1175.0" stroke="#222" stroke-width="1.5" />
<line x1="1106.6" y1="1172.0" x2="1106.6" y2="1175.0" stroke="#222" stroke-width="1.5" />
<circle cx="1047.6" cy="1081.0" r="1.3" fill="#3070d0" />
<circle cx="1054.6" cy="1088.0" r="1.3" fill="#3070d0" />
<circle cx="1061.6" cy="1095.0" r="1.3" fill="#3070d0" />
<circle cx="1048.6" cy="1102.0" r="1.3" fill="#3070d0" />
<circle cx="1055.6" cy="1109.0" r="1.3" fill="#3070d0" />
<circle cx="1062.6" cy="1116.0" r="1.3" fill="#3070d0" />
<rect x="922.6" y="1189.0" width="204.0" height="122.0" fill="#ffffff" stroke="#a8a8a8" stroke-width="1.5" />
<path d="M964.6,1249 C962.6,1229 982.6,1217 1012.6,1213 C1037.6,1209 1052.6,1221 1062.6,1231 C1072.6,1233 1082.6,1234 1080.6,1244 C1072.6,1253 1052.6,1259 1032.6,1261 C1002.6,1263 972.6,1263 964.6,1255 Z" fill="url(#gG2)" stroke="none" stroke-width="1" filter="url(#blur1)"/>
<ellipse cx="1004.6" cy="1226.5" rx="37.0" ry="14.5" fill="none" stroke="#222" stroke-width="1.6" stroke-dasharray="5,1.5,1.5,1.5" transform="rotate(-20 1004.6 1226.5)"/>
<text x="1073.6" y="1230.0" font-size="21.5" text-anchor="middle" fill="#111" style="font-weight:bold;" >27.4</text>
<line x1="919.6" y1="1204.0" x2="922.6" y2="1204.0" stroke="#222" stroke-width="1.5" />
<line x1="919.6" y1="1228.0" x2="922.6" y2="1228.0" stroke="#222" stroke-width="1.5" />
<line x1="919.6" y1="1252.0" x2="922.6" y2="1252.0" stroke="#222" stroke-width="1.5" />
<line x1="919.6" y1="1276.0" x2="922.6" y2="1276.0" stroke="#222" stroke-width="1.5" />
<line x1="919.6" y1="1300.0" x2="922.6" y2="1300.0" stroke="#222" stroke-width="1.5" />
<line x1="930.6" y1="1311.0" x2="930.6" y2="1314.0" stroke="#222" stroke-width="1.5" />
<line x1="946.6" y1="1311.0" x2="946.6" y2="1314.0" stroke="#222" stroke-width="1.5" />
<line x1="962.6" y1="1311.0" x2="962.6" y2="1314.0" stroke="#222" stroke-width="1.5" />
<line x1="978.6" y1="1311.0" x2="978.6" y2="1314.0" stroke="#222" stroke-width="1.5" />
<line x1="994.6" y1="1311.0" x2="994.6" y2="1314.0" stroke="#222" stroke-width="1.5" />
<line x1="1010.6" y1="1311.0" x2="1010.6" y2="1314.0" stroke="#222" stroke-width="1.5" />
<line x1="1026.6" y1="1311.0" x2="1026.6" y2="1314.0" stroke="#222" stroke-width="1.5" />
<line x1="1042.6" y1="1311.0" x2="1042.6" y2="1314.0" stroke="#222" stroke-width="1.5" />
<line x1="1058.6" y1="1311.0" x2="1058.6" y2="1314.0" stroke="#222" stroke-width="1.5" />
<line x1="1074.6" y1="1311.0" x2="1074.6" y2="1314.0" stroke="#222" stroke-width="1.5" />
<line x1="1090.6" y1="1311.0" x2="1090.6" y2="1314.0" stroke="#222" stroke-width="1.5" />
<line x1="1106.6" y1="1311.0" x2="1106.6" y2="1314.0" stroke="#222" stroke-width="1.5" />
<circle cx="1047.6" cy="1219.0" r="1.3" fill="#2020e0" />
<circle cx="1054.6" cy="1226.0" r="1.3" fill="#2020e0" />
<circle cx="1061.6" cy="1233.0" r="1.3" fill="#2020e0" />
<circle cx="1048.6" cy="1240.0" r="1.3" fill="#2020e0" />
<circle cx="1055.6" cy="1247.0" r="1.3" fill="#2020e0" />
<circle cx="1062.6" cy="1254.0" r="1.3" fill="#2020e0" />
<line x1="915.5" y1="1317.0" x2="915.5" y2="1245.0" stroke="#111" stroke-width="4" />
<path d="M908,1248 L915.5,1229 L923,1248 Z" fill="#111" stroke="none" stroke-width="1" />
<line x1="913.5" y1="1317.0" x2="1010.0" y2="1317.0" stroke="#111" stroke-width="4" />
<path d="M1008,1309 L1028,1317 L1008,1325 Z" fill="#111" stroke="none" stroke-width="1" />
<text transform="translate(909,1270) rotate(-90)" font-size="23.6" text-anchor="middle" fill="#111" style="font-weight:bold">F4/80</text>
<text x="911.7" y="1342.8" font-size="24.2" text-anchor="start" fill="#111" style="font-weight:bold;" >CD11b</text>
<text x="822.4" y="1442.4" font-size="29" text-anchor="start" fill="#111" style="font-weight:bold;" >H</text>
<text x="1060.0" y="1480.6" font-size="27.2" text-anchor="middle" fill="#111" style="font-weight:bold;" >Clinical scores</text>
<line x1="899.5" y1="1513.0" x2="899.5" y2="1691.3" stroke="#9a9a9e" stroke-width="5.5" />
<line x1="890.5" y1="1689.3" x2="899.5" y2="1689.3" stroke="#9a9a9e" stroke-width="4.5" />
<text x="884.0" y="1697.8" font-size="25" text-anchor="end" fill="#111" style="" >0</text>
<line x1="890.5" y1="1654.4" x2="899.5" y2="1654.4" stroke="#9a9a9e" stroke-width="4.5" />
<text x="884.0" y="1662.9" font-size="25" text-anchor="end" fill="#111" style="" >1</text>
<line x1="890.5" y1="1619.6" x2="899.5" y2="1619.6" stroke="#9a9a9e" stroke-width="4.5" />
<text x="884.0" y="1628.1" font-size="25" text-anchor="end" fill="#111" style="" >2</text>
<line x1="890.5" y1="1584.7" x2="899.5" y2="1584.7" stroke="#9a9a9e" stroke-width="4.5" />
<text x="884.0" y="1593.2" font-size="25" text-anchor="end" fill="#111" style="" >3</text>
<line x1="890.5" y1="1549.9" x2="899.5" y2="1549.9" stroke="#9a9a9e" stroke-width="4.5" />
<text x="884.0" y="1558.4" font-size="25" text-anchor="end" fill="#111" style="" >4</text>
<line x1="890.5" y1="1515.0" x2="899.5" y2="1515.0" stroke="#9a9a9e" stroke-width="4.5" />
<text x="884.0" y="1523.5" font-size="25" text-anchor="end" fill="#111" style="" >5</text>
<line x1="890.5" y1="1689.3" x2="1232.8" y2="1689.3" stroke="#9a9a9e" stroke-width="5" />
<line x1="925.5" y1="1689.3" x2="925.5" y2="1696.3" stroke="#9a9a9e" stroke-width="3.5" />
<text x="925.5" y="1727.5" font-size="24.7" text-anchor="middle" fill="#111" style="font-weight:bold;" >0</text>
<line x1="965.1" y1="1689.3" x2="965.1" y2="1696.3" stroke="#9a9a9e" stroke-width="3.5" />
<text x="965.1" y="1727.5" font-size="24.7" text-anchor="middle" fill="#111" style="font-weight:bold;" >2</text>
<line x1="1004.8" y1="1689.3" x2="1004.8" y2="1696.3" stroke="#9a9a9e" stroke-width="3.5" />
<text x="1004.8" y="1727.5" font-size="24.7" text-anchor="middle" fill="#111" style="font-weight:bold;" >4</text>
<line x1="1044.4" y1="1689.3" x2="1044.4" y2="1696.3" stroke="#9a9a9e" stroke-width="3.5" />
<text x="1044.4" y="1727.5" font-size="24.7" text-anchor="middle" fill="#111" style="font-weight:bold;" >6</text>
<line x1="1084.1" y1="1689.3" x2="1084.1" y2="1696.3" stroke="#9a9a9e" stroke-width="3.5" />
<text x="1084.1" y="1727.5" font-size="24.7" text-anchor="middle" fill="#111" style="font-weight:bold;" >8</text>
<line x1="1123.7" y1="1689.3" x2="1123.7" y2="1696.3" stroke="#9a9a9e" stroke-width="3.5" />
<text x="1123.7" y="1727.5" font-size="24.7" text-anchor="middle" fill="#111" style="font-weight:bold;" >10</text>
<line x1="1163.4" y1="1689.3" x2="1163.4" y2="1696.3" stroke="#9a9a9e" stroke-width="3.5" />
<text x="1163.4" y="1727.5" font-size="24.7" text-anchor="middle" fill="#111" style="font-weight:bold;" >12</text>
<line x1="1203.0" y1="1689.3" x2="1203.0" y2="1696.3" stroke="#9a9a9e" stroke-width="3.5" />
<text x="1203.0" y="1727.5" font-size="24.7" text-anchor="middle" fill="#111" style="font-weight:bold;" >14</text>
<text x="1055.9" y="1751.7" font-size="28" text-anchor="middle" fill="#111" style="font-weight:bold;" >Days</text>
<text transform="translate(858,1601) rotate(-90)" font-size="25" text-anchor="middle" fill="#111" style="font-weight:bold">Clinical Scores</text>
<rect x="989.8" y="1665.1" width="30.0" height="9.0" fill="#6e6e6e" stroke="none" stroke-width="1" />
<rect x="1029.4" y="1642.5" width="30.0" height="9.0" fill="#6e6e6e" stroke="none" stroke-width="1" />
<rect x="1069.1" y="1619.8" width="30.0" height="9.0" fill="#6e6e6e" stroke="none" stroke-width="1" />
<rect x="1069.1" y="1650.5" width="30.0" height="9.0" fill="#6e6e6e" stroke="none" stroke-width="1" />
<rect x="1108.7" y="1609.4" width="30.0" height="9.0" fill="#6e6e6e" stroke="none" stroke-width="1" />
<rect x="1108.7" y="1607.6" width="30.0" height="9.0" fill="#6e6e6e" stroke="none" stroke-width="1" />
<rect x="1108.7" y="1633.8" width="30.0" height="9.0" fill="#6e6e6e" stroke="none" stroke-width="1" />
<rect x="1148.4" y="1565.1" width="30.0" height="9.0" fill="#6e6e6e" stroke="none" stroke-width="1" />
<rect x="1148.4" y="1605.9" width="30.0" height="9.0" fill="#6e6e6e" stroke="none" stroke-width="1" />
<rect x="1148.4" y="1615.6" width="30.0" height="9.0" fill="#6e6e6e" stroke="none" stroke-width="1" />
<rect x="1188.0" y="1550.1" width="30.0" height="9.0" fill="#6e6e6e" stroke="none" stroke-width="1" />
<rect x="1188.0" y="1589.5" width="30.0" height="9.0" fill="#6e6e6e" stroke="none" stroke-width="1" />
<rect x="1188.0" y="1606.9" width="30.0" height="9.0" fill="#6e6e6e" stroke="none" stroke-width="1" />
<polyline points="925.5,1689.3 965.1,1689.3 1004.8,1689.3 1044.4,1689.3 1084.1,1665.6 1123.7,1648.5 1163.4,1631.8 1203.0,1626.6" fill="none" stroke="#b3b6d3" stroke-width="4"/>
<circle cx="925.5" cy="1689.3" r="7.0" fill="#b3b6d3" />
<circle cx="965.1" cy="1689.3" r="7.0" fill="#b3b6d3" />
<circle cx="1004.8" cy="1689.3" r="7.0" fill="#b3b6d3" />
<circle cx="1044.4" cy="1689.3" r="7.0" fill="#b3b6d3" />
<circle cx="1084.1" cy="1665.6" r="7.0" fill="#b3b6d3" />
<circle cx="1123.7" cy="1648.5" r="7.0" fill="#b3b6d3" />
<circle cx="1163.4" cy="1631.8" r="7.0" fill="#b3b6d3" />
<circle cx="1203.0" cy="1626.6" r="7.0" fill="#b3b6d3" />
<polyline points="925.5,1689.3 965.1,1689.3 1004.8,1677.1 1044.4,1654.4 1084.1,1630.0 1123.7,1619.6 1163.4,1612.6 1203.0,1600.4" fill="none" stroke="#9cc6f4" stroke-width="4"/>
<circle cx="925.5" cy="1689.3" r="7.0" fill="#9cc6f4" />
<circle cx="965.1" cy="1689.3" r="7.0" fill="#9cc6f4" />
<circle cx="1004.8" cy="1677.1" r="7.0" fill="#9cc6f4" />
<circle cx="1044.4" cy="1654.4" r="7.0" fill="#9cc6f4" />
<circle cx="1084.1" cy="1630.0" r="7.0" fill="#9cc6f4" />
<circle cx="1123.7" cy="1619.6" r="7.0" fill="#9cc6f4" />
<circle cx="1163.4" cy="1612.6" r="7.0" fill="#9cc6f4" />
<circle cx="1203.0" cy="1600.4" r="7.0" fill="#9cc6f4" />
<polyline points="925.5,1689.3 965.1,1689.3 1004.8,1677.1 1044.4,1654.4 1084.1,1637.0 1123.7,1626.6 1163.4,1579.5 1203.0,1562.1" fill="none" stroke="#f3c98c" stroke-width="4"/>
<circle cx="925.5" cy="1689.3" r="7.0" fill="#f3c98c" />
<circle cx="965.1" cy="1689.3" r="7.0" fill="#f3c98c" />
<circle cx="1004.8" cy="1677.1" r="7.0" fill="#f3c98c" />
<circle cx="1044.4" cy="1654.4" r="7.0" fill="#f3c98c" />
<circle cx="1084.1" cy="1637.0" r="7.0" fill="#f3c98c" />
<circle cx="1123.7" cy="1626.6" r="7.0" fill="#f3c98c" />
<circle cx="1163.4" cy="1579.5" r="7.0" fill="#f3c98c" />
<circle cx="1203.0" cy="1562.1" r="7.0" fill="#f3c98c" />
<circle cx="923.5" cy="1515.0" r="8.0" fill="#f3c98c" />
<text x="940.0" y="1524.0" font-size="24" text-anchor="start" fill="#111" style="font-weight:bold;" >EAU</text>
<circle cx="923.5" cy="1557.0" r="8.0" fill="#9cc6f4" />
<text x="940.0" y="1566.0" font-size="24" text-anchor="start" fill="#111" style="font-weight:bold;" >EAU + OA</text>
<circle cx="923.5" cy="1599.0" r="8.0" fill="#b3b6d3" />
<text x="940.0" y="1608.0" font-size="24" text-anchor="start" fill="#111" style="font-weight:bold;" >EAU + HDCA</text>
<line x1="1223.9" y1="1557.0" x2="1223.9" y2="1599.0" stroke="#111" stroke-width="5" />
<text transform="translate(1237.0,1576.0) rotate(90)" x="2.1" y="20.3" font-size="40.5" text-anchor="middle" fill="#111" style="font-weight:bold;letter-spacing:4.23px">**</text>
<line x1="1258.0" y1="1535.0" x2="1258.0" y2="1619.3" stroke="#111" stroke-width="5" />
<text transform="translate(1273.5,1576.0) rotate(90)" x="2.1" y="20.3" font-size="40.5" text-anchor="middle" fill="#111" style="font-weight:bold;letter-spacing:4.23px">**</text>
<text x="1538.6" y="911.5" font-size="21.8" text-anchor="middle" fill="#111" style="font-weight:bold;" >Histological scores</text>
<text x="1381.8" y="929.0" font-size="29" text-anchor="start" fill="#111" style="font-weight:bold;" >I</text>
<text x="1545.0" y="941.3" font-size="33.8" text-anchor="middle" fill="#111" style="font-weight:bold;letter-spacing:2.36px">**</text>
<line x1="1489.3" y1="947.0" x2="1598.3" y2="947.0" stroke="#111" stroke-width="3" />
<text x="1515.0" y="980.9" font-size="33.8" text-anchor="middle" fill="#111" style="font-weight:bold;letter-spacing:2.36px">**</text>
<line x1="1486.4" y1="987.7" x2="1541.6" y2="987.7" stroke="#111" stroke-width="3" />
<text x="1571.5" y="993.3" font-size="20" text-anchor="middle" fill="#111" style="font-weight:bold;" >0.10</text>
<line x1="1543.0" y1="1011.0" x2="1600.0" y2="1011.0" stroke="#111" stroke-width="3" />
<line x1="1444.6" y1="975.0" x2="1444.6" y2="1089.2" stroke="#9a9a9e" stroke-width="3.5" />
<line x1="1438.6" y1="1087.7" x2="1444.6" y2="1087.7" stroke="#9a9a9e" stroke-width="3.5" />
<text x="1435.0" y="1094.7" font-size="20.5" text-anchor="end" fill="#111" style="font-weight:bold;" >0</text>
<line x1="1438.6" y1="1059.9" x2="1444.6" y2="1059.9" stroke="#9a9a9e" stroke-width="3.5" />
<text x="1435.0" y="1066.9" font-size="20.5" text-anchor="end" fill="#111" style="font-weight:bold;" >1</text>
<line x1="1438.6" y1="1032.1" x2="1444.6" y2="1032.1" stroke="#9a9a9e" stroke-width="3.5" />
<text x="1435.0" y="1039.1" font-size="20.5" text-anchor="end" fill="#111" style="font-weight:bold;" >2</text>
<line x1="1438.6" y1="1004.3" x2="1444.6" y2="1004.3" stroke="#9a9a9e" stroke-width="3.5" />
<text x="1435.0" y="1011.3" font-size="20.5" text-anchor="end" fill="#111" style="font-weight:bold;" >3</text>
<line x1="1438.6" y1="976.5" x2="1444.6" y2="976.5" stroke="#9a9a9e" stroke-width="3.5" />
<text x="1435.0" y="983.5" font-size="20.5" text-anchor="end" fill="#111" style="font-weight:bold;" >4</text>
<line x1="1443.1" y1="1087.7" x2="1642.4" y2="1087.7" stroke="#9a9a9e" stroke-width="3.5" />
<text transform="translate(1411,1028) rotate(-90)" font-size="23" text-anchor="middle" fill="#111" style="font-weight:bold">Score</text>
<path d="M1466.4,1087.7 V1014.9 H1500.4 V1087.7" fill="none" stroke="#f3c98c" stroke-width="4.5" />
<circle cx="1471.4" cy="1004.3" r="7.5" fill="#f3c98c" />
<circle cx="1479.4" cy="1004.3" r="7.5" fill="#f3c98c" />
<circle cx="1487.4" cy="1004.3" r="7.5" fill="#f3c98c" />
<circle cx="1495.4" cy="1004.3" r="7.5" fill="#f3c98c" />
<circle cx="1475.4" cy="1032.1" r="7.5" fill="#f3c98c" />
<circle cx="1491.4" cy="1032.1" r="7.5" fill="#f3c98c" />
<line x1="1483.4" y1="1003.7" x2="1483.4" y2="1026.0" stroke="#8a8a90" stroke-width="3" />
<line x1="1475.4" y1="1003.7" x2="1491.4" y2="1003.7" stroke="#8a8a90" stroke-width="3" />
<line x1="1475.4" y1="1026.0" x2="1491.4" y2="1026.0" stroke="#8a8a90" stroke-width="3" />
<line x1="1483.4" y1="1087.7" x2="1483.4" y2="1094.7" stroke="#9a9a9e" stroke-width="3" />
<path d="M1525.4,1087.7 V1041.8 H1559.4 V1087.7" fill="none" stroke="#9fc8f5" stroke-width="4.5" />
<circle cx="1530.4" cy="1032.1" r="7.5" fill="#9fc8f5" />
<circle cx="1538.4" cy="1032.1" r="7.5" fill="#9fc8f5" />
<circle cx="1546.4" cy="1032.1" r="7.5" fill="#9fc8f5" />
<circle cx="1554.4" cy="1059.9" r="7.5" fill="#9fc8f5" />
<circle cx="1534.4" cy="1059.9" r="7.5" fill="#9fc8f5" />
<circle cx="1550.4" cy="1032.1" r="7.5" fill="#9fc8f5" />
<line x1="1542.4" y1="1030.7" x2="1542.4" y2="1053.0" stroke="#8a8a90" stroke-width="3" />
<line x1="1534.4" y1="1030.7" x2="1550.4" y2="1030.7" stroke="#8a8a90" stroke-width="3" />
<line x1="1534.4" y1="1053.0" x2="1550.4" y2="1053.0" stroke="#8a8a90" stroke-width="3" />
<line x1="1542.4" y1="1087.7" x2="1542.4" y2="1094.7" stroke="#9a9a9e" stroke-width="3" />
<path d="M1583.7,1087.7 V1057.1 H1617.7 V1087.7" fill="none" stroke="#b4b7d3" stroke-width="4.5" />
<circle cx="1588.7" cy="1032.1" r="7.5" fill="#b4b7d3" />
<circle cx="1596.7" cy="1059.9" r="7.5" fill="#b4b7d3" />
<circle cx="1604.7" cy="1059.9" r="7.5" fill="#b4b7d3" />
<circle cx="1612.7" cy="1059.9" r="7.5" fill="#b4b7d3" />
<circle cx="1592.7" cy="1087.7" r="7.5" fill="#b4b7d3" />
<circle cx="1608.7" cy="1032.1" r="7.5" fill="#b4b7d3" />
<line x1="1600.7" y1="1037.7" x2="1600.7" y2="1076.6" stroke="#8a8a90" stroke-width="3" />
<line x1="1592.7" y1="1037.7" x2="1608.7" y2="1037.7" stroke="#8a8a90" stroke-width="3" />
<line x1="1592.7" y1="1076.6" x2="1608.7" y2="1076.6" stroke="#8a8a90" stroke-width="3" />
<line x1="1600.7" y1="1087.7" x2="1600.7" y2="1094.7" stroke="#9a9a9e" stroke-width="3" />
<circle cx="1724.5" cy="983.0" r="6.5" fill="#f3c98c" />
<text x="1739.4" y="990.6" font-size="20" text-anchor="start" fill="#111" style="font-weight:bold;" >EAU</text>
<circle cx="1724.5" cy="1018.5" r="6.5" fill="#9fc8f5" />
<text x="1739.4" y="1026.1" font-size="20" text-anchor="start" fill="#111" style="font-weight:bold;" >EAU + OA</text>
<circle cx="1724.5" cy="1054.0" r="6.5" fill="#b4b7d3" />
<text x="1739.4" y="1061.6" font-size="20" text-anchor="start" fill="#111" style="font-weight:bold;" >EAU + HDCA</text>
<text x="1251.0" y="1093.0" font-size="29" text-anchor="start" fill="#111" style="font-weight:bold;" >J</text>
<text x="1288.5" y="1106.4" font-size="26.5" text-anchor="start" fill="#111" style="font-weight:bold;" >EAU</text>
<text x="1288.5" y="1358.0" font-size="26.8" text-anchor="start" fill="#111" style="font-weight:bold;" >EAU + OA</text>
<text x="1288.5" y="1605.8" font-size="26.8" text-anchor="start" fill="#111" style="font-weight:bold;" >EAU + HDCA</text>
<rect x="1284.4" y="1111.9" width="641.6" height="221.6" fill="#f0c58e" stroke="none" stroke-width="1" rx="3"/>
<rect x="1292.4" y="1119.9" width="208.6" height="205.6" fill="#ffffff" stroke="none" stroke-width="1" />
<rect x="1509.9" y="1119.9" width="408.1" height="205.6" fill="#ffffff" stroke="none" stroke-width="1" />
<clipPath id="cjl1"><rect x="1292.4" y="1119.9" width="208.6" height="205.6"/></clipPath><g clip-path="url(#cjl1)">
<path d="M1318.0,1215.0 C1315.0,1215.0 1312.0,1238.3 1312.0,1250.0 C1312.0,1261.7 1313.3,1275.8 1318.0,1285.0 C1322.7,1294.2 1329.7,1299.5 1340.0,1305.0 C1350.3,1310.5 1366.7,1314.5 1380.0,1318.0 C1393.3,1321.5 1406.7,1324.7 1420.0,1326.0 C1433.3,1327.3 1453.0,1329.0 1460.0,1326.0 C1467.0,1323.0 1467.0,1312.3 1462.0,1308.0 C1457.0,1303.7 1442.0,1302.0 1430.0,1300.0 C1418.0,1298.0 1403.3,1298.5 1390.0,1296.0 C1376.7,1293.5 1360.0,1292.7 1350.0,1285.0 C1340.0,1277.3 1335.3,1261.7 1330.0,1250.0 C1324.7,1238.3 1321.0,1215.0 1318.0,1215.0 Z" fill="#f5c4da" stroke="none" stroke-width="1" filter="url(#spW)"/>
<path d="M1412.0,1302.0 C1415.3,1298.8 1427.7,1298.5 1435.0,1299.0 C1442.3,1299.5 1451.8,1301.8 1456.0,1305.0 C1460.2,1308.2 1462.7,1314.7 1460.0,1318.0 C1457.3,1321.3 1447.5,1325.0 1440.0,1325.0 C1432.5,1325.0 1419.7,1321.8 1415.0,1318.0 C1410.3,1314.2 1408.7,1305.2 1412.0,1302.0 Z" fill="#e8607e" stroke="none" stroke-width="1" opacity="0.85"/>
<path d="M1321.3,1217.7 C1323.8,1209.4 1330.8,1190.2 1336.4,1180.2 C1342.1,1170.2 1347.9,1163.5 1355.2,1157.6 C1362.5,1151.7 1371.9,1147.9 1380.2,1145.0 C1388.5,1142.1 1398.0,1141.0 1405.3,1140.0 C1412.6,1139.0 1417.8,1137.8 1424.0,1138.8 C1430.2,1139.8 1438.8,1143.2 1442.8,1146.3 C1446.8,1149.4 1447.7,1152.8 1447.9,1157.6 C1448.1,1162.4 1442.1,1166.4 1444.0,1175.0 C1445.9,1183.6 1454.1,1200.6 1459.1,1209.0 C1464.1,1217.4 1468.5,1221.3 1474.2,1225.3 C1479.9,1229.3 1489.2,1229.9 1493.0,1232.8 C1496.8,1235.7 1497.8,1237.0 1496.7,1242.8 C1495.7,1248.6 1491.5,1259.9 1486.7,1267.8 C1481.9,1275.7 1475.2,1285.6 1467.9,1290.4 C1460.6,1295.2 1450.1,1295.0 1442.8,1296.7 C1435.5,1298.4 1432.3,1300.6 1424.0,1300.4 C1415.7,1300.2 1403.1,1297.1 1392.7,1295.4 C1382.3,1293.7 1370.2,1295.0 1361.4,1290.4 C1352.6,1285.8 1345.7,1274.7 1340.1,1267.8 C1334.5,1260.9 1330.7,1255.2 1327.6,1249.0 C1324.5,1242.8 1322.3,1235.5 1321.3,1230.3 C1320.2,1225.1 1318.8,1226.0 1321.3,1217.7 Z" fill="none" stroke="#eaa2d8" stroke-width="3" />
<path d="M1326.3,1217.8 C1328.7,1210.0 1335.2,1192.0 1340.5,1182.6 C1345.8,1173.2 1351.3,1166.9 1358.2,1161.3 C1365.1,1155.8 1373.8,1152.3 1381.7,1149.5 C1389.5,1146.7 1398.4,1145.8 1405.3,1144.8 C1412.1,1143.8 1417.0,1142.7 1422.9,1143.7 C1428.7,1144.7 1436.8,1147.8 1440.5,1150.7 C1444.3,1153.7 1445.1,1156.8 1445.3,1161.3 C1445.5,1165.8 1439.9,1169.6 1441.7,1177.7 C1443.4,1185.8 1451.1,1201.8 1455.9,1209.7 C1460.6,1217.5 1464.7,1221.3 1470.0,1225.0 C1475.4,1228.7 1484.2,1229.3 1487.7,1232.0 C1491.2,1234.8 1492.2,1235.9 1491.2,1241.4 C1490.2,1246.9 1486.3,1257.5 1481.8,1264.9 C1477.3,1272.4 1471.0,1281.6 1464.1,1286.2 C1457.2,1290.7 1447.4,1290.5 1440.5,1292.1 C1433.7,1293.7 1430.7,1295.8 1422.9,1295.6 C1415.0,1295.4 1403.2,1292.4 1393.4,1290.9 C1383.6,1289.3 1372.3,1290.5 1364.0,1286.2 C1355.8,1281.9 1349.3,1271.4 1344.0,1264.9 C1338.7,1258.4 1335.2,1253.1 1332.2,1247.3 C1329.3,1241.4 1327.3,1234.6 1326.3,1229.7 C1325.3,1224.8 1324.0,1225.7 1326.3,1217.8 Z" fill="none" stroke="#3c2026" stroke-width="1.6" />
<path d="M1330.0,1230.0 C1330.5,1224.2 1329.7,1205.8 1333.0,1195.0 C1336.3,1184.2 1342.5,1172.5 1350.0,1165.0 C1357.5,1157.5 1368.0,1153.2 1378.0,1150.0 C1388.0,1146.8 1404.7,1146.7 1410.0,1146.0" fill="none" stroke="#6c58b4" stroke-width="3.5" />
<path d="M1342.0,1250.0 C1345.0,1254.2 1352.0,1268.3 1360.0,1275.0 C1368.0,1281.7 1379.2,1286.8 1390.0,1290.0 C1400.8,1293.2 1419.2,1293.3 1425.0,1294.0" fill="none" stroke="#6c58b4" stroke-width="3.2" />
<path d="M1326.0,1232.0 C1326.3,1229.3 1334.8,1225.3 1338.0,1226.0 C1341.2,1226.7 1345.3,1233.3 1345.0,1236.0 C1344.7,1238.7 1339.2,1242.7 1336.0,1242.0 C1332.8,1241.3 1325.7,1234.7 1326.0,1232.0 Z" fill="#e78ed0" stroke="none" stroke-width="1" />
<ellipse cx="1409.0" cy="1221.5" rx="52.3" ry="57.6" fill="url(#glens1)" />
<ellipse cx="1400.0" cy="1225.0" rx="20.0" ry="16.0" fill="#eab0e2" opacity="0.6"/>
<rect x="1323.8" y="1263.5" width="97.7" height="50.7" fill="none" stroke="#eea64e" stroke-width="2.4" stroke-dasharray="7,6"/>
<line x1="1421.5" y1="1263.5" x2="1496.7" y2="1130.0" stroke="#eea64e" stroke-width="2.4" stroke-dasharray="8,7"/>
<line x1="1421.5" y1="1314.2" x2="1496.7" y2="1323.6" stroke="#eea64e" stroke-width="2.4" stroke-dasharray="8,7"/>
</g>
<clipPath id="cj1"><rect x="1509.9" y="1119.9" width="408.1" height="205.6"/></clipPath><g clip-path="url(#cj1)">
<path d="M1600.0,1110.0 C1603.8,1111.9 1613.7,1116.8 1622.6,1121.4 C1631.5,1126.0 1640.9,1131.0 1653.3,1137.8 C1665.7,1144.5 1682.5,1154.9 1697.0,1161.9 C1711.5,1168.9 1725.4,1174.5 1740.0,1180.0 C1754.6,1185.5 1769.9,1191.1 1784.6,1194.8 C1799.3,1198.5 1813.8,1201.5 1828.4,1202.0 C1843.0,1202.5 1855.3,1200.7 1872.2,1198.0 C1889.1,1195.3 1920.4,1188.0 1930.0,1186.0 L1930,1110 Z" fill="#e97fca" stroke="none" stroke-width="1" />
<path d="M1700.0,1123.0 C1717.5,1124.5 1770.0,1131.5 1805.0,1132.0 C1840.0,1132.5 1892.5,1127.0 1910.0,1126.0" fill="none" stroke="#f2a6dc" stroke-width="1.6" stroke-dasharray="3,4" opacity="0.8"/>
<path d="M1720.0,1136.0 C1735.0,1137.3 1780.0,1143.7 1810.0,1144.0 C1840.0,1144.3 1885.0,1139.0 1900.0,1138.0" fill="none" stroke="#f2a6dc" stroke-width="1.6" stroke-dasharray="3,4" opacity="0.8"/>
<path d="M1750.0,1149.5 C1762.9,1150.6 1801.7,1155.9 1827.5,1156.0 C1853.3,1156.1 1892.1,1151.0 1905.0,1150.0" fill="none" stroke="#f2a6dc" stroke-width="1.6" stroke-dasharray="3,4" opacity="0.8"/>
<path d="M1770.0,1162.5 C1780.0,1163.4 1810.0,1168.1 1830.0,1168.0 C1850.0,1167.9 1880.0,1163.0 1890.0,1162.0" fill="none" stroke="#f2a6dc" stroke-width="1.6" stroke-dasharray="3,4" opacity="0.8"/>
<path d="M1800.0,1176.0 C1806.7,1176.7 1826.7,1180.3 1840.0,1180.0 C1853.3,1179.7 1873.3,1175.0 1880.0,1174.0" fill="none" stroke="#f2a6dc" stroke-width="1.6" stroke-dasharray="3,4" opacity="0.8"/>
<path d="M1740.0,1178.0 C1747.4,1180.3 1769.9,1188.5 1784.6,1192.0 C1799.3,1195.5 1813.8,1198.5 1828.4,1199.0 C1843.0,1199.5 1855.3,1197.5 1872.2,1195.0 C1889.1,1192.5 1920.4,1185.8 1930.0,1184.0" fill="none" stroke="#f2a8dc" stroke-width="5" />
<path d="M1505.0,1222.0 C1510.8,1225.2 1528.3,1235.2 1540.0,1241.0 C1551.7,1246.8 1563.3,1252.2 1575.0,1257.0 C1586.7,1261.8 1598.3,1266.2 1610.0,1270.0 C1621.7,1273.8 1633.3,1277.8 1645.0,1280.0 C1656.7,1282.2 1667.5,1284.2 1680.0,1283.0 C1692.5,1281.8 1706.7,1274.3 1720.0,1273.0 C1733.3,1271.7 1746.7,1269.5 1760.0,1275.0 C1773.3,1280.5 1786.7,1297.3 1800.0,1306.0 C1813.3,1314.7 1826.7,1323.0 1840.0,1327.0 C1853.3,1331.0 1865.8,1333.5 1880.0,1330.0 C1894.2,1326.5 1917.5,1310.0 1925.0,1306.0 L1925.0,1340.0 C1917.5,1340.0 1894.2,1340.0 1880.0,1340.0 C1865.8,1340.0 1853.3,1340.0 1840.0,1340.0 C1826.7,1340.0 1813.3,1340.0 1800.0,1340.0 C1786.7,1340.0 1773.3,1340.0 1760.0,1340.0 C1746.7,1340.0 1733.3,1340.0 1720.0,1340.0 C1706.7,1340.0 1692.5,1340.0 1680.0,1340.0 C1667.5,1340.0 1656.7,1340.0 1645.0,1340.0 C1633.3,1340.0 1621.7,1340.0 1610.0,1340.0 C1598.3,1340.0 1586.7,1340.0 1575.0,1340.0 C1563.3,1340.0 1551.7,1340.0 1540.0,1340.0 C1528.3,1340.0 1510.8,1340.0 1505.0,1340.0 Z" fill="#f2a6c8" stroke="none" stroke-width="1" filter="url(#spW)"/>
<path d="M1505.0,1248.0 C1511.7,1250.3 1530.8,1256.7 1545.0,1262.0 C1559.2,1267.3 1574.2,1274.3 1590.0,1280.0 C1605.8,1285.7 1623.3,1291.8 1640.0,1296.0 C1656.7,1300.2 1673.3,1301.3 1690.0,1305.0 C1706.7,1308.7 1726.7,1312.2 1740.0,1318.0 C1753.3,1323.8 1765.0,1336.3 1770.0,1340.0 L1505,1340 Z" fill="#e86a88" stroke="none" stroke-width="1" filter="url(#spW)"/>
<path d="M1505.0,1236.0 C1514.2,1239.3 1540.8,1249.3 1560.0,1256.0 C1579.2,1262.7 1600.0,1270.0 1620.0,1276.0 C1640.0,1282.0 1663.3,1289.7 1680.0,1292.0 C1696.7,1294.3 1709.2,1291.0 1720.0,1290.0 C1730.8,1289.0 1740.8,1286.7 1745.0,1286.0" fill="none" stroke="#fbe4f0" stroke-width="3" />
<path d="M1716.0,1282.0 C1719.2,1280.8 1727.7,1275.0 1735.0,1275.0 C1742.3,1275.0 1751.7,1277.8 1760.0,1282.0 C1768.3,1286.2 1778.3,1293.7 1785.0,1300.0 C1791.7,1306.3 1797.5,1316.7 1800.0,1320.0" fill="none" stroke="#fff4fa" stroke-width="8" opacity="0.9"/>
<path d="M1620.0,1315.0 C1626.7,1316.2 1646.7,1319.5 1660.0,1322.0 C1673.3,1324.5 1693.3,1328.7 1700.0,1330.0" fill="none" stroke="#fff4fa" stroke-width="5" opacity="0.8"/>
<path d="M1505.0,1212.0 C1510.8,1215.2 1528.3,1225.2 1540.0,1231.0 C1551.7,1236.8 1563.3,1242.3 1575.0,1247.0 C1586.7,1251.7 1598.3,1255.5 1610.0,1259.0 C1621.7,1262.5 1633.3,1265.8 1645.0,1268.0 C1656.7,1270.2 1667.5,1272.8 1680.0,1272.0 C1692.5,1271.2 1706.7,1263.8 1720.0,1263.0 C1733.3,1262.2 1746.7,1261.3 1760.0,1267.0 C1773.3,1272.7 1786.7,1288.8 1800.0,1297.0 C1813.3,1305.2 1826.7,1312.7 1840.0,1316.0 C1853.3,1319.3 1865.8,1321.0 1880.0,1317.0 C1894.2,1313.0 1917.5,1296.2 1925.0,1292.0 L1925.0,1306.0 C1917.5,1310.0 1894.2,1326.5 1880.0,1330.0 C1865.8,1333.5 1853.3,1331.0 1840.0,1327.0 C1826.7,1323.0 1813.3,1314.7 1800.0,1306.0 C1786.7,1297.3 1773.3,1280.5 1760.0,1275.0 C1746.7,1269.5 1733.3,1271.7 1720.0,1273.0 C1706.7,1274.3 1692.5,1281.8 1680.0,1283.0 C1667.5,1284.2 1656.7,1282.2 1645.0,1280.0 C1633.3,1277.8 1621.7,1273.8 1610.0,1270.0 C1598.3,1266.2 1586.7,1261.8 1575.0,1257.0 C1563.3,1252.2 1551.7,1246.8 1540.0,1241.0 C1528.3,1235.2 1510.8,1225.2 1505.0,1222.0 Z" fill="#4c2a2a" stroke="none" stroke-width="1" filter="url(#spW)"/>
<path d="M1505.0,1224.0 C1510.8,1227.2 1528.3,1237.2 1540.0,1243.0 C1551.7,1248.8 1563.3,1254.2 1575.0,1259.0 C1586.7,1263.8 1598.3,1268.2 1610.0,1272.0 C1621.7,1275.8 1633.3,1279.8 1645.0,1282.0 C1656.7,1284.2 1667.5,1286.2 1680.0,1285.0 C1692.5,1283.8 1706.7,1276.3 1720.0,1275.0 C1733.3,1273.7 1746.7,1271.5 1760.0,1277.0 C1773.3,1282.5 1786.7,1299.3 1800.0,1308.0 C1813.3,1316.7 1826.7,1325.0 1840.0,1329.0 C1853.3,1333.0 1865.8,1335.5 1880.0,1332.0 C1894.2,1328.5 1917.5,1312.0 1925.0,1308.0" fill="none" stroke="#e890c0" stroke-width="2" opacity="0.8"/>
<path d="M1505.0,1080.0 C1510.8,1081.7 1528.3,1083.5 1540.0,1090.0 C1551.7,1096.5 1563.3,1109.8 1575.0,1119.0 C1586.7,1128.2 1598.3,1136.3 1610.0,1145.0 C1621.7,1153.7 1633.3,1163.5 1645.0,1171.0 C1656.7,1178.5 1667.5,1185.0 1680.0,1190.0 C1692.5,1195.0 1706.7,1196.7 1720.0,1201.0 C1733.3,1205.3 1746.7,1210.5 1760.0,1216.0 C1773.3,1221.5 1786.7,1228.0 1800.0,1234.0 C1813.3,1240.0 1826.7,1246.3 1840.0,1252.0 C1853.3,1257.7 1865.8,1262.7 1880.0,1268.0 C1894.2,1273.3 1917.5,1281.3 1925.0,1284.0 L1925.0,1305.0 C1917.5,1303.8 1894.2,1300.5 1880.0,1298.0 C1865.8,1295.5 1853.3,1293.5 1840.0,1290.0 C1826.7,1286.5 1813.3,1281.0 1800.0,1277.0 C1786.7,1273.0 1773.3,1269.5 1760.0,1266.0 C1746.7,1262.5 1733.3,1259.2 1720.0,1256.0 C1706.7,1252.8 1692.5,1249.7 1680.0,1247.0 C1667.5,1244.3 1656.7,1243.5 1645.0,1240.0 C1633.3,1236.5 1621.7,1232.2 1610.0,1226.0 C1598.3,1219.8 1586.7,1209.7 1575.0,1203.0 C1563.3,1196.3 1551.7,1192.2 1540.0,1186.0 C1528.3,1179.8 1510.8,1169.3 1505.0,1166.0 Z" fill="#eea4de" stroke="none" stroke-width="1" />
<path d="M1505.0,1100.0 C1510.8,1102.5 1528.3,1110.0 1540.0,1115.0 C1551.7,1120.0 1563.3,1122.8 1575.0,1130.0 C1586.7,1137.2 1598.3,1149.7 1610.0,1158.0 C1621.7,1166.3 1633.3,1174.2 1645.0,1180.0 C1656.7,1185.8 1667.5,1189.0 1680.0,1193.0 C1692.5,1197.0 1706.7,1199.8 1720.0,1204.0 C1733.3,1208.2 1746.7,1212.7 1760.0,1218.0 C1773.3,1223.3 1786.7,1230.0 1800.0,1236.0 C1813.3,1242.0 1826.7,1248.3 1840.0,1254.0 C1853.3,1259.7 1865.8,1264.7 1880.0,1270.0 C1894.2,1275.3 1917.5,1283.3 1925.0,1286.0 L1925.0,1291.0 C1917.5,1288.5 1894.2,1281.2 1880.0,1276.0 C1865.8,1270.8 1853.3,1265.7 1840.0,1260.0 C1826.7,1254.3 1813.3,1247.8 1800.0,1242.0 C1786.7,1236.2 1773.3,1230.2 1760.0,1225.0 C1746.7,1219.8 1733.3,1215.2 1720.0,1211.0 C1706.7,1206.8 1692.5,1203.8 1680.0,1200.0 C1667.5,1196.2 1656.7,1193.3 1645.0,1188.0 C1633.3,1182.7 1621.7,1176.0 1610.0,1168.0 C1598.3,1160.0 1586.7,1147.3 1575.0,1140.0 C1563.3,1132.7 1551.7,1129.0 1540.0,1124.0 C1528.3,1119.0 1510.8,1112.3 1505.0,1110.0 Z" fill="#8c72c4" stroke="none" stroke-width="1" filter="url(#spW)"/>
<path d="M1505.0,1120.0 C1510.8,1123.3 1528.3,1133.3 1540.0,1140.0 C1551.7,1146.7 1563.3,1153.0 1575.0,1160.0 C1586.7,1167.0 1598.3,1176.0 1610.0,1182.0 C1621.7,1188.0 1633.3,1192.0 1645.0,1196.0 C1656.7,1200.0 1667.5,1202.7 1680.0,1206.0 C1692.5,1209.3 1706.7,1212.0 1720.0,1216.0 C1733.3,1220.0 1746.7,1225.0 1760.0,1230.0 C1773.3,1235.0 1786.7,1240.5 1800.0,1246.0 C1813.3,1251.5 1826.7,1257.5 1840.0,1263.0 C1853.3,1268.5 1865.8,1274.0 1880.0,1279.0 C1894.2,1284.0 1917.5,1290.7 1925.0,1293.0 L1925.0,1300.0 C1917.5,1298.5 1894.2,1294.3 1880.0,1291.0 C1865.8,1287.7 1853.3,1284.2 1840.0,1280.0 C1826.7,1275.8 1813.3,1270.7 1800.0,1266.0 C1786.7,1261.3 1773.3,1256.2 1760.0,1252.0 C1746.7,1247.8 1733.3,1244.5 1720.0,1241.0 C1706.7,1237.5 1692.5,1234.3 1680.0,1231.0 C1667.5,1227.7 1656.7,1224.8 1645.0,1221.0 C1633.3,1217.2 1621.7,1212.5 1610.0,1208.0 C1598.3,1203.5 1586.7,1199.3 1575.0,1194.0 C1563.3,1188.7 1551.7,1182.3 1540.0,1176.0 C1528.3,1169.7 1510.8,1159.3 1505.0,1156.0 Z" fill="#5a4a9c" stroke="none" stroke-width="1" filter="url(#spW)"/>
<path d="M1505.0,1081.0 C1510.8,1082.7 1528.3,1084.5 1540.0,1091.0 C1551.7,1097.5 1563.3,1110.8 1575.0,1120.0 C1586.7,1129.2 1598.3,1137.3 1610.0,1146.0 C1621.7,1154.7 1633.3,1164.5 1645.0,1172.0 C1656.7,1179.5 1667.5,1186.0 1680.0,1191.0 C1692.5,1196.0 1706.7,1197.7 1720.0,1202.0 C1733.3,1206.3 1746.7,1211.5 1760.0,1217.0 C1773.3,1222.5 1786.7,1229.0 1800.0,1235.0 C1813.3,1241.0 1826.7,1247.3 1840.0,1253.0 C1853.3,1258.7 1865.8,1263.7 1880.0,1269.0 C1894.2,1274.3 1917.5,1282.3 1925.0,1285.0" fill="none" stroke="#c890d8" stroke-width="1.5" stroke-dasharray="2,2"/>
</g>
<g transform="translate(1655.0,1148.0) rotate(20) scale(0.95)"><path d="M0,0 L-6,-8 L-2.2,-8 L-2.2,-17 L2.2,-17 L2.2,-8 L6,-8 Z" fill="#f2b41e"/></g>
<g transform="translate(1661.0,1172.0) rotate(20) scale(0.95)"><path d="M0,0 L-6,-8 L-2.2,-8 L-2.2,-17 L2.2,-17 L2.2,-8 L6,-8 Z" fill="#f2b41e"/></g>
<g transform="translate(1694.0,1169.0) rotate(20) scale(0.95)"><path d="M0,0 L-6,-8 L-2.2,-8 L-2.2,-17 L2.2,-17 L2.2,-8 L6,-8 Z" fill="#f2b41e"/></g>
<g transform="translate(1705.0,1177.0) rotate(20) scale(0.95)"><path d="M0,0 L-6,-8 L-2.2,-8 L-2.2,-17 L2.2,-17 L2.2,-8 L6,-8 Z" fill="#f2b41e"/></g>
<g transform="translate(1764.0,1207.0) rotate(20) scale(0.95)"><path d="M0,0 L-6,-8 L-2.2,-8 L-2.2,-17 L2.2,-17 L2.2,-8 L6,-8 Z" fill="#f2b41e"/></g>
<g transform="translate(1787.0,1212.0) rotate(20) scale(0.95)"><path d="M0,0 L-6,-8 L-2.2,-8 L-2.2,-17 L2.2,-17 L2.2,-8 L6,-8 Z" fill="#f2b41e"/></g>
<g transform="translate(1858.0,1226.0) rotate(20) scale(0.95)"><path d="M0,0 L-6,-8 L-2.2,-8 L-2.2,-17 L2.2,-17 L2.2,-8 L6,-8 Z" fill="#f2b41e"/></g>
<g transform="translate(1843.0,1247.0) rotate(20) scale(0.95)"><path d="M0,0 L-6,-8 L-2.2,-8 L-2.2,-17 L2.2,-17 L2.2,-8 L6,-8 Z" fill="#f2b41e"/></g>
<g transform="translate(1903.0,1243.0) rotate(20) scale(0.95)"><path d="M0,0 L-6,-8 L-2.2,-8 L-2.2,-17 L2.2,-17 L2.2,-8 L6,-8 Z" fill="#f2b41e"/></g>
<g transform="translate(1905.0,1283.0) rotate(20) scale(0.95)"><path d="M0,0 L-6,-8 L-2.2,-8 L-2.2,-17 L2.2,-17 L2.2,-8 L6,-8 Z" fill="#f2b41e"/></g>
<g transform="translate(1617.0,1200.0) rotate(20) scale(0.95)"><path d="M0,0 L-6,-8 L-2.2,-8 L-2.2,-17 L2.2,-17 L2.2,-8 L6,-8 Z" fill="#f04848"/></g>
<g transform="translate(1707.0,1224.0) rotate(20) scale(0.95)"><path d="M0,0 L-6,-8 L-2.2,-8 L-2.2,-17 L2.2,-17 L2.2,-8 L6,-8 Z" fill="#f04848"/></g>
<g transform="translate(1741.0,1214.0) rotate(20) scale(0.95)"><path d="M0,0 L-6,-8 L-2.2,-8 L-2.2,-17 L2.2,-17 L2.2,-8 L6,-8 Z" fill="#283060"/></g>
<g transform="translate(1866.0,1266.0) rotate(20) scale(0.95)"><path d="M0,0 L-6,-8 L-2.2,-8 L-2.2,-17 L2.2,-17 L2.2,-8 L6,-8 Z" fill="#283060"/></g>
<rect x="1284.4" y="1360.6" width="636.0" height="221.9" fill="#a7c5f5" stroke="none" stroke-width="1" rx="3"/>
<rect x="1292.4" y="1368.6" width="206.2" height="205.9" fill="#ffffff" stroke="none" stroke-width="1" />
<rect x="1509.2" y="1368.6" width="403.2" height="205.9" fill="#ffffff" stroke="none" stroke-width="1" />
<clipPath id="cjl2"><rect x="1292.4" y="1368.2" width="206.2" height="207.8"/></clipPath><g clip-path="url(#cjl2)">
<path d="M1292,1440 C1305,1470 1318,1520 1312,1576 L1292,1576 Z" fill="#eeb0e0" stroke="none" stroke-width="1" filter="url(#spW)"/>
<path d="M1292,1530 C1310,1550 1330,1570 1345,1576 L1292,1576 Z" fill="#eeb0e0" stroke="none" stroke-width="1" filter="url(#spW)" opacity="0.8"/>
<path d="M1317.6,1455.2 C1319.7,1441.6 1323.8,1427.2 1330.1,1417.6 C1336.4,1408.0 1344.8,1402.4 1355.2,1397.6 C1365.6,1392.8 1380.2,1389.8 1392.7,1388.8 C1405.2,1387.8 1418.8,1388.6 1430.3,1391.3 C1441.8,1394.0 1454.1,1399.5 1461.6,1405.1 C1469.1,1410.7 1475.8,1414.7 1475.4,1425.1 C1475.0,1435.5 1462.0,1458.5 1459.1,1467.7 C1456.2,1476.9 1454.6,1476.1 1457.9,1480.3 C1461.2,1484.5 1477.1,1489.2 1479.2,1492.8 C1481.3,1496.3 1474.8,1498.5 1470.4,1501.6 C1466.0,1504.7 1455.0,1505.8 1452.9,1511.6 C1450.8,1517.4 1458.5,1528.9 1457.9,1536.6 C1457.3,1544.3 1453.7,1552.9 1449.1,1557.9 C1444.5,1562.9 1439.7,1564.8 1430.3,1566.7 C1420.9,1568.6 1405.2,1570.0 1392.7,1569.2 C1380.2,1568.4 1365.6,1567.1 1355.2,1561.7 C1344.8,1556.3 1336.4,1547.0 1330.1,1536.6 C1323.8,1526.1 1319.7,1512.6 1317.6,1499.0 C1315.5,1485.4 1315.5,1468.8 1317.6,1455.2 Z" fill="none" stroke="#e6a0e0" stroke-width="4" />
<path d="M1442.8,1398.8 C1435.7,1397.7 1413.8,1392.3 1400.0,1392.0 C1386.2,1391.7 1371.2,1392.7 1360.0,1397.0 C1348.8,1401.3 1339.3,1408.3 1333.0,1418.0 C1326.7,1427.7 1324.0,1441.3 1322.0,1455.0 C1320.0,1468.7 1319.2,1486.7 1321.0,1500.0 C1322.8,1513.3 1327.2,1525.3 1333.0,1535.0 C1338.8,1544.7 1346.2,1552.8 1356.0,1558.0 C1365.8,1563.2 1380.5,1565.2 1392.0,1566.0 C1403.5,1566.8 1419.5,1563.5 1425.0,1563.0" fill="none" stroke="#6a4ec0" stroke-width="4.5" />
<path d="M1442.8,1395.0 C1435.7,1393.8 1414.1,1388.3 1400.0,1388.0 C1385.9,1387.7 1369.8,1388.3 1358.0,1393.0 C1346.2,1397.7 1335.7,1405.7 1329.0,1416.0 C1322.3,1426.3 1320.0,1441.0 1318.0,1455.0 C1316.0,1469.0 1315.2,1486.3 1317.0,1500.0 C1318.8,1513.7 1322.8,1526.7 1329.0,1537.0 C1335.2,1547.3 1343.5,1556.5 1354.0,1562.0 C1364.5,1567.5 1379.7,1569.2 1392.0,1570.0 C1404.3,1570.8 1422.0,1567.5 1428.0,1567.0" fill="none" stroke="#3a2a30" stroke-width="1.4" />
<path d="M1462.9,1415.1 C1460.6,1415.9 1450.8,1415.5 1449.1,1420.1 C1447.4,1424.7 1453.1,1434.8 1452.9,1442.7 C1452.7,1450.6 1449.6,1457.3 1447.9,1467.7 C1446.2,1478.1 1446.2,1493.8 1442.8,1505.3 C1439.4,1516.8 1427.2,1529.5 1427.8,1536.6 C1428.4,1543.7 1445.1,1543.7 1446.6,1547.9 C1448.1,1552.1 1438.3,1559.4 1436.6,1561.7" fill="none" stroke="#3a1c1c" stroke-width="1.8" />
<path d="M1416.5,1417.6 C1424.4,1418.0 1428.8,1416.8 1434.0,1425.1 C1439.2,1433.4 1446.0,1454.3 1447.9,1467.7 C1449.8,1481.1 1449.4,1494.2 1445.4,1505.3 C1441.4,1516.4 1430.7,1527.8 1424.0,1534.1 C1417.3,1540.4 1413.6,1542.5 1405.3,1542.9 C1397.0,1543.3 1383.4,1542.9 1374.0,1536.6 C1364.6,1530.3 1353.9,1516.8 1348.9,1505.3 C1343.9,1493.8 1342.4,1479.2 1343.9,1467.7 C1345.4,1456.2 1350.6,1443.9 1357.7,1436.4 C1364.8,1428.9 1376.7,1425.7 1386.5,1422.6 C1396.3,1419.5 1408.6,1417.2 1416.5,1417.6 Z" fill="url(#glens2)" stroke="none" stroke-width="1" />
<path d="M1380.0,1500.0 C1382.5,1502.0 1388.3,1510.7 1395.0,1512.0 C1401.7,1513.3 1413.8,1511.7 1420.0,1508.0 C1426.2,1504.3 1430.7,1497.7 1432.0,1490.0 C1433.3,1482.3 1428.7,1466.7 1428.0,1462.0" fill="none" stroke="#ffffff" stroke-width="2.2" opacity="0.85"/>
<rect x="1335.7" y="1531.0" width="98.3" height="43.2" fill="none" stroke="#7eb2f2" stroke-width="2.2" stroke-dasharray="7,6"/>
<line x1="1434.0" y1="1531.0" x2="1494.2" y2="1372.5" stroke="#7eb2f2" stroke-width="2.2" stroke-dasharray="8,7"/>
<line x1="1434.0" y1="1574.2" x2="1494.2" y2="1574.2" stroke="#7eb2f2" stroke-width="2.2" stroke-dasharray="8,7"/>
</g>
<clipPath id="cj2"><rect x="1509.2" y="1367" width="404.2" height="207"/></clipPath><g clip-path="url(#cj2)">
<path d="M1630.0,1360.0 C1633.9,1362.8 1644.0,1371.5 1653.3,1376.9 C1662.6,1382.3 1675.1,1388.2 1686.1,1392.2 C1697.0,1396.2 1709.9,1399.3 1719.0,1401.0 C1728.1,1402.7 1731.8,1402.8 1740.9,1402.1 C1750.0,1401.4 1762.8,1400.1 1773.7,1396.6 C1784.6,1393.1 1796.8,1387.4 1806.5,1381.3 C1816.2,1375.2 1827.8,1363.5 1832.0,1360.0 Z" fill="#da6ad2" stroke="none" stroke-width="1" filter="url(#spW)"/>
<path d="M1640.0,1366.0 C1646.7,1370.3 1666.7,1385.7 1680.0,1392.0 C1693.3,1398.3 1706.7,1402.3 1720.0,1404.0 C1733.3,1405.7 1753.3,1402.3 1760.0,1402.0" fill="none" stroke="#eeb6ea" stroke-width="2.5" />
<path d="M1844.9,1360.0 C1844.7,1363.5 1843.2,1374.8 1843.8,1381.3 C1844.3,1387.8 1845.3,1394.4 1848.2,1398.8 C1851.1,1403.2 1855.5,1405.8 1861.3,1407.6 C1867.1,1409.4 1873.4,1408.6 1883.2,1409.7 C1893.0,1410.8 1913.9,1413.3 1920.0,1414.0" fill="none" stroke="#4e2a26" stroke-width="7" />
<path d="M1862.0,1512.0 C1863.7,1508.3 1868.7,1497.3 1872.0,1490.0 C1875.3,1482.7 1878.2,1474.7 1882.0,1468.0 C1885.8,1461.3 1889.5,1454.7 1895.0,1450.0 C1900.5,1445.3 1911.7,1441.7 1915.0,1440.0" fill="none" stroke="#b070b8" stroke-width="6" opacity="0.7" stroke-dasharray="5,2"/>
<path d="M1858.0,1505.0 C1859.7,1501.5 1864.3,1491.2 1868.0,1484.0 C1871.7,1476.8 1876.0,1468.3 1880.0,1462.0 C1884.0,1455.7 1886.2,1450.3 1892.0,1446.0 C1897.8,1441.7 1911.2,1437.7 1915.0,1436.0" fill="none" stroke="#5a2a2a" stroke-width="2.2" stroke-dasharray="6,3"/>
<circle cx="1890.0" cy="1450.0" r="3.2" fill="none" stroke="#8a3a6a" stroke-width="1.5"/>
<circle cx="1900.0" cy="1444.0" r="3.2" fill="none" stroke="#8a3a6a" stroke-width="1.5"/>
<circle cx="1906.0" cy="1458.0" r="3.2" fill="none" stroke="#8a3a6a" stroke-width="1.5"/>
<circle cx="1880.0" cy="1470.0" r="3.2" fill="none" stroke="#8a3a6a" stroke-width="1.5"/>
<circle cx="1872.0" cy="1486.0" r="3.2" fill="none" stroke="#8a3a6a" stroke-width="1.5"/>
<path d="M1505.0,1504.0 C1510.8,1506.3 1528.3,1513.7 1540.0,1518.0 C1551.7,1522.3 1563.3,1526.5 1575.0,1530.0 C1586.7,1533.5 1598.3,1536.5 1610.0,1539.0 C1621.7,1541.5 1633.3,1543.3 1645.0,1545.0 C1656.7,1546.7 1667.5,1548.2 1680.0,1549.0 C1692.5,1549.8 1706.7,1550.2 1720.0,1550.0 C1733.3,1549.8 1746.7,1549.2 1760.0,1548.0 C1773.3,1546.8 1786.7,1545.3 1800.0,1543.0 C1813.3,1540.7 1826.7,1538.2 1840.0,1534.0 C1853.3,1529.8 1867.5,1526.3 1880.0,1518.0 C1892.5,1509.7 1909.2,1489.7 1915.0,1484.0 L1915.0,1500.0 C1909.2,1505.7 1892.5,1525.7 1880.0,1534.0 C1867.5,1542.3 1853.3,1545.8 1840.0,1550.0 C1826.7,1554.2 1813.3,1556.7 1800.0,1559.0 C1786.7,1561.3 1773.3,1562.8 1760.0,1564.0 C1746.7,1565.2 1733.3,1565.8 1720.0,1566.0 C1706.7,1566.2 1692.5,1565.8 1680.0,1565.0 C1667.5,1564.2 1656.7,1562.7 1645.0,1561.0 C1633.3,1559.3 1621.7,1557.5 1610.0,1555.0 C1598.3,1552.5 1586.7,1549.5 1575.0,1546.0 C1563.3,1542.5 1551.7,1538.3 1540.0,1534.0 C1528.3,1529.7 1510.8,1522.3 1505.0,1520.0 Z" fill="#f7dcf2" stroke="none" stroke-width="1" filter="url(#spW)"/>
<path d="M1505.0,1498.0 C1510.8,1500.3 1528.3,1507.7 1540.0,1512.0 C1551.7,1516.3 1563.3,1520.5 1575.0,1524.0 C1586.7,1527.5 1598.3,1530.5 1610.0,1533.0 C1621.7,1535.5 1633.3,1537.3 1645.0,1539.0 C1656.7,1540.7 1667.5,1542.2 1680.0,1543.0 C1692.5,1543.8 1706.7,1544.2 1720.0,1544.0 C1733.3,1543.8 1746.7,1543.2 1760.0,1542.0 C1773.3,1540.8 1786.7,1539.3 1800.0,1537.0 C1813.3,1534.7 1826.7,1532.2 1840.0,1528.0 C1853.3,1523.8 1867.5,1520.3 1880.0,1512.0 C1892.5,1503.7 1909.2,1483.7 1915.0,1478.0 L1915.0,1484.0 C1909.2,1489.7 1892.5,1509.7 1880.0,1518.0 C1867.5,1526.3 1853.3,1529.8 1840.0,1534.0 C1826.7,1538.2 1813.3,1540.7 1800.0,1543.0 C1786.7,1545.3 1773.3,1546.8 1760.0,1548.0 C1746.7,1549.2 1733.3,1549.8 1720.0,1550.0 C1706.7,1550.2 1692.5,1549.8 1680.0,1549.0 C1667.5,1548.2 1656.7,1546.7 1645.0,1545.0 C1633.3,1543.3 1621.7,1541.5 1610.0,1539.0 C1598.3,1536.5 1586.7,1533.5 1575.0,1530.0 C1563.3,1526.5 1551.7,1522.3 1540.0,1518.0 C1528.3,1513.7 1510.8,1506.3 1505.0,1504.0 Z" fill="#e584d8" stroke="none" stroke-width="1" />
<path d="M1505.0,1480.0 C1510.8,1482.7 1528.3,1491.0 1540.0,1496.0 C1551.7,1501.0 1563.3,1506.0 1575.0,1510.0 C1586.7,1514.0 1598.3,1517.0 1610.0,1520.0 C1621.7,1523.0 1633.3,1525.8 1645.0,1528.0 C1656.7,1530.2 1667.5,1531.8 1680.0,1533.0 C1692.5,1534.2 1706.7,1535.0 1720.0,1535.0 C1733.3,1535.0 1746.7,1534.0 1760.0,1533.0 C1773.3,1532.0 1786.7,1530.8 1800.0,1529.0 C1813.3,1527.2 1826.7,1526.0 1840.0,1522.0 C1853.3,1518.0 1867.5,1514.0 1880.0,1505.0 C1892.5,1496.0 1909.2,1474.2 1915.0,1468.0" fill="none" stroke="#3c1e1e" stroke-width="2.2" />
<path d="M1505.0,1498.0 C1510.8,1500.3 1528.3,1507.7 1540.0,1512.0 C1551.7,1516.3 1563.3,1520.5 1575.0,1524.0 C1586.7,1527.5 1598.3,1530.5 1610.0,1533.0 C1621.7,1535.5 1633.3,1537.3 1645.0,1539.0 C1656.7,1540.7 1667.5,1542.2 1680.0,1543.0 C1692.5,1543.8 1706.7,1544.2 1720.0,1544.0 C1733.3,1543.8 1746.7,1543.2 1760.0,1542.0 C1773.3,1540.8 1786.7,1539.3 1800.0,1537.0 C1813.3,1534.7 1826.7,1532.2 1840.0,1528.0 C1853.3,1523.8 1867.5,1520.3 1880.0,1512.0 C1892.5,1503.7 1909.2,1483.7 1915.0,1478.0" fill="none" stroke="#3c1e1e" stroke-width="2.6" />
<path d="M1505.0,1489.0 C1510.8,1491.5 1528.3,1499.3 1540.0,1504.0 C1551.7,1508.7 1563.3,1513.2 1575.0,1517.0 C1586.7,1520.8 1598.3,1523.8 1610.0,1526.5 C1621.7,1529.2 1633.3,1531.6 1645.0,1533.5 C1656.7,1535.4 1667.5,1537.0 1680.0,1538.0 C1692.5,1539.0 1706.7,1539.6 1720.0,1539.5 C1733.3,1539.4 1746.7,1538.6 1760.0,1537.5 C1773.3,1536.4 1786.7,1535.1 1800.0,1533.0 C1813.3,1530.9 1826.7,1529.1 1840.0,1525.0 C1853.3,1520.9 1867.5,1517.2 1880.0,1508.5 C1892.5,1499.8 1909.2,1478.9 1915.0,1473.0" fill="none" stroke="#6a3a3a" stroke-width="1" stroke-dasharray="5,4"/>
<path d="M1505.0,1423.0 C1510.8,1425.5 1528.3,1433.3 1540.0,1438.0 C1551.7,1442.7 1563.3,1446.5 1575.0,1451.0 C1586.7,1455.5 1598.3,1460.2 1610.0,1465.0 C1621.7,1469.8 1633.3,1475.8 1645.0,1480.0 C1656.7,1484.2 1667.5,1487.7 1680.0,1490.0 C1692.5,1492.3 1706.7,1493.8 1720.0,1494.0 C1733.3,1494.2 1746.7,1492.2 1760.0,1491.0 C1773.3,1489.8 1786.7,1487.5 1800.0,1487.0 C1813.3,1486.5 1833.3,1487.8 1840.0,1488.0 L1840.0,1518.0 C1833.3,1518.7 1813.3,1520.7 1800.0,1522.0 C1786.7,1523.3 1773.3,1524.8 1760.0,1526.0 C1746.7,1527.2 1733.3,1528.7 1720.0,1529.0 C1706.7,1529.3 1692.5,1529.0 1680.0,1528.0 C1667.5,1527.0 1656.7,1525.0 1645.0,1523.0 C1633.3,1521.0 1621.7,1518.8 1610.0,1516.0 C1598.3,1513.2 1586.7,1510.0 1575.0,1506.0 C1563.3,1502.0 1551.7,1496.7 1540.0,1492.0 C1528.3,1487.3 1510.8,1480.3 1505.0,1478.0 Z" fill="#cc9ce4" stroke="none" stroke-width="1" />
<path d="M1505.0,1440.0 C1510.8,1442.3 1528.3,1449.5 1540.0,1454.0 C1551.7,1458.5 1563.3,1462.7 1575.0,1467.0 C1586.7,1471.3 1598.3,1475.8 1610.0,1480.0 C1621.7,1484.2 1633.3,1488.5 1645.0,1492.0 C1656.7,1495.5 1667.5,1499.0 1680.0,1501.0 C1692.5,1503.0 1706.7,1504.2 1720.0,1504.0 C1733.3,1503.8 1746.7,1501.2 1760.0,1500.0 C1773.3,1498.8 1786.7,1497.5 1800.0,1497.0 C1813.3,1496.5 1833.3,1497.0 1840.0,1497.0 L1840.0,1502.0 C1833.3,1502.2 1813.3,1502.2 1800.0,1503.0 C1786.7,1503.8 1773.3,1505.8 1760.0,1507.0 C1746.7,1508.2 1733.3,1509.8 1720.0,1510.0 C1706.7,1510.2 1692.5,1509.8 1680.0,1508.0 C1667.5,1506.2 1656.7,1502.3 1645.0,1499.0 C1633.3,1495.7 1621.7,1492.0 1610.0,1488.0 C1598.3,1484.0 1586.7,1479.3 1575.0,1475.0 C1563.3,1470.7 1551.7,1466.5 1540.0,1462.0 C1528.3,1457.5 1510.8,1450.3 1505.0,1448.0 Z" fill="#7e62c4" stroke="none" stroke-width="1" filter="url(#spW)"/>
<path d="M1505.0,1452.0 C1510.8,1454.3 1528.3,1461.5 1540.0,1466.0 C1551.7,1470.5 1563.3,1474.7 1575.0,1479.0 C1586.7,1483.3 1598.3,1488.0 1610.0,1492.0 C1621.7,1496.0 1633.3,1499.8 1645.0,1503.0 C1656.7,1506.2 1667.5,1509.3 1680.0,1511.0 C1692.5,1512.7 1706.7,1513.2 1720.0,1513.0 C1733.3,1512.8 1746.7,1511.2 1760.0,1510.0 C1773.3,1508.8 1786.7,1506.8 1800.0,1506.0 C1813.3,1505.2 1833.3,1505.2 1840.0,1505.0 L1840.0,1511.0 C1833.3,1511.5 1813.3,1512.8 1800.0,1514.0 C1786.7,1515.2 1773.3,1516.8 1760.0,1518.0 C1746.7,1519.2 1733.3,1520.7 1720.0,1521.0 C1706.7,1521.3 1692.5,1521.0 1680.0,1520.0 C1667.5,1519.0 1656.7,1517.0 1645.0,1515.0 C1633.3,1513.0 1621.7,1511.2 1610.0,1508.0 C1598.3,1504.8 1586.7,1500.0 1575.0,1496.0 C1563.3,1492.0 1551.7,1488.3 1540.0,1484.0 C1528.3,1479.7 1510.8,1472.3 1505.0,1470.0 Z" fill="#5442aa" stroke="none" stroke-width="1" filter="url(#spW)"/>
<path d="M1838,1488 C1848,1486 1858,1490 1860,1500 C1850,1512 1840,1514 1838,1500 Z" fill="#d6a6e8" stroke="none" stroke-width="1" />
<path d="M1683.0,1510.0 C1684.0,1507.7 1686.2,1506.8 1690.0,1506.0 C1693.8,1505.2 1702.3,1504.0 1706.0,1505.0 C1709.7,1506.0 1711.7,1508.5 1712.0,1512.0 C1712.3,1515.5 1711.7,1523.5 1708.0,1526.0 C1704.3,1528.5 1694.0,1528.0 1690.0,1527.0 C1686.0,1526.0 1685.2,1522.8 1684.0,1520.0 C1682.8,1517.2 1682.0,1512.3 1683.0,1510.0 Z" fill="#ffffff" stroke="none" stroke-width="1" />
<path d="M1716.0,1486.0 C1718.0,1483.5 1726.3,1481.0 1730.0,1482.0 C1733.7,1483.0 1738.0,1489.0 1738.0,1492.0 C1738.0,1495.0 1733.3,1499.2 1730.0,1500.0 C1726.7,1500.8 1720.3,1499.3 1718.0,1497.0 C1715.7,1494.7 1714.0,1488.5 1716.0,1486.0 Z" fill="#ffffff" stroke="none" stroke-width="1" />
</g>
<g transform="translate(1638.0,1392.0) rotate(200) scale(0.95)"><path d="M0,0 L-6,-8 L-2.2,-8 L-2.2,-17 L2.2,-17 L2.2,-8 L6,-8 Z" fill="#f2b41e"/></g>
<g transform="translate(1708.0,1420.0) rotate(200) scale(0.95)"><path d="M0,0 L-6,-8 L-2.2,-8 L-2.2,-17 L2.2,-17 L2.2,-8 L6,-8 Z" fill="#f2b41e"/></g>
<g transform="translate(1746.0,1438.0) rotate(200) scale(0.95)"><path d="M0,0 L-6,-8 L-2.2,-8 L-2.2,-17 L2.2,-17 L2.2,-8 L6,-8 Z" fill="#f2b41e"/></g>
<g transform="translate(1776.0,1432.0) rotate(200) scale(0.95)"><path d="M0,0 L-6,-8 L-2.2,-8 L-2.2,-17 L2.2,-17 L2.2,-8 L6,-8 Z" fill="#f2b41e"/></g>
<g transform="translate(1741.0,1490.0) rotate(-50) scale(0.95)"><path d="M0,0 L-6,-8 L-2.2,-8 L-2.2,-17 L2.2,-17 L2.2,-8 L6,-8 Z" fill="#283060"/></g>
<rect x="1285.0" y="1607.5" width="635.4" height="221.7" fill="#aeb3d2" stroke="none" stroke-width="1" rx="3"/>
<rect x="1293.0" y="1615.5" width="205.6" height="205.7" fill="#ffffff" stroke="none" stroke-width="1" />
<rect x="1509.2" y="1615.5" width="403.2" height="205.7" fill="#ffffff" stroke="none" stroke-width="1" />
<clipPath id="cjl3"><rect x="1293.2" y="1614.8" width="205.4" height="205.7"/></clipPath><g clip-path="url(#cjl3)">
<path d="M1312.0,1770.0 C1315.3,1763.8 1322.0,1780.0 1330.0,1785.0 C1338.0,1790.0 1349.2,1796.2 1360.0,1800.0 C1370.8,1803.8 1388.3,1804.3 1395.0,1808.0 C1401.7,1811.7 1414.2,1819.7 1400.0,1822.0 C1385.8,1824.3 1324.7,1830.7 1310.0,1822.0 C1295.3,1813.3 1308.7,1776.2 1312.0,1770.0 Z" fill="#eeb2e6" stroke="none" stroke-width="1" filter="url(#spW)"/>
<circle cx="1341.4" cy="1815.5" r="7.5" fill="#e690e0" />
<path d="M1417.2,1676.5 C1415.2,1673.1 1411.9,1661.4 1405.2,1656.3 C1398.6,1651.3 1387.5,1646.4 1377.1,1646.3 C1366.7,1646.2 1353.0,1650.4 1342.6,1655.8 C1332.2,1661.1 1320.9,1668.8 1314.4,1678.3 C1308.0,1687.8 1304.4,1700.7 1303.8,1712.7 C1303.2,1724.7 1305.7,1739.5 1310.7,1750.3 C1315.6,1761.1 1323.7,1769.7 1333.2,1777.2 C1342.8,1784.8 1356.7,1791.8 1367.7,1795.4 C1378.7,1799.1 1391.0,1800.1 1399.0,1799.2 C1407.0,1798.2 1412.8,1793.8 1415.9,1789.8 C1419.0,1785.8 1417.4,1777.8 1417.8,1775.4" fill="none" stroke="#d6a6ea" stroke-width="9" />
<path d="M1418.0,1676.2 C1416.1,1672.8 1413.2,1660.7 1406.5,1655.6 C1399.8,1650.5 1388.4,1645.7 1377.7,1645.6 C1367.1,1645.5 1353.2,1649.8 1342.6,1655.1 C1331.9,1660.5 1320.5,1668.1 1313.8,1677.7 C1307.2,1687.3 1303.5,1700.6 1302.8,1712.7 C1302.1,1724.8 1304.5,1739.4 1309.5,1750.3 C1314.5,1761.2 1322.9,1770.4 1332.6,1778.1 C1342.3,1785.8 1356.6,1792.8 1367.7,1796.4 C1378.8,1800.0 1390.9,1800.9 1399.0,1799.9 C1407.1,1798.9 1413.0,1794.8 1416.3,1790.7 C1419.5,1786.6 1418.1,1777.9 1418.5,1775.4" fill="none" stroke="#5a3cbc" stroke-width="3.2" />
<path d="M1421.5,1675.2 C1419.8,1671.4 1418.4,1658.0 1411.5,1652.6 C1404.6,1647.2 1391.7,1642.6 1380.2,1642.6 C1368.7,1642.6 1354.1,1647.2 1342.6,1652.6 C1331.1,1658.0 1318.6,1665.2 1311.3,1675.2 C1304.0,1685.2 1299.8,1700.2 1298.8,1712.7 C1297.8,1725.2 1299.8,1738.8 1305.0,1750.3 C1310.2,1761.8 1319.6,1773.2 1330.1,1781.6 C1340.5,1789.9 1356.2,1796.9 1367.7,1800.4 C1379.2,1804.0 1390.7,1803.9 1399.0,1802.9 C1407.3,1801.9 1414.0,1798.8 1417.8,1794.2 C1421.5,1789.6 1420.9,1778.5 1421.5,1775.4" fill="none" stroke="#4a3a3a" stroke-width="1.2" />
<path d="M1423.9,1673.3 C1422.1,1669.4 1420.6,1655.5 1413.5,1649.8 C1406.3,1644.2 1392.9,1639.4 1380.9,1639.4 C1369.0,1639.4 1353.8,1644.2 1341.8,1649.8 C1329.9,1655.5 1316.9,1662.9 1309.3,1673.3 C1301.7,1683.7 1297.4,1699.3 1296.3,1712.3 C1295.2,1725.3 1297.3,1739.5 1302.7,1751.4 C1308.1,1763.4 1318.0,1775.3 1328.8,1784.0 C1339.7,1792.7 1356.0,1799.8 1367.9,1803.5 C1379.9,1807.2 1391.8,1807.2 1400.5,1806.1 C1409.2,1805.1 1416.1,1801.9 1420.0,1797.1 C1423.9,1792.3 1423.2,1780.8 1423.9,1777.5" fill="none" stroke="#e8a0e4" stroke-width="1.5" />
<circle cx="1369.0" cy="1722.0" r="45.5" fill="url(#glens3)" />
<path d="M1396,1678 L1404,1681 L1406,1692 L1398,1688 Z" fill="#e488e4" stroke="none" stroke-width="1" />
<rect x="1330.1" y="1762.9" width="97.7" height="50.1" fill="none" stroke="#8890be" stroke-width="2.2" stroke-dasharray="7,6"/>
<line x1="1427.8" y1="1762.9" x2="1495.5" y2="1626.3" stroke="#8890be" stroke-width="2.2" stroke-dasharray="8,7"/>
<line x1="1427.8" y1="1813.0" x2="1495.5" y2="1820.5" stroke="#8890be" stroke-width="2.2" stroke-dasharray="8,7"/>
</g>
<clipPath id="cj3"><rect x="1509.2" y="1614.5" width="404.2" height="206"/></clipPath><g clip-path="url(#cj3)">
<path d="M1505.0,1720.0 C1511.7,1724.2 1530.8,1736.7 1545.0,1745.0 C1559.2,1753.3 1574.2,1761.7 1590.0,1770.0 C1605.8,1778.3 1623.3,1788.0 1640.0,1795.0 C1656.7,1802.0 1672.5,1807.0 1690.0,1812.0 C1707.5,1817.0 1735.8,1822.8 1745.0,1825.0 L1505,1825 Z" fill="#f0a8e4" stroke="none" stroke-width="1" filter="url(#spW)"/>
<path d="M1505.0,1745.0 C1510.8,1749.2 1527.5,1761.7 1540.0,1770.0 C1552.5,1778.3 1566.7,1787.5 1580.0,1795.0 C1593.3,1802.5 1610.0,1810.0 1620.0,1815.0 C1630.0,1820.0 1636.7,1823.3 1640.0,1825.0 L1505,1825 Z" fill="#e47ad8" stroke="none" stroke-width="1" filter="url(#spW)" opacity="0.8"/>
<path d="M1505.0,1712.0 C1517.5,1718.0 1555.8,1736.3 1580.0,1748.0 C1604.2,1759.7 1628.3,1772.3 1650.0,1782.0 C1671.7,1791.7 1695.3,1800.3 1710.0,1806.0 C1724.7,1811.7 1729.7,1815.7 1738.0,1816.0 C1746.3,1816.3 1751.3,1811.5 1760.0,1808.0 C1768.7,1804.5 1778.3,1802.2 1790.0,1795.0 C1801.7,1787.8 1819.7,1777.5 1830.0,1765.0 C1840.3,1752.5 1847.7,1735.8 1852.0,1720.0 C1856.3,1704.2 1857.0,1685.0 1856.0,1670.0 C1855.0,1655.0 1847.7,1636.7 1846.0,1630.0" fill="none" stroke="#3a2a2a" stroke-width="1.8" />
<path d="M1512.0,1722.0 C1520.0,1726.7 1547.0,1743.3 1560.0,1750.0 C1573.0,1756.7 1583.3,1757.3 1590.0,1762.0 C1596.7,1766.7 1591.7,1774.2 1600.0,1778.0 C1608.3,1781.8 1626.7,1781.3 1640.0,1785.0 C1653.3,1788.7 1673.3,1797.5 1680.0,1800.0" fill="none" stroke="#4a3030" stroke-width="1.2" />
<path d="M1740.0,1818.0 C1748.3,1814.3 1775.0,1805.0 1790.0,1796.0 C1805.0,1787.0 1819.0,1777.0 1830.0,1764.0 C1841.0,1751.0 1850.3,1733.3 1856.0,1718.0 C1861.7,1702.7 1864.7,1687.0 1864.0,1672.0 C1863.3,1657.0 1854.0,1635.3 1852.0,1628.0" fill="none" stroke="#e070e0" stroke-width="2.5" />
<path d="M1866.0,1680.0 C1867.0,1683.3 1873.0,1690.0 1872.0,1700.0 C1871.0,1710.0 1866.2,1728.0 1860.0,1740.0 C1853.8,1752.0 1839.2,1766.7 1835.0,1772.0" fill="none" stroke="#e8a0e8" stroke-width="1.5" />
<path d="M1505.0,1652.0 C1515.1,1656.8 1544.6,1670.7 1565.7,1681.0 C1586.8,1691.3 1611.3,1705.5 1631.4,1713.9 C1651.5,1722.3 1667.8,1728.9 1686.1,1731.4 C1704.3,1734.0 1724.5,1733.6 1740.9,1729.2 C1757.3,1724.8 1773.7,1714.6 1784.6,1705.1 C1795.5,1695.6 1801.9,1681.4 1806.5,1672.3 C1811.1,1663.2 1808.8,1656.8 1812.0,1650.4 C1815.2,1644.0 1823.7,1636.7 1826.0,1634.0 L1850.3,1643.8 C1849.6,1651.1 1849.7,1674.5 1846.0,1687.6 C1842.3,1700.7 1836.8,1711.6 1828.4,1722.6 C1820.0,1733.5 1810.2,1745.3 1795.6,1753.3 C1781.0,1761.3 1759.2,1767.1 1740.9,1770.8 C1722.7,1774.5 1704.3,1776.7 1686.1,1775.2 C1667.8,1773.7 1651.5,1768.6 1631.4,1762.0 C1611.3,1755.4 1586.8,1744.5 1565.7,1735.8 C1544.6,1727.0 1515.1,1713.9 1505.0,1709.5 Z" fill="#bf96e2" stroke="none" stroke-width="1" />
<path d="M1505.0,1676.2 C1515.1,1680.8 1544.6,1694.4 1565.7,1704.0 C1586.8,1713.7 1611.3,1726.5 1631.4,1734.1 C1651.5,1741.7 1667.8,1747.7 1686.1,1749.8 C1704.3,1751.9 1723.7,1750.7 1740.9,1746.7 C1758.1,1742.6 1776.8,1734.2 1789.2,1725.3 C1801.7,1716.5 1809.5,1703.3 1815.7,1693.4 C1821.9,1683.5 1822.9,1675.2 1826.3,1666.0 C1829.7,1656.8 1834.6,1642.8 1836.2,1638.1" fill="none" stroke="#6a4cc4" stroke-width="9" opacity="0.9"/>
<path d="M1505.0,1692.2 C1515.1,1696.8 1544.6,1710.1 1565.7,1719.4 C1586.8,1728.6 1611.3,1740.5 1631.4,1747.6 C1651.5,1754.7 1667.8,1760.3 1686.1,1762.1 C1704.3,1763.9 1723.2,1762.2 1740.9,1758.3 C1758.6,1754.5 1778.8,1747.3 1792.3,1738.8 C1805.8,1730.4 1814.6,1717.9 1821.8,1707.5 C1829.1,1697.1 1832.3,1687.5 1835.8,1676.4 C1839.3,1665.3 1841.8,1646.8 1843.0,1640.9" fill="none" stroke="#4a2eaa" stroke-width="15" opacity="0.92"/>
<path d="M1505.0,1691.1 C1515.1,1695.6 1544.6,1709.0 1565.7,1718.3 C1586.8,1727.5 1611.3,1739.5 1631.4,1746.6 C1651.5,1753.8 1667.8,1759.4 1686.1,1761.2 C1704.3,1763.0 1723.2,1761.4 1740.9,1757.5 C1758.6,1753.6 1778.7,1746.4 1792.1,1737.9 C1805.5,1729.4 1814.2,1716.9 1821.4,1706.5 C1828.6,1696.1 1831.6,1686.7 1835.1,1675.7 C1838.6,1664.7 1841.3,1646.5 1842.5,1640.7" fill="none" stroke="#8a70d0" stroke-width="2" stroke-dasharray="2,3"/>
<path d="M1505.0,1709.5 C1515.1,1713.9 1544.6,1727.0 1565.7,1735.8 C1586.8,1744.5 1611.3,1755.4 1631.4,1762.0 C1651.5,1768.6 1667.8,1773.7 1686.1,1775.2 C1704.3,1776.7 1722.7,1774.5 1740.9,1770.8 C1759.2,1767.1 1781.0,1761.3 1795.6,1753.3 C1810.2,1745.3 1820.0,1733.5 1828.4,1722.6 C1836.8,1711.6 1842.3,1700.7 1846.0,1687.6 C1849.7,1674.5 1849.6,1651.1 1850.3,1643.8" fill="none" stroke="#3a2a2a" stroke-width="1.8" />
<path d="M1505.0,1652.0 C1515.1,1656.8 1544.6,1670.7 1565.7,1681.0 C1586.8,1691.3 1611.3,1705.5 1631.4,1713.9 C1651.5,1722.3 1667.8,1728.9 1686.1,1731.4 C1704.3,1734.0 1724.5,1733.6 1740.9,1729.2 C1757.3,1724.8 1773.7,1714.6 1784.6,1705.1 C1795.5,1695.6 1801.9,1681.4 1806.5,1672.3 C1811.1,1663.2 1808.8,1656.8 1812.0,1650.4 C1815.2,1644.0 1823.7,1636.7 1826.0,1634.0" fill="none" stroke="#c898e0" stroke-width="1.5" />
</g>
<g transform="translate(1577.0,1666.0) rotate(20) scale(0.95)"><path d="M0,0 L-6,-8 L-2.2,-8 L-2.2,-17 L2.2,-17 L2.2,-8 L6,-8 Z" fill="#f2b41e"/></g>
<g transform="translate(1686.0,1661.0) rotate(20) scale(0.95)"><path d="M0,0 L-6,-8 L-2.2,-8 L-2.2,-17 L2.2,-17 L2.2,-8 L6,-8 Z" fill="#f2b41e"/></g>
<g transform="translate(1757.0,1666.0) rotate(20) scale(0.95)"><path d="M0,0 L-6,-8 L-2.2,-8 L-2.2,-17 L2.2,-17 L2.2,-8 L6,-8 Z" fill="#f2b41e"/></g>
<g transform="translate(1802.0,1776.0) rotate(20) scale(0.95)"><path d="M0,0 L-6,-8 L-2.2,-8 L-2.2,-17 L2.2,-17 L2.2,-8 L6,-8 Z" fill="#f2b41e"/></g>
<g transform="translate(1666.0,1735.0) rotate(155) scale(0.95)"><path d="M0,0 L-6,-8 L-2.2,-8 L-2.2,-17 L2.2,-17 L2.2,-8 L6,-8 Z" fill="#284050"/></g>
</svg>
</body></html>
